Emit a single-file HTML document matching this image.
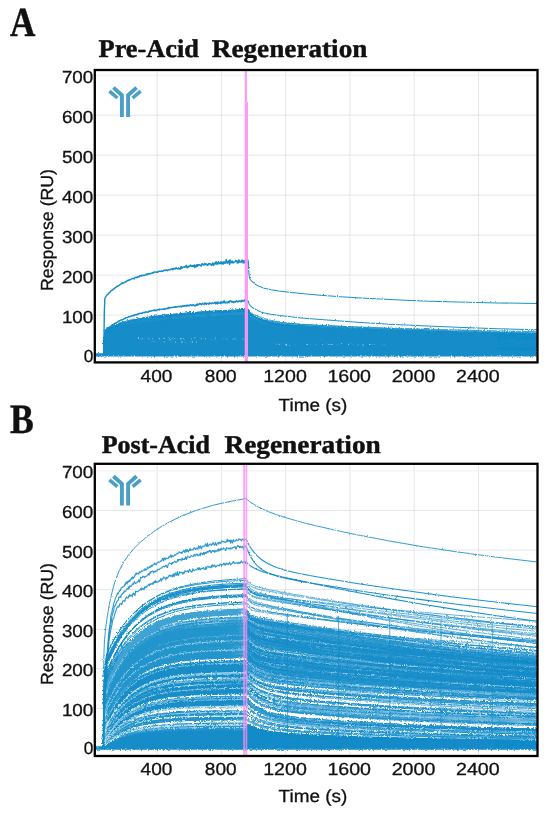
<!DOCTYPE html>
<html><head><meta charset="utf-8"><title>SPR</title>
<style>html,body{margin:0;padding:0;background:#fff;}svg{display:block;}text{font-family:"Liberation Sans",sans-serif;fill:#111;stroke:#111;stroke-width:.3px;text-rendering:geometricPrecision;opacity:.999;}.ser{font-family:"Liberation Serif",serif;font-weight:bold;fill:#111;stroke:#111;stroke-width:.45px;}</style></head><body>
<svg width="550" height="816" viewBox="0 0 550 816">
<defs><filter id="nz" x="0" y="0" width="100%" height="100%" filterUnits="userSpaceOnUse" primitiveUnits="userSpaceOnUse"><feTurbulence type="fractalNoise" baseFrequency="0.7 0.7" numOctaves="1" seed="3" result="t"/><feDisplacementMap in="SourceGraphic" in2="t" scale="4" xChannelSelector="R" yChannelSelector="G"/></filter><filter id="nz2" x="0" y="0" width="100%" height="100%" filterUnits="userSpaceOnUse" primitiveUnits="userSpaceOnUse"><feTurbulence type="fractalNoise" baseFrequency="0.8 0.8" numOctaves="1" seed="11" result="t"/><feDisplacementMap in="SourceGraphic" in2="t" scale="3.2" xChannelSelector="R" yChannelSelector="G"/></filter><filter id="nzl" x="0" y="0" width="100%" height="100%" filterUnits="userSpaceOnUse" primitiveUnits="userSpaceOnUse"><feTurbulence type="fractalNoise" baseFrequency="0.8 0.8" numOctaves="1" seed="21" result="t"/><feDisplacementMap in="SourceGraphic" in2="t" scale="3" xChannelSelector="R" yChannelSelector="G"/></filter><filter id="nzs" x="0" y="0" width="100%" height="100%" filterUnits="userSpaceOnUse" primitiveUnits="userSpaceOnUse"><feTurbulence type="fractalNoise" baseFrequency="0.85 0.85" numOctaves="1" seed="8" result="t"/><feDisplacementMap in="SourceGraphic" in2="t" scale="2.5" xChannelSelector="R" yChannelSelector="G"/></filter><clipPath id="cA"><rect x="95" y="70" width="442.5" height="292.4"/></clipPath><clipPath id="cB"><rect x="95" y="463.8" width="442.5" height="292.2"/></clipPath></defs>
<rect width="550" height="816" fill="#fff"/>
<path d="M157.2 70V362.4M221.4 70V362.4M285.7 70V362.4M349.9 70V362.4M414.2 70V362.4M478.5 70V362.4M94.8 355.2H537.5M94.8 315.2H537.5M94.8 275.2H537.5M94.8 235.2H537.5M94.8 195.2H537.5M94.8 155.2H537.5M94.8 115.2H537.5" stroke="#e6e6e6" stroke-width="1" fill="none"/>
<path d="M94.8 75.2H537.5" stroke="#f1f1f1" stroke-width="1" fill="none"/>
<g clip-path="url(#cA)"><g filter="url(#nz)"><path d="M95 354.9H537" stroke="#138cc8" stroke-width="3.2" fill="none"/><path d="M103.9 355.2l.1 0 .2-13.1 .3-4.9 .6-3 .8-.7 1-.5 1.3-.8 1.6-.8 1.9-.9 2.2-.9 2.9-1.1 3.2-1.1 4.1-1.2 4.8-1.1 5.6-1.2 6.4-1.1 8.1-1.1 9.6-1.2 11.3-1.1 12.8-1.1 14.5-1 16-1 16.1-.7 19.1-.8 .3 1.3 .7 .9 .9 .8 1.3 .8 2 1.1 2.5 1.3 3.6 1.5 4.8 1.6 6.4 1.5 8 1.4 9.7 1.1 12.8 1 16.1 .9 19.3 .8 24.1 1 28.9 1 32.1 1 35.4 .9 40.1 .9 39.9 .8V355.2z" fill="#138cc8" stroke="none"/><path d="M103.9 355.2l.1 0 .2-14.6 .3-5.5 .6-3.3 .8-.7 1-.6 1.3-.7 1.6-.9 1.9-1 2.2-1 2.9-1.2 3.2-1.2 4.1-1.3 4.8-1.3 5.6-1.3 6.4-1.2 8.1-1.4 9.6-1.3 11.3-1.2 12.8-1.3 14.5-1.1 16-1.1 16.1-.9 19.1-.9 .3 1.2 .7 1 .9 1.1 1.3 1.2 2 1.5 2.5 1.8 3.6 1.9 4.8 1.9 6.4 1.8 8 1.4 9.7 1.2 12.8 1 16.1 1.1 19.3 1 24.1 1.2 28.9 1.2 32.1 1.1 35.4 1.1 40.1 1.1 39.9 .8M103.9 355.2l.1 0 .2-12.4 .3-4.7 .6-2.8 .8-.7 1-.5 1.3-.7 1.6-.9 1.9-.9 2.2-1 2.9-1.1 3.2-1.1 4.1-1.3 4.8-1.2 5.6-1.2 6.4-1.2 8.1-1.3 9.6-1.2 11.3-1.2 12.8-1.2 14.5-1.1 16-1 16.1-.8 19.1-.8 .3 .8 .7 .7 .9 .7 1.3 .8 2 1.1 2.5 1.3 3.6 1.6 4.8 1.6 6.4 1.6 8 1.5 9.7 1.1 12.8 1.1 16.1 1 19.3 1 24.1 1 28.9 1 32.1 1 35.4 1 40.1 .9 39.9 .7M103.9 355.2l.1 0 .2-12.8 .3-4.9 .6-3 .8-.8 1-.6 1.3-.9 1.6-.9 1.9-1.1 2.2-1.1 2.9-1.3 3.2-1.2 4.1-1.4 4.8-1.4 5.6-1.3 6.4-1.3 8.1-1.3 9.6-1.3 11.3-1.3 12.8-1.2 14.5-1.1 16-1 16.1-.9 19.1-.7 .3 1.3 .7 1 .9 .6 1.3 .6 2 .9 2.5 1.1 3.6 1.3 4.8 1.4 6.4 1.5 8 1.4 9.7 1.3 12.8 1.1 16.1 1.1 19.3 1 24.1 1 28.9 1 32.1 1 35.4 1 40.1 1 39.9 .8M103.9 355.2l.1 0 .2-14.9 .3-5.5 .6-3.4 .8-.7 1-.5 1.3-.7 1.6-.9 1.9-.9 2.2-1 2.9-1.1 3.2-1.1 4.1-1.2 4.8-1.3 5.6-1.2 6.4-1.2 8.1-1.2 9.6-1.3 11.3-1.2 12.8-1.2 14.5-1 16-1.1 16.1-.8 19.1-.8 .3 1.3 .7 1 .9 .7 1.3 .9 2 1.2 2.5 1.5 3.6 1.6 4.8 1.7 6.4 1.7 8 1.6 9.7 1.2 12.8 1.2 16.1 1 19.3 1 24.1 1.1 28.9 1.1 32.1 1.1 35.4 1 40.1 1 39.9 .8M103.9 355.2l.1 0 .2-14 .3-5.3 .6-3.2 .8-.7 1-.6 1.3-.8 1.6-.8 1.9-1 2.2-1.1 2.9-1.2 3.2-1.1 4.1-1.3 4.8-1.3 5.6-1.3 6.4-1.2 8.1-1.3 9.6-1.3 11.3-1.2 12.8-1.2 14.5-1.1 16-1 16.1-.9 19.1-.8 .3 1.1 .7 1 .9 .7 1.3 .9 2 1.2 2.5 1.4 3.6 1.6 4.8 1.7 6.4 1.8 8 1.5 9.7 1.3 12.8 1.1 16.1 .9 19.3 .9 24.1 .9 28.9 .9 32.1 .9 35.4 .9 40.1 .8 39.9 .8M103.9 355.2l.1 0 .2-14.1 .3-5.2 .6-3.3 .8-.7 1-.6 1.3-.8 1.6-1 1.9-1 2.2-1.1 2.9-1.3 3.2-1.2 4.1-1.3 4.8-1.4 5.6-1.4 6.4-1.3 8.1-1.3 9.6-1.4 11.3-1.3 12.8-1.3 14.5-1.2 16-1.2 16.1-1 19.1-.9 .3 1.2 .7 1 .9 1 1.3 1.2 2 1.5 2.5 1.6 3.6 1.8 4.8 1.7 6.4 1.5 8 1.3 9.7 .9 12.8 .9 16.1 .8 19.3 1 24.1 1 28.9 1.1 32.1 1.1 35.4 1.1 40.1 1 39.9 .9M103.9 355.2l.1 0 .2-15 .3-5.6 .6-3.4 .8-.7 1-.6 1.3-.7 1.6-.9 1.9-.9 2.2-1 2.9-1.2 3.2-1.1 4.1-1.3 4.8-1.3 5.6-1.2 6.4-1.2 8.1-1.3 9.6-1.3 11.3-1.2 12.8-1.2 14.5-1.1 16-1 16.1-.9 19.1-.8 .3 1.5 .7 1.1 .9 .8 1.3 .9 2 1.3 2.5 1.3 3.6 1.5 4.8 1.5 6.4 1.4 8 1.1 9.7 .8 12.8 .9 16.1 .8 19.3 .8 24.1 1 28.9 1 32.1 1 35.4 .9 40.1 .9 39.9 .8M103.9 355.2l.1 0 .2-15.9 .3-6 .6-3.6 .8-.7 1-.6 1.3-.8 1.6-.8 1.9-1 2.2-1 2.9-1.1 3.2-1.1 4.1-1.2 4.8-1.2 5.6-1.1 6.4-1.2 8.1-1.1 9.6-1.2 11.3-1.1 12.8-1.1 14.5-1.1 16-.9 16.1-.8 19.1-.7 .3 1.6 .7 1.3 .9 .8 1.3 .9 2 1.2 2.5 1.4 3.6 1.7 4.8 1.7 6.4 1.8 8 1.5 9.7 1.2 12.8 1.1 16.1 1 19.3 1 24.1 1.1 28.9 1.1 32.1 1 35.4 1.1 40.1 1 39.9 .8M103.9 355.2l.1 0 .2-13.5 .3-5 .6-3 .8-.7 1-.4 1.3-.6 1.6-.8 1.9-.7 2.2-.8 2.9-1 3.2-.9 4.1-.9 4.8-1 5.6-1 6.4-.9 8.1-1 9.6-.9 11.3-1 12.8-.9 14.5-.9 16-.9 16.1-.7 19.1-.7 .3 1.2 .7 .9 .9 .5 1.3 .6 2 .8 2.5 .9 3.6 1.2 4.8 1.3 6.4 1.3 8 1.3 9.7 1.1 12.8 1.1 16.1 1 19.3 .9 24.1 .9 28.9 1 32.1 .9 35.4 .9 40.1 .8 39.9 .7M103.9 355.2l.1 0 .2-13.6 .3-5.1 .6-3.1 .8-.6 1-.6 1.3-.7 1.6-.8 1.9-.9 2.2-.9 2.9-1.1 3.2-1.1 4.1-1.2 4.8-1.2 5.6-1.2 6.4-1.2 8.1-1.2 9.6-1.2 11.3-1.2 12.8-1.1 14.5-1 16-1 16.1-.7 19.1-.8 .3 .9 .7 .8 .9 .7 1.3 .8 2 1 2.5 1.3 3.6 1.5 4.8 1.6 6.4 1.6 8 1.4 9.7 1.1 12.8 1.1 16.1 .9 19.3 .8 24.1 .9 28.9 .9 32.1 .9 35.4 .9 40.1 .8 39.9 .8M103.9 355.2l.1 0 .2-13.1 .3-5 .6-3 .8-.8 1-.6 1.3-.8 1.6-.9 1.9-1 2.2-1 2.9-1.2 3.2-1.1 4.1-1.2 4.8-1.2 5.6-1.2 6.4-1.2 8.1-1.1 9.6-1.2 11.3-1.2 12.8-1.2 14.5-1.1 16-1 16.1-.9 19.1-.9 .3 1.2 .7 1.1 .9 1 1.3 1.1 2 1.5 2.5 1.5 3.6 1.6 4.8 1.6 6.4 1.3 8 1 9.7 .7 12.8 .8 16.1 .7 19.3 .8 24.1 .8 28.9 1 32.1 .9 35.4 .9 40.1 .8 39.9 .8M103.9 355.2l.1 0 .2-12.8 .3-4.8 .6-2.9 .8-.7 1-.6 1.3-.6 1.6-.8 1.9-.9 2.2-.9 2.9-1 3.2-1 4.1-1.1 4.8-1 5.6-1 6.4-1 8.1-1 9.6-1.1 11.3-1 12.8-1 14.5-.9 16-.9 16.1-.8 19.1-.7 .3 .8 .7 .8 .9 .6 1.3 .8 2 1 2.5 1.1 3.6 1.3 4.8 1.3 6.4 1.3 8 1.1 9.7 .8 12.8 .8 16.1 .8 19.3 .7 24.1 .8 28.9 .9 32.1 .9 35.4 .9 40.1 .8 39.9 .7M103.9 355.2l.1 0 .2-11.7 .3-4.5 .6-2.7 .8-.6 1-.6 1.3-.7 1.6-.9 1.9-.9 2.2-.9 2.9-1.1 3.2-1.1 4.1-1.1 4.8-1.2 5.6-1.1 6.4-1.1 8.1-1.1 9.6-1.2 11.3-1.1 12.8-1 14.5-1 16-1 16.1-.7 19.1-.7 .3 1.6 .7 1.3 .9 .9 1.3 1 2 1.3 2.5 1.4 3.6 1.5 4.8 1.5 6.4 1.3 8 1 9.7 .8 12.8 .7 16.1 .7 19.3 .7 24.1 .9 28.9 .9 32.1 .8 35.4 .9 40.1 .8 39.9 .7M103.9 355.2l.1 0 .2-13.8 .3-5.3 .6-3.2 .8-.7 1-.7 1.3-.8 1.6-1 1.9-1.1 2.2-1.1 2.9-1.2 3.2-1.3 4.1-1.3 4.8-1.3 5.6-1.3 6.4-1.2 8.1-1.3 9.6-1.3 11.3-1.3 12.8-1.2 14.5-1.2 16-1.1 16.1-1 19.1-.9 .3 1.8 .7 1.3 .9 .9 1.3 .9 2 1.2 2.5 1.4 3.6 1.6 4.8 1.7 6.4 1.6 8 1.4 9.7 1.1 12.8 1.1 16.1 1 19.3 .9 24.1 1.1 28.9 1.1 32.1 1.1 35.4 1.1 40.1 1 39.9 .9M103.9 355.2l.1 0 .2-13.3 .3-5 .6-3.2 .8-.8 1-.7 1.3-1 1.6-1 1.9-1.2 2.2-1.2 2.9-1.5 3.2-1.3 4.1-1.5 4.8-1.4 5.6-1.5 6.4-1.3 8.1-1.5 9.6-1.4 11.3-1.4 12.8-1.4 14.5-1.2 16-1.2 16.1-.9 19.1-1 .3 1 .7 .9 .9 .7 1.3 .8 2 1.2 2.5 1.3 3.6 1.7 4.8 1.7 6.4 1.8 8 1.6 9.7 1.4 12.8 1.2 16.1 1 19.3 .9 24.1 1 28.9 1 32.1 .9 35.4 .9 40.1 1 39.9 .7M103.9 355.2l.1 0 .2-14.1 .3-5.3 .6-3.2 .8-.8 1-.6 1.3-.9 1.6-.9 1.9-1.1 2.2-1 2.9-1.3 3.2-1.1 4.1-1.3 4.8-1.3 5.6-1.2 6.4-1.2 8.1-1.2 9.6-1.3 11.3-1.2 12.8-1.2 14.5-1.2 16-1.1 16.1-.9 19.1-.9 .3 1.5 .7 1.2 .9 .9 1.3 1 2 1.4 2.5 1.5 3.6 1.6 4.8 1.5 6.4 1.4 8 1.1 9.7 .9 12.8 .8 16.1 .8 19.3 .9 24.1 .9 28.9 1.1 32.1 1 35.4 1 40.1 1 39.9 .9M103.9 355.2l.1 0 .2-13.1 .3-5 .6-3 .8-.7 1-.5 1.3-.8 1.6-.8 1.9-.9 2.2-1 2.9-1.1 3.2-1 4.1-1.1 4.8-1.2 5.6-1.1 6.4-1.1 8.1-1.1 9.6-1.1 11.3-1.1 12.8-1.1 14.5-1.1 16-1 16.1-.8 19.1-.8 .3 1.3 .7 1.1 .9 .9 1.3 .9 2 1.3 2.5 1.4 3.6 1.7 4.8 1.8 6.4 1.8 8 1.5 9.7 1.2 12.8 1.1 16.1 1.1 19.3 1 24.1 1.1 28.9 1.1 32.1 1.1 35.4 1.1 40.1 .9 39.9 .9M103.9 355.2l.1 0 .2-14.8 .3-5.6 .6-3.3 .8-.7 1-.5 1.3-.7 1.6-.8 1.9-.9 2.2-1 2.9-1.1 3.2-1.1 4.1-1.2 4.8-1.2 5.6-1.2 6.4-1.1 8.1-1.2 9.6-1.2 11.3-1.2 12.8-1.1 14.5-1.1 16-1 16.1-.8 19.1-.8 .3 1.6 .7 1.1 .9 .7 1.3 .7 2 1 2.5 1.2 3.6 1.5 4.8 1.6 6.4 1.7 8 1.6 9.7 1.3 12.8 1.4 16.1 1.1 19.3 1.1 24.1 1.1 28.9 1.2 32.1 1.1 35.4 1.1 40.1 1.1 39.9 .9M103.9 355.2l.1 0 .2-12.2 .3-4.6 .6-2.9 .8-.7 1-.7 1.3-.7 1.6-1 1.9-1 2.2-1 2.9-1.2 3.2-1.2 4.1-1.2 4.8-1.3 5.6-1.2 6.4-1.2 8.1-1.2 9.6-1.2 11.3-1.2 12.8-1.1 14.5-1.1 16-1 16.1-.7 19.1-.8 .3 1 .7 .7 .9 .6 1.3 .6 2 .9 2.5 1.1 3.6 1.3 4.8 1.4 6.4 1.4 8 1.4 9.7 1.2 12.8 1.2 16.1 1.1 19.3 1 24.1 1.1 28.9 1.1 32.1 1.1 35.4 1.1 40.1 .9 39.9 .9M103.9 355.2l.1 0 .2-14.9 .3-5.6 .6-3.4 .8-.7 1-.5 1.3-.7 1.6-.9 1.9-.9 2.2-1 2.9-1.1 3.2-1.1 4.1-1.2 4.8-1.3 5.6-1.2 6.4-1.2 8.1-1.3 9.6-1.2 11.3-1.2 12.8-1.1 14.5-1 16-1 16.1-.7 19.1-.7 .3 1.2 .7 1 .9 .7 1.3 .8 2 1.1 2.5 1.3 3.6 1.5 4.8 1.7 6.4 1.8 8 1.6 9.7 1.3 12.8 1.3 16.1 1.2 19.3 1.1 24.1 1.1 28.9 1.2 32.1 1.1 35.4 1.1 40.1 1.1 39.9 .9M103.9 355.2l.1 0 .2-13.1 .3-4.9 .6-3 .8-.7 1-.6 1.3-.7 1.6-.9 1.9-.9 2.2-1 2.9-1.1 3.2-1 4.1-1.1 4.8-1.2 5.6-1 6.4-1.1 8.1-1.1 9.6-1.1 11.3-1.1 12.8-1 14.5-1.1 16-.9 16.1-.8 19.1-.8 .3 1.2 .7 .9 .9 .6 1.3 .6 2 .9 2.5 1.1 3.6 1.3 4.8 1.3 6.4 1.5 8 1.3 9.7 1.1 12.8 1.1 16.1 1 19.3 .9 24.1 1 28.9 1 32.1 .9 35.4 .9 40.1 .9 39.9 .6M103.9 355.2l.1 0 .2-15 .3-5.6 .6-3.5 .8-.7 1-.6 1.3-.8 1.6-.9 1.9-.9 2.2-1.1 2.9-1.1 3.2-1.2 4.1-1.2 4.8-1.2 5.6-1.2 6.4-1.2 8.1-1.2 9.6-1.2 11.3-1.1 12.8-1.1 14.5-1.1 16-.9 16.1-.7 19.1-.8 .3 1.9 .7 1.3 .9 .7 1.3 .8 2 1 2.5 1.2 3.6 1.5 4.8 1.6 6.4 1.7 8 1.6 9.7 1.3 12.8 1.3 16.1 1.1 19.3 1.1 24.1 1.1 28.9 1.1 32.1 1.1 35.4 1.1 40.1 1 39.9 .9M103.9 355.2l.1 0 .2-14.3 .3-5.3 .6-3.3 .8-.8 1-.6 1.3-.9 1.6-1 1.9-1 2.2-1.2 2.9-1.3 3.2-1.2 4.1-1.4 4.8-1.3 5.6-1.4 6.4-1.3 8.1-1.4 9.6-1.3 11.3-1.4 12.8-1.2 14.5-1.3 16-1.1 16.1-1 19.1-.9 .3 1.8 .7 1.3 .9 .9 1.3 1.1 2 1.4 2.5 1.6 3.6 1.8 4.8 2 6.4 1.9 8 1.7 9.7 1.3 12.8 1.2 16.1 1.1 19.3 1 24.1 1.1 28.9 1.2 32.1 1.1 35.4 1.1 40.1 1 39.9 .9M103.9 355.2l.1 0 .2-14.6 .3-5.4 .6-3.4 .8-.8 1-.6 1.3-.9 1.6-.9 1.9-1.1 2.2-1.1 2.9-1.2 3.2-1.3 4.1-1.3 4.8-1.3 5.6-1.3 6.4-1.3 8.1-1.3 9.6-1.3 11.3-1.3 12.8-1.3 14.5-1.2 16-1.1 16.1-.9 19.1-1 .3 .9 .7 .8 .9 .9 1.3 .9 2 1.3 2.5 1.4 3.6 1.7 4.8 1.7 6.4 1.6 8 1.4 9.7 1.2 12.8 1.1 16.1 1 19.3 1.1 24.1 1.1 28.9 1.3 32.1 1.1 35.4 1.1 40.1 1.1 39.9 .8M103.9 355.2l.1 0 .2-15.2 .3-5.7 .6-3.4 .8-.7 1-.6 1.3-.7 1.6-.8 1.9-1 2.2-1 2.9-1.1 3.2-1.2 4.1-1.2 4.8-1.3 5.6-1.3 6.4-1.2 8.1-1.3 9.6-1.3 11.3-1.3 12.8-1.1 14.5-1.1 16-1 16.1-.8 19.1-.8 .3 1.6 .7 1.2 .9 1 1.3 1.2 2 1.5 2.5 1.7 3.6 2 4.8 1.9 6.4 1.8 8 1.5 9.7 1.2 12.8 1.1 16.1 1 19.3 1 24.1 1.1 28.9 1.1 32.1 1.2 35.4 1.1 40.1 1 39.9 .9M103.9 355.2l.1 0 .2-16.1 .3-6 .6-3.5 .8-.7 1-.5 1.3-.7 1.6-.8 1.9-.8 2.2-.9 2.9-1.1 3.2-1.1 4.1-1.1 4.8-1.2 5.6-1.2 6.4-1.2 8.1-1.2 9.6-1.2 11.3-1.1 12.8-1.2 14.5-1 16-1 16.1-.9 19.1-.8 .3 1.6 .7 1.3 .9 .9 1.3 1 2 1.4 2.5 1.5 3.6 1.7 4.8 1.8 6.4 1.6 8 1.4 9.7 1.1 12.8 1 16.1 1.1 19.3 1.1 24.1 1.2 28.9 1.3 32.1 1.2 35.4 1.1 40.1 1.1 39.9 .9M103.9 355.2l.1 0 .2-14.3 .3-5.4 .6-3.3 .8-.7 1-.7 1.3-.8 1.6-.9 1.9-1 2.2-1.1 2.9-1.2 3.2-1.2 4.1-1.2 4.8-1.3 5.6-1.2 6.4-1.2 8.1-1.2 9.6-1.2 11.3-1.2 12.8-1.1 14.5-1.1 16-.9 16.1-.8 19.1-.7 .3 1.4 .7 1.3 .9 1 1.3 1.2 2 1.5 2.5 1.6 3.6 1.8 4.8 1.7 6.4 1.5 8 1.1 9.7 .8 12.8 .8 16.1 .8 19.3 .8 24.1 .9 28.9 1 32.1 .9 35.4 .9 40.1 .9 39.9 .8M103.9 355.2l.1 0 .2-13.3 .3-5 .6-3.1 .8-.7 1-.6 1.3-.8 1.6-.9 1.9-1 2.2-1.1 2.9-1.2 3.2-1.2 4.1-1.3 4.8-1.3 5.6-1.3 6.4-1.2 8.1-1.3 9.6-1.2 11.3-1.3 12.8-1.1 14.5-1.1 16-.9 16.1-.8 19.1-.7 .3 1.7 .7 1.4 .9 .9 1.3 1.1 2 1.4 2.5 1.5 3.6 1.7 4.8 1.6 6.4 1.6 8 1.2 9.7 1 12.8 .9 16.1 .9 19.3 1 24.1 1 28.9 1.1 32.1 1.1 35.4 1 40.1 .9 39.9 .8M103.9 355.2l.1 0 .2-14 .3-5.3 .6-3.3 .8-.8 1-.7 1.3-.8 1.6-1 1.9-1.1 2.2-1.1 2.9-1.3 3.2-1.3 4.1-1.3 4.8-1.3 5.6-1.3 6.4-1.3 8.1-1.3 9.6-1.3 11.3-1.3 12.8-1.3 14.5-1.2 16-1.2 16.1-.9 19.1-1 .3 1.2 .7 1.1 .9 1.1 1.3 1.2 2 1.6 2.5 1.7 3.6 1.9 4.8 1.8 6.4 1.5 8 1.3 9.7 .9 12.8 .9 16.1 .9 19.3 .9 24.1 1 28.9 1.1 32.1 1.1 35.4 1 40.1 1 39.9 .8M103.9 355.2l.1 0 .2-13.4 .3-5 .6-3 .8-.7 1-.5 1.3-.7 1.6-.7 1.9-.8 2.2-.9 2.9-1 3.2-.9 4.1-1 4.8-1 5.6-1 6.4-1 8.1-1 9.6-1 11.3-.9 12.8-1 14.5-.9 16-.9 16.1-.7 19.1-.7 .3 1.3 .7 1 .9 .7 1.3 .9 2 1.1 2.5 1.4 3.6 1.4 4.8 1.6 6.4 1.5 8 1.2 9.7 1 12.8 .9 16.1 .9 19.3 .8 24.1 .9 28.9 .9 32.1 .9 35.4 .9 40.1 .8 39.9 .7M103.9 355.2l.1 0 .2-13 .3-4.9 .6-2.9 .8-.7 1-.5 1.3-.7 1.6-.9 1.9-.9 2.2-1 2.9-1.1 3.2-1.1 4.1-1.3 4.8-1.3 5.6-1.2 6.4-1.2 8.1-1.3 9.6-1.3 11.3-1.2 12.8-1.1 14.5-1 16-.9 16.1-.8 19.1-.7 .3 1.4 .7 1.2 .9 1 1.3 1.1 2 1.4 2.5 1.5 3.6 1.6 4.8 1.6 6.4 1.3 8 1 9.7 .8 12.8 .6 16.1 .7 19.3 .7 24.1 .8 28.9 .8 32.1 .9 35.4 .8 40.1 .8 39.9 .7M103.9 355.2l.1 0 .2-13.9 .3-5.2 .6-3.2 .8-.7 1-.6 1.3-.7 1.6-.8 1.9-.9 2.2-1 2.9-1.2 3.2-1.1 4.1-1.2 4.8-1.3 5.6-1.2 6.4-1.2 8.1-1.3 9.6-1.2 11.3-1.3 12.8-1.1 14.5-1.1 16-1 16.1-.8 19.1-.8 .3 .9 .7 .9 .9 .7 1.3 .8 2 1.2 2.5 1.4 3.6 1.6 4.8 1.9 6.4 1.9 8 1.8 9.7 1.6 12.8 1.4 16.1 1.4 19.3 1.2 24.1 1.2 28.9 1.2 32.1 1.2 35.4 1.1 40.1 1.1 39.9 .8M103.9 355.2l.1 0 .2-13.7 .3-5.1 .6-3.1 .8-.7 1-.5 1.3-.7 1.6-.8 1.9-1 2.2-.9 2.9-1.1 3.2-1.1 4.1-1.2 4.8-1.2 5.6-1.2 6.4-1.2 8.1-1.2 9.6-1.2 11.3-1.1 12.8-1.2 14.5-1 16-1 16.1-.8 19.1-.8 .3 1.3 .7 1.1 .9 1 1.3 1 2 1.3 2.5 1.5 3.6 1.5 4.8 1.6 6.4 1.4 8 1.2 9.7 .9 12.8 .9 16.1 .8 19.3 1 24.1 1 28.9 1 32.1 1.1 35.4 .9 40.1 1 39.9 .7M103.9 355.2l.1 0 .2-15.5 .3-5.8 .6-3.5 .8-.7 1-.6 1.3-.8 1.6-.9 1.9-.9 2.2-1 2.9-1.1 3.2-1.1 4.1-1.1 4.8-1.2 5.6-1.1 6.4-1 8.1-1.1 9.6-1.1 11.3-1.1 12.8-1.1 14.5-1 16-1 16.1-.8 19.1-.8 .3 1.4 .7 1.1 .9 .7 1.3 .9 2 1.1 2.5 1.4 3.6 1.5 4.8 1.7 6.4 1.6 8 1.4 9.7 1.2 12.8 1.1 16.1 1 19.3 1 24.1 1.1 28.9 1.2 32.1 1.1 35.4 1.1 40.1 1 39.9 .8M103.9 355.2l.1 0 .2-12.8 .3-4.8 .6-2.9 .8-.6 1-.6 1.3-.6 1.6-.8 1.9-.9 2.2-.9 2.9-1 3.2-1.1 4.1-1.1 4.8-1.1 5.6-1.2 6.4-1.1 8.1-1.1 9.6-1.1 11.3-1.2 12.8-1 14.5-1.1 16-.9 16.1-.9 19.1-.8 .3 1.7 .7 1.1 .9 .7 1.3 .8 2 1.1 2.5 1.2 3.6 1.4 4.8 1.5 6.4 1.4 8 1.2 9.7 1 12.8 1 16.1 1 19.3 .9 24.1 1 28.9 1.1 32.1 1 35.4 .9 40.1 1 39.9 .7M103.9 355.2l.1 0 .2-13.6 .3-5.2 .6-3 .8-.6 1-.5 1.3-.7 1.6-.7 1.9-.8 2.2-.8 2.9-.9 3.2-.9 4.1-1 4.8-1 5.6-.9 6.4-1 8.1-.9 9.6-1 11.3-.9 12.8-1 14.5-.8 16-.9 16.1-.7 19.1-.7 .3 .9 .7 .8 .9 .7 1.3 .8 2 1.1 2.5 1.3 3.6 1.5 4.8 1.7 6.4 1.7 8 1.5 9.7 1.3 12.8 1.2 16.1 1 19.3 1.1 24.1 1 28.9 1.1 32.1 1 35.4 1 40.1 1 39.9 .7M103.9 355.2l.1 0 .2-3.8 .3-1.4 .6-.9 .8-.2 1-.2 1.3-.2 1.6-.3 1.9-.3 2.2-.2 2.9-.4 3.2-.3 4.1-.3 4.8-.4 5.6-.3 6.4-.3 8.1-.3 9.6-.4 11.3-.3 12.8-.3 14.5-.3 16-.3 16.1-.2 19.1-.2 .3 .3 .7 .2 .9 .3 1.3 .2 2 .4 2.5 .4 3.6 .4 4.8 .5 6.4 .4 8 .3 9.7 .2 12.8 .2 16.1 .3 19.3 .2 24.1 .2 28.9 .3 32.1 .3 35.4 .3 40.1 .2 39.9 .2M103.9 355.2l.1 0 .2-11.5 .3-4.4 .6-2.7 .8-.6 1-.6 1.3-.7 1.6-.8 1.9-.9 2.2-.9 2.9-1.1 3.2-1 4.1-1 4.8-1.1 5.6-1 6.4-1 8.1-1.1 9.6-1 11.3-1 12.8-1.1 14.5-.9 16-1 16.1-.7 19.1-.8 .3 .8 .7 .8 .9 .8 1.3 .9 2 1.2 2.5 1.3 3.6 1.4 4.8 1.3 6.4 1.2 8 .9 9.7 .7 12.8 .7 16.1 .7 19.3 .7 24.1 .9 28.9 .9 32.1 .9 35.4 .9 40.1 .9 39.9 .7M103.9 355.2l.1 0 .2-3.7 .3-1.3 .6-.9 .8-.2 1-.2 1.3-.2 1.6-.3 1.9-.3 2.2-.3 2.9-.3 3.2-.4 4.1-.3 4.8-.4 5.6-.3 6.4-.4 8.1-.3 9.6-.4 11.3-.3 12.8-.4 14.5-.3 16-.3 16.1-.2 19.1-.3 .3 .5 .7 .3 .9 .3 1.3 .4 2 .4 2.5 .5 3.6 .5 4.8 .5 6.4 .5 8 .3 9.7 .3 12.8 .3 16.1 .2 19.3 .3 24.1 .3 28.9 .4 32.1 .3 35.4 .3 40.1 .3 39.9 .3M103.9 355.2l.1 0 .2-4.6 .3-1.7 .6-1.1 .8-.2 1-.2 1.3-.3 1.6-.3 1.9-.4 2.2-.3 2.9-.5 3.2-.4 4.1-.4 4.8-.4 5.6-.5 6.4-.4 8.1-.4 9.6-.4 11.3-.5 12.8-.4 14.5-.4 16-.4 16.1-.3 19.1-.3 .3 .6 .7 .5 .9 .4 1.3 .4 2 .6 2.5 .5 3.6 .7 4.8 .6 6.4 .5 8 .4 9.7 .2 12.8 .3 16.1 .2 19.3 .3 24.1 .3 28.9 .3 32.1 .3 35.4 .3 40.1 .3 39.9 .3M103.9 355.2l.1 0 .2-5.9 .3-2.3 .6-1.4 .8-.3 1-.3 1.3-.4 1.6-.5 1.9-.5 2.2-.5 2.9-.5 3.2-.5 4.1-.6 4.8-.6 5.6-.5 6.4-.5 8.1-.6 9.6-.6 11.3-.5 12.8-.5 14.5-.5 16-.5 16.1-.4 19.1-.4 .3 .5 .7 .4 .9 .3 1.3 .3 2 .5 2.5 .6 3.6 .6 4.8 .7 6.4 .7 8 .6 9.7 .4 12.8 .5 16.1 .4 19.3 .3 24.1 .4 28.9 .4 32.1 .5 35.4 .4 40.1 .3 39.9 .4M103.9 355.2l.1 0 .2-9 .3-3.4 .6-2 .8-.5 1-.3 1.3-.5 1.6-.6 1.9-.5 2.2-.7 2.9-.7 3.2-.6 4.1-.7 4.8-.7 5.6-.7 6.4-.7 8.1-.7 9.6-.7 11.3-.7 12.8-.7 14.5-.6 16-.7 16.1-.5 19.1-.5 .3 .9 .7 .8 .9 .5 1.3 .6 2 .8 2.5 .9 3.6 1 4.8 1 6.4 .9 8 .7 9.7 .6 12.8 .6 16.1 .5 19.3 .5 24.1 .6 28.9 .6 32.1 .7 35.4 .5 40.1 .6 39.9 .5M103.9 355.2l.1 0 .2-10.5 .3-3.9 .6-2.3 .8-.6 1-.4 1.3-.6 1.6-.6 1.9-.7 2.2-.7 2.9-.8 3.2-.9 4.1-.8 4.8-.9 5.6-.8 6.4-.9 8.1-.8 9.6-.9 11.3-.8 12.8-.8 14.5-.8 16-.7 16.1-.7 19.1-.6 .3 1 .7 .7 .9 .6 1.3 .7 2 .9 2.5 1.1 3.6 1.2 4.8 1.3 6.4 1.2 8 1 9.7 .8 12.8 .7 16.1 .7 19.3 .6 24.1 .6 28.9 .7 32.1 .7 35.4 .7 40.1 .6 39.9 .6M103.9 355.2l.1 0 .2-3.2 .3-1.2 .6-.8 .8-.2 1-.1 1.3-.2 1.6-.2 1.9-.3 2.2-.2 2.9-.3 3.2-.3 4.1-.3 4.8-.3 5.6-.3 6.4-.3 8.1-.3 9.6-.3 11.3-.3 12.8-.3 14.5-.3 16-.2 16.1-.2 19.1-.3 .3 .3 .7 .2 .9 .2 1.3 .2 2 .2 2.5 .3 3.6 .4 4.8 .4 6.4 .4 8 .4 9.7 .4 12.8 .3 16.1 .2 19.3 .3 24.1 .2 28.9 .3 32.1 .2 35.4 .2 40.1 .2 39.9 .2M103.9 355.2l.1 0 .2-12.5 .3-4.7 .6-2.8 .8-.6 1-.4 1.3-.6 1.6-.6 1.9-.8 2.2-.7 2.9-.9 3.2-.9 4.1-1 4.8-1 5.6-1 6.4-1 8.1-1 9.6-.9 11.3-1 12.8-.9 14.5-.8 16-.7 16.1-.6 19.1-.5 .3 1.4 .7 .9 .9 .6 1.3 .5 2 .8 2.5 .9 3.6 1.1 4.8 1.2 6.4 1.2 8 1.2 9.7 .9 12.8 .9 16.1 .8 19.3 .7 24.1 .8 28.9 .8 32.1 .7 35.4 .7 40.1 .7 39.9 .6M103.9 355.2l.1 0 .2-9.9 .3-3.8 .6-2.2 .8-.5 1-.4 1.3-.6 1.6-.6 1.9-.7 2.2-.7 2.9-.8 3.2-.8 4.1-.9 4.8-.9 5.6-.9 6.4-.9 8.1-.9 9.6-.9 11.3-.9 12.8-.8 14.5-.8 16-.8 16.1-.6 19.1-.6 .3 .9 .7 .6 .9 .5 1.3 .5 2 .8 2.5 .8 3.6 1.1 4.8 1.1 6.4 1.2 8 1 9.7 .9 12.8 .8 16.1 .8 19.3 .7 24.1 .7 28.9 .8 32.1 .7 35.4 .7 40.1 .6 39.9 .5M103.9 355.2l.1 0 .2-5.4 .3-2 .6-1.3 .8-.3 1-.3 1.3-.4 1.6-.4 1.9-.4 2.2-.5 2.9-.5 3.2-.5 4.1-.5 4.8-.5 5.6-.5 6.4-.5 8.1-.5 9.6-.5 11.3-.5 12.8-.5 14.5-.5 16-.4 16.1-.4 19.1-.3 .3 .3 .7 .3 .9 .3 1.3 .3 2 .5 2.5 .6 3.6 .6 4.8 .7 6.4 .7 8 .7 9.7 .5 12.8 .5 16.1 .5 19.3 .4 24.1 .5 28.9 .4 32.1 .5 35.4 .4 40.1 .4 39.9 .3M103.9 355.2l.1 0 .2-4.7 .3-1.7 .6-1.1 .8-.2 1-.2 1.3-.2 1.6-.3 1.9-.3 2.2-.3 2.9-.3 3.2-.4 4.1-.4 4.8-.3 5.6-.4 6.4-.4 8.1-.4 9.6-.3 11.3-.4 12.8-.3 14.5-.4 16-.2 16.1-.3 19.1-.2 .3 .3 .7 .3 .9 .3 1.3 .4 2 .4 2.5 .5 3.6 .5 4.8 .5 6.4 .5 8 .3 9.7 .3 12.8 .3 16.1 .3 19.3 .3 24.1 .3 28.9 .3 32.1 .4 35.4 .3 40.1 .3 39.9 .3M103.9 355.2l.1 0 .2-8.1 .3-3.1 .6-1.9 .8-.4 1-.4 1.3-.4 1.6-.6 1.9-.6 2.2-.6 2.9-.7 3.2-.7 4.1-.8 4.8-.7 5.6-.8 6.4-.7 8.1-.8 9.6-.8 11.3-.7 12.8-.7 14.5-.7 16-.6 16.1-.6 19.1-.5 .3 1.2 .7 .8 .9 .6 1.3 .6 2 .9 2.5 .9 3.6 1.1 4.8 1.1 6.4 1 8 .9 9.7 .6 12.8 .7 16.1 .6 19.3 .6 24.1 .7 28.9 .7 32.1 .7 35.4 .7 40.1 .6 39.9 .5M103.9 355.2l.1 0 .2-8.1 .3-3 .6-1.9 .8-.4 1-.4 1.3-.5 1.6-.6 1.9-.6 2.2-.7 2.9-.7 3.2-.7 4.1-.8 4.8-.8 5.6-.7 6.4-.8 8.1-.7 9.6-.8 11.3-.7 12.8-.7 14.5-.7 16-.6 16.1-.5 19.1-.4 .3 1 .7 .8 .9 .6 1.3 .7 2 .8 2.5 1 3.6 1.1 4.8 1.1 6.4 1 8 .8 9.7 .7 12.8 .6 16.1 .6 19.3 .6 24.1 .7 28.9 .7 32.1 .7 35.4 .6 40.1 .6 39.9 .5M103.9 355.2l.1 0 .2-5.2 .3-2 .6-1.2 .8-.3 1-.2 1.3-.3 1.6-.3 1.9-.3 2.2-.4 2.9-.4 3.2-.4 4.1-.5 4.8-.5 5.6-.4 6.4-.5 8.1-.4 9.6-.5 11.3-.4 12.8-.4 14.5-.4 16-.4 16.1-.3 19.1-.3 .3 .4 .7 .4 .9 .4 1.3 .5 2 .5 2.5 .7 3.6 .7 4.8 .6 6.4 .6 8 .5 9.7 .3 12.8 .3 16.1 .3 19.3 .3 24.1 .4 28.9 .4 32.1 .3 35.4 .4 40.1 .3 39.9 .3M103.9 355.2l.1 0 .2-4.2 .3-1.6 .6-1 .8-.2 1-.2 1.3-.2 1.6-.2 1.9-.3 2.2-.3 2.9-.4 3.2-.3 4.1-.4 4.8-.4 5.6-.4 6.4-.4 8.1-.3 9.6-.4 11.3-.4 12.8-.4 14.5-.3 16-.3 16.1-.2 19.1-.3 .3 .5 .7 .4 .9 .3 1.3 .3 2 .5 2.5 .5 3.6 .5 4.8 .6 6.4 .5 8 .4 9.7 .3 12.8 .2 16.1 .3 19.3 .2 24.1 .3 28.9 .3 32.1 .3 35.4 .3 40.1 .3 39.9 .2" stroke="#138cc8" stroke-width=".8" stroke-opacity=".8" fill="none"/></g><path d="M103.8 355.0l.5-41.9 .5-13.8 .5-2 .5-.5 .4-.8 .5-.7 .5-.4 .5-.6 .5-.3 .4-1.1 .5 .1 .5-.7 .5 0 .5-1 .5-.6 .4-.2 .5-.2 .5-.2 .5-.8 .5-.4 .4 .1 .5-.7 .5-.4 .5-.1 .5-.6 .5-.2 .4-.7 .5 .3 .5-.7 .5-.2 .5 .2 .4-.6 .5-.3 .5-.7 .5 0 .5-.3 .5-.3 .4-.9 .5 .4 .5-.8 .5 .3 .5 .1 .4-.4 .5-.1 .5-.5 .5 .1 .5-.4 .5-1 .4 .3 .5-.2 .5-.5 .5 .5 .5-.8 .4 .1 .5-.2 .5-.2 .5-.3 .5-.5 .5-.2 .4 0 .5-.1 .5 .3 .5 .3 .5-1.3 .5-.4 .4 .1 .5 .3 .5-.2 .5-.7 .5 .6 .4-.6 .5-.2 .5 .3 .5-1.2 .5 .2 .5-.3 .4 .6 .5-.2 .5-.7 .5 .2 .5-.4 .4 .5 .5-.2 .5 .2 .5-.5 .5-.4 .5-.3 .4 .5 .5-.7 .5-.3 .5 .8 .5-.7 .4-.5 .5 .1 .5 .4 .5-.6 .5 .1 .5 0 .4-.4 .5 .1 .5-.6 .5 .5 .5 0 .4-1.2 .5 .3 .5 0 .5-.2 .5-.1 .5 .4 .4-.2 .5 .1 .5-.6 .5 .4 .5-.7 .4-.1 .5 .2 .5 0 .5-.1 .5 .2 .5-.7 .4 .5 .5-.1 .5-.1 .5-.5 .5-.5 .4 .3 .5 .2 .5 0 .5-.8 .5 .6 .5-.3 .4 .6 .5-.7 .5 0 .5-.3 .5 .1 .5-.3 .4 .3 .5-.7 .5 .1 .5-.2 .5-.5 .4 1.2 .5-.3 .5-1 .5 0 .5 .3 .5 .4 .4-.8 .5-.7 .5 .8 .5 .2 .5 .1 .4 .3 .5-1.1 .5 .6 .5 .5 .5-.7 .5 .8 .4-2.4 .5-.1 .5 1.6 .5-.4 .5-.8 .4 0 .5 .1 .5 .2 .5-.9 .5 .1 .5 .4 .4-1.6 .5 2 .5 .4 .5-1.4 .5 1 .4-1 .5 .3 .5-.8 .5 .4 .5-1.2 .5 .8 .4 .4 .5 0 .5-.5 .5 .7 .5-1 .4 1.1 .5-1.5 .5 2.6 .5-1.9 .5-.3 .5 1.4 .4-2 .5 1.5 .5-1.6 .5 .8 .5-.9 .5 .4 .4-.2 .5 .5 .5-.2 .5 1.2 .5-1.3 .4-1.5 .5 1.1 .5-.1 .5 .6 .5-.4 .5-1.4 .4 1.5 .5-1 .5 .5 .5-.3 .5 1.3 .4-.5 .5 .6 .5-1.8 .5-.2 .5 .7 .5-.3 .4-.2 .5 .6 .5 1.4 .5-1.3 .5 .5 .4-1.9 .5 1.7 .5 .8 .5-1.9 .5 0 .5 .5 .4-2.1 .5 1.6 .5-1.7 .5 2.8 .5-1.5 .4-.5 .5-.8 .5 2.1 .5-.6 .5-.7 .5 1.1 .4-2 .5 1.4 .5 .8 .5-1.7 .5 1.6 .4 .3 .5-2.3 .5 .1 .5 1.5 .5-.2 .5-1.4 .4-2.3 .5 1.8 .5 2.1 .5-1.6 .5-.3 .4 1.2 .5-2.2 .5 3.9 .5-4.4 .5 2.6 .5 .3 .4-.4 .5-1.6 .5 .6 .5 1.5 .5-1 .5 .5 .4-.3 .5-.2 .5-.8 .5-.9 .5 1 .4-.6 .5 2.3 .5-.7 .5 .4 .5-2.7 .5 .3 .4 1.8 .5-.7 .5 .2 .5 .6 .5-1.9 .4-.3 .5 .6 .5 2.6 .5-2.4 .5-.3 .5 2.2 .4-.7 .5-.1 .5-.7 .5-.4 .5 1.6 .4-.9 .5-2.1" stroke="#138cc8" stroke-width="1.4" stroke-opacity="1" fill="none" stroke-linejoin="round"/><path d="M248.4 260.8l.3 10.6 .7 6.1 .9 2 1.3 1.5 2 1.9 2.5 1.9 3.6 1.8 4.8 1.7 6.4 1.5 8 1.3 9.7 1.2 12.8 1.3 16.1 1.5 19.3 1.5 24.1 1.5 28.9 1.5 32.1 1.3 35.4 1.1 40.1 .9 39.9 .6" stroke="#138cc8" stroke-width="1.05" stroke-opacity=".95" fill="none" filter="url(#nzs)"/><path d="M103.8 355.5l.5-17.2 .5-6 .5-.9 .5-.6 .4-.5 .5-.6 .5-.7 .5 0 .5-.6 .4-.8 .5 .4 .5-.9 .5-.3 .5-.3 .5-.7 .4-.6 .5 .2 .5-.4 .5-.5 .5 .1 .4-.5 .5-.4 .5-.3 .5-.1 .5-.7 .5 .2 .4-.4 .5-.2 .5-.6 .5-.3 .5-.1 .4-.5 .5 .1 .5-.3 .5-.3 .5-.2 .5-.2 .4 0 .5 .1 .5-.6 .5-.3 .5-.2 .4 0 .5-.2 .5-.9 .5 0 .5 0 .5-.1 .4 0 .5-.3 .5-.5 .5-.1 .5 .1 .4-.2 .5-.1 .5-.1 .5-.6 .5-.1 .5 0 .4 0 .5-.6 .5 .2 .5 .4 .5-1 .5 .1 .4 .1 .5-.7 .5 .8 .5-.4 .5-.6 .4 .3 .5-.7 .5-.1 .5 .2 .5-.3 .5-.1 .4-.2 .5 .2 .5-.2 .5 .2 .5-.6 .4-.2 .5 0 .5-.2 .5 .5 .5-.6 .5-.4 .4 0 .5 .3 .5 .1 .5 .1 .5-.8 .4 .3 .5-.8 .5 .5 .5-.3 .5 0 .5-.1 .4-.4 .5 .2 .5-.4 .5-.1 .5 .2 .4-.1 .5-.7 .5 .7 .5-.3 .5 .6 .5-.4 .4-.4 .5-.4 .5 .1 .5 .2 .5-.1 .4-.8 .5 .8 .5-.4 .5 0 .5 0 .5-.1 .4 0 .5 0 .5-.1 .5-.3 .5-.4 .4 .8 .5-.1 .5-.4 .5-.3 .5 .2 .5-.2 .4-.2 .5 .4 .5-1.4 .5 .7 .5 .2 .5-.5 .4-.3 .5 .3 .5-.1 .5-.1 .5 0 .4-.2 .5-.2 .5 .3 .5-.2 .5 0 .5-.6 .4 .6 .5-.2 .5 .2 .5-.4 .5-.2 .4-.1 .5 .1 .5-.3 .5 .5 .5-.3 .5-.1 .4-.1 .5 .6 .5-.6 .5-.5 .5-.2 .4 .8 .5-.1 .5 .1 .5-.6 .5 .1 .5-.5 .4-.1 .5 1 .5-1.1 .5 .5 .5-.4 .4 .4 .5 .1 .5 0 .5-1.2 .5 .1 .5 0 .4 .9 .5 .1 .5-.3 .5-.9 .5 .7 .4-.2 .5 .8 .5-.5 .5 .5 .5-.7 .5-.6 .4 .9 .5-1.5 .5 1.1 .5-.3 .5-.1 .5-1.1 .4 .6 .5-.3 .5-.2 .5 1 .5-.4 .4-.4 .5-.5 .5 .7 .5-.1 .5 .5 .5-.6 .4-1.1 .5 1.2 .5-.4 .5 .8 .5-1 .4 .3 .5-.1 .5-.1 .5 .9 .5-1.2 .5-.4 .4 .8 .5-.1 .5 .3 .5-.6 .5 0 .4-.3 .5 .7 .5-.2 .5-.2 .5-.7 .5-.1 .4 1.6 .5-1.2 .5-.5 .5 1.5 .5 0 .4-1.8 .5 .7 .5 .6 .5-.3 .5-.1 .5 .7 .4-1.8 .5 1.2 .5-.6 .5 .6 .5-.8 .4-.9 .5 1.5 .5-1.8 .5 1.8 .5-.3 .5 .5 .4-.8 .5 .1 .5 .6 .5 .1 .5-1.3 .4 .2 .5 1 .5-1.8 .5 .4 .5-.4 .5-.1 .4 1.1 .5-.6 .5 .6 .5-.5 .5 1.1 .5-1.2 .4 .5 .5 .4 .5-.5 .5-.5 .5-.6 .4 0 .5 1.2 .5-.3 .5 .2 .5-.8 .5-.2 .4 .2 .5 .6 .5-.5 .5 .8 .5-1.7 .4 0 .5 1 .5 0 .5 .1 .5-1.2 .5 1 .4-1.7 .5 2.2 .5-.6 .5-.7 .5 1.1 .4-.4 .5-.6" stroke="#138cc8" stroke-width="1.4" stroke-opacity="1" fill="none" stroke-linejoin="round"/><path d="M248.4 300.8l.3 2.1 .7 1.6 .9 1.1 1.3 1.2 2 1.5 2.5 1.5 3.6 1.6 4.8 1.5 6.4 1.4 8 1.2 9.7 1.1 12.8 1.3 16.1 1.4 19.3 1.5 24.1 1.7 28.9 1.7 32.1 1.6 35.4 1.5 40.1 1.4 39.9 1" stroke="#138cc8" stroke-width="1.05" stroke-opacity=".95" fill="none" filter="url(#nzs)"/><path d="M138 338.8H246M150 342.0H200M275 344.4H390" stroke="#cfe8f6" stroke-width="1" stroke-opacity=".8" stroke-dasharray="1.2 3.1 0.8 5.3 1.5 2.2 0.7 6.1" fill="none" filter="url(#nz)"/></g>
<path d="M245.8 71V361.5" stroke="#ff94f7" stroke-width="2.1" fill="none"/><path d="M247.3 102V361.5" stroke="#ff94f7" stroke-width="1.3" fill="none"/>
<rect x="94.8" y="70" width="442.7" height="292.4" fill="none" stroke="#000" stroke-width="2.3"/>
<text x="83.7" y="361.5" font-size="17.5" textLength="9.6" lengthAdjust="spacingAndGlyphs">0</text>
<text x="61.9" y="322.6" font-size="17.5" textLength="31.4" lengthAdjust="spacingAndGlyphs">100</text>
<text x="61.9" y="282.6" font-size="17.5" textLength="31.4" lengthAdjust="spacingAndGlyphs">200</text>
<text x="61.9" y="242.6" font-size="17.5" textLength="31.4" lengthAdjust="spacingAndGlyphs">300</text>
<text x="61.9" y="202.6" font-size="17.5" textLength="31.4" lengthAdjust="spacingAndGlyphs">400</text>
<text x="61.9" y="162.6" font-size="17.5" textLength="31.4" lengthAdjust="spacingAndGlyphs">500</text>
<text x="61.9" y="122.6" font-size="17.5" textLength="31.4" lengthAdjust="spacingAndGlyphs">600</text>
<text x="61.9" y="82.6" font-size="17.5" textLength="31.4" lengthAdjust="spacingAndGlyphs">700</text>
<text x="140.6" y="381.9" font-size="17.5" textLength="31.8" lengthAdjust="spacingAndGlyphs">400</text>
<text x="204.8" y="381.9" font-size="17.5" textLength="31.8" lengthAdjust="spacingAndGlyphs">800</text>
<text x="263.2" y="381.9" font-size="17.5" textLength="43.6" lengthAdjust="spacingAndGlyphs">1200</text>
<text x="327.4" y="381.9" font-size="17.5" textLength="43.6" lengthAdjust="spacingAndGlyphs">1600</text>
<text x="391.7" y="381.9" font-size="17.5" textLength="43.6" lengthAdjust="spacingAndGlyphs">2000</text>
<text x="456.0" y="381.9" font-size="17.5" textLength="43.6" lengthAdjust="spacingAndGlyphs">2400</text>
<text x="278.6" y="411.4" font-size="17.5" textLength="68.6" lengthAdjust="spacingAndGlyphs">Time (s)</text>
<text transform="translate(52.7 291.0) rotate(-90)" font-size="17.5" textLength="122" lengthAdjust="spacingAndGlyphs">Response (RU)</text>
<text class="ser" x="98.6" y="57.3" font-size="25.5" textLength="100.2" lengthAdjust="spacingAndGlyphs">Pre-Acid</text>
<text class="ser" x="211.8" y="57.3" font-size="25.5" textLength="155.6" lengthAdjust="spacingAndGlyphs">Regeneration</text>
<text class="ser" x="10" y="35.6" font-size="41.5" textLength="25.4" lengthAdjust="spacingAndGlyphs">A</text>
<g stroke="#4a9fc6" stroke-width="3.9" fill="none" stroke-linejoin="miter"><path d="M113.4 87.6L121.9 95.2V117"/><path d="M136.6 87.6L128.1 95.2V117"/><path d="M109.4 91.2L117.4 98" stroke-width="3.6"/><path d="M140.6 91.2L132.6 98" stroke-width="3.6"/></g>
<path d="M157.2 463.8V756.0M221.4 463.8V756.0M285.7 463.8V756.0M349.9 463.8V756.0M414.2 463.8V756.0M478.5 463.8V756.0M94.8 748.0H537.5M94.8 708.4H537.5M94.8 668.8H537.5M94.8 629.3H537.5M94.8 589.7H537.5M94.8 550.1H537.5M94.8 510.5H537.5" stroke="#e6e6e6" stroke-width="1" fill="none"/>
<path d="M94.8 470.9H537.5" stroke="#f1f1f1" stroke-width="1" fill="none"/>
<g clip-path="url(#cB)"><g filter="url(#nz)"><path d="M95 748.0H537" stroke="#138cc8" stroke-width="3.4" fill="none"/><path d="M103.3 748.0l0 0 .3-.4 .2-.3 .7-.7 .8-.6 .9-.7 1.3-.8 1.6-1 2-1 2.2-1.2 2.9-1.3 3.2-1.3 4-1.3 4.8-1.4 5.7-1.2 6.4-1.2 8-1 9.7-.8 11.2-.6 12.9-.5 14.4-.2 16.1-.2 16-.1 17.4 0V748.0z" fill="#138cc8" stroke="none"/><path d="M246.0 722.7l.3 .2 .7 .3 .9 .6 1.3 .6 1.9 .9 2.6 1.1 3.5 1.2 4.9 1.4 6.4 1.4 8 1.2 9.7 1.1 12.8 .9 16.1 .9 19.3 .8 24.1 .9 28.9 .8 32.1 .9 35.3 .7 40.2 .7 42.3 .6V748.0H246.0z" fill="#138cc8" stroke="none"/><path d="M103.3 748.0l.3-.4 .2-.4 .7-.7 .8-.8 .9-.7 1.3-.9 1.6-1.1 2-1.2 2.2-1.2 2.9-1.5 3.2-1.4 4-1.5 4.8-1.5 5.7-1.4 6.4-1.2 8-1.2 9.7-.9 11.2-.7 12.9-.5 14.4-.3 16.1-.2 16 0 17.4-.1 0 4 -17.4 0 -16 .1 -16.1 .1 -14.4 .2 -12.9 .4 -11.2 .6 -9.7 .7 -8 .9 -6.4 1 -5.7 1.1 -4.8 1.3 -4 1.2 -3.2 1.1 -2.9 1.2 -2.2 1 -2 .9 -1.6 .9 -1.3 .7 -.9 .6 -.8 .6 -.7 .6 -.2 .3 -.3 .3z" fill="#138cc8" fill-opacity="0.62" stroke="none"/><path d="M103.3 748.0l.3-.6 .2-.5 .7-1 .8-.9 .9-1 1.3-1.1 1.6-1.4 2-1.5 2.2-1.6 2.9-1.8 3.2-1.9 4-1.9 4.8-1.9 5.7-1.8 6.4-1.6 8-1.5 9.7-1.2 11.2-.9 12.9-.6 14.4-.4 16.1-.3 16-.1 17.4 0 0 4.1 -17.4 .1 -16 .1 -16.1 .2 -14.4 .3 -12.9 .5 -11.2 .8 -9.7 1 -8 1.2 -6.4 1.3 -5.7 1.6 -4.8 1.6 -4 1.6 -3.2 1.5 -2.9 1.6 -2.2 1.3 -2 1.3 -1.6 1.1 -1.3 1 -.9 .8 -.8 .8 -.7 .8 -.2 .4 -.3 .5z" fill="#138cc8" fill-opacity="0.62" stroke="none"/><path d="M103.3 748.0l.3-.8 .2-.6 .7-1.3 .8-1.1 .9-1.2 1.3-1.4 1.6-1.6 2-1.8 2.2-1.9 2.9-2.2 3.2-2.2 4-2.4 4.8-2.3 5.7-2.2 6.4-1.9 8-1.8 9.7-1.5 11.2-1.1 12.9-.8 14.4-.5 16.1-.2 16-.2 17.4-.1 0 3.6 -17.4 .1 -16 .1 -16.1 .2 -14.4 .5 -12.9 .6 -11.2 1 -9.7 1.3 -8 1.6 -6.4 1.7 -5.7 2 -4.8 2 -4 2.1 -3.2 2 -2.9 1.9 -2.2 1.8 -2 1.6 -1.6 1.4 -1.3 1.3 -.9 1 -.8 1 -.7 1.1 -.2 .5 -.3 .7z" fill="#138cc8" fill-opacity="0.62" stroke="none"/><path d="M103.3 748.0l.3-1 .2-.8 .7-1.6 .8-1.4 .9-1.4 1.3-1.7 1.6-1.9 2-2.2 2.2-2.3 2.9-2.7 3.2-2.6 4-2.8 4.8-2.8 5.7-2.7 6.4-2.3 8-2.2 9.7-1.8 11.2-1.4 12.9-.9 14.4-.7 16.1-.3 16-.2 17.4-.1 0 4.8 -17.4 0 -16 .2 -16.1 .3 -14.4 .5 -12.9 .8 -11.2 1.2 -9.7 1.6 -8 1.9 -6.4 2.1 -5.7 2.3 -4.8 2.5 -4 2.5 -3.2 2.3 -2.9 2.3 -2.2 2.1 -2 1.9 -1.6 1.7 -1.3 1.5 -.9 1.2 -.8 1.2 -.7 1.4 -.2 .7 -.3 .8z" fill="#138cc8" fill-opacity="0.62" stroke="none"/><path d="M103.3 748.0l.3-2.1 .2-1.6 .7-2.9 .8-2.2 .9-1.9 1.3-2.1 1.6-2.5 2-2.7 2.2-3 2.9-3.4 3.2-3.3 4-3.6 4.8-3.7 5.7-3.4 6.4-3.1 8-2.9 9.7-2.4 11.2-1.9 12.9-1.3 14.4-.9 16.1-.5 16-.3 17.4-.1 0 10.4 -17.4 .2 -16 .2 -16.1 .4 -14.4 .6 -12.9 1.1 -11.2 1.5 -9.7 2 -8 2.3 -6.4 2.6 -5.7 2.9 -4.8 3 -4 3.1 -3.2 2.8 -2.9 2.9 -2.2 2.5 -2 2.3 -1.6 2.1 -1.3 1.8 -.9 1.5 -.8 1.6 -.7 1.8 -.2 1 -.3 1.2z" fill="#138cc8" fill-opacity="0.95" stroke="none"/><path d="M103.3 748.0l.3-3.4 .2-2.6 .7-4.3 .8-2.9 .9-2.4 1.3-2.5 1.6-2.8 2-3.1 2.2-3.3 2.9-3.9 3.2-3.8 4-4.2 4.8-4.2 5.7-4 6.4-3.6 8-3.4 9.7-3 11.2-2.2 12.9-1.6 14.4-1.1 16.1-.7 16-.3 17.4-.2 0 10.1 -17.4 .1 -16 .3 -16.1 .5 -14.4 .9 -12.9 1.4 -11.2 1.9 -9.7 2.5 -8 3 -6.4 3.2 -5.7 3.5 -4.8 3.7 -4 3.7 -3.2 3.4 -2.9 3.5 -2.2 3 -2 2.8 -1.6 2.5 -1.3 2.2 -.9 2 -.8 2.2 -.7 3.1 -.2 1.7 -.3 2.3z" fill="#138cc8" fill-opacity="0.95" stroke="none"/><path d="M103.3 748.0l.3-4.1 .2-3.1 .7-5.1 .8-3.4 .9-2.5 1.3-2.6 1.6-3 2-3.2 2.2-3.5 2.9-4.1 3.2-4.1 4-4.4 4.8-4.4 5.7-4.2 6.4-3.9 8-3.6 9.7-3.2 11.2-2.4 12.9-1.8 14.4-1.1 16.1-.8 16-.3 17.4-.3 0 4.4 -17.4 .2 -16 .4 -16.1 .6 -14.4 1.1 -12.9 1.7 -11.2 2.3 -9.7 2.9 -8 3.5 -6.4 3.7 -5.7 4 -4.8 4.3 -4 4.2 -3.2 3.9 -2.9 3.9 -2.2 3.4 -2 3.1 -1.6 2.9 -1.3 2.5 -.9 2.4 -.8 3 -.7 4.5 -.2 2.7 -.3 3.5z" fill="#138cc8" fill-opacity="0.95" stroke="none"/><path d="M103.3 748.0l.3-6.9 .2-5 .7-8.3 .8-5 .9-3.3 1.3-3 1.6-3.3 2-3.7 2.2-3.9 2.9-4.6 3.2-4.6 4-4.9 4.8-5.1 5.7-4.9 6.4-4.5 8-4.3 9.7-3.8 11.2-2.9 12.9-2.2 14.4-1.5 16.1-.9 16-.6 17.4-.3 0 16.5 -17.4 .2 -16 .4 -16.1 .7 -14.4 1.2 -12.9 1.9 -11.2 2.5 -9.7 3.1 -8 3.8 -6.4 3.9 -5.7 4.3 -4.8 4.5 -4 4.5 -3.2 4.1 -2.9 4.2 -2.2 3.5 -2 3.3 -1.6 3 -1.3 2.7 -.9 2.6 -.8 3.6 -.7 5.4 -.2 3.2 -.3 4.4z" fill="#138cc8" fill-opacity="0.95" stroke="none"/><path d="M103.3 748.0l.3-13.3 .2-9.9 .7-15.8 .8-9 .9-5.1 1.3-3.9 1.6-3.9 2-4.1 2.2-4.5 2.9-5.3 3.2-5.2 4-5.9 4.8-6.1 5.7-5.9 6.4-5.5 8-5.4 9.7-4.8 11.2-4 12.9-3 14.4-2.1 16.1-1.4 16-.9 17.4-.5 0 35.7 -17.4 .3 -16 .5 -16.1 1 -14.4 1.5 -12.9 2.2 -11.2 3.1 -9.7 3.8 -8 4.4 -6.4 4.5 -5.7 5 -4.8 5.1 -4 5.1 -3.2 4.6 -2.9 4.6 -2.2 4 -2 3.7 -1.6 3.3 -1.3 3.1 -.9 3.4 -.8 5.3 -.7 8.7 -.2 5.3 -.3 7.3z" fill="#138cc8" fill-opacity="0.6" stroke="none"/><path d="M103.3 748.0l.3-14.2 .2-10.6 .7-17 .8-9.6 .9-5.4 1.3-4 1.6-3.9 2-4.2 2.2-4.5 2.9-5.4 3.2-5.3 4-6 4.8-6.1 5.7-6 6.4-5.6 8-5.6 9.7-4.9 11.2-4.1 12.9-3.1 14.4-2.2 16.1-1.5 16-.9 17.4-.5 0 3.5 -17.4 .6 -16 .8 -16.1 1.4 -14.4 2.2 -12.9 3 -11.2 4 -9.7 4.9 -8 5.4 -6.4 5.6 -5.7 5.9 -4.8 6.1 -4 5.9 -3.2 5.3 -2.9 5.3 -2.2 4.5 -2 4.2 -1.6 3.8 -1.3 4 -.9 5.1 -.8 9.2 -.7 16.2 -.2 10.1 -.3 13.6z" fill="#138cc8" fill-opacity="0.6" stroke="none"/><path d="M246.0 609.5l.3 .5 .7 1 .9 1.3 1.3 1.3 1.9 1.5 2.6 1.4 3.5 1.2 4.9 1.1 6.4 1.2 8 1.3 9.7 1.5 12.8 2 16.1 2.4 19.3 2.8 24.1 3.4 28.9 3.8 32.1 3.9 35.3 4.1 40.2 4.2 42.3 4.1 0 40.6 -42.3-1.9 -40.2-2.1 -35.3-2.1 -32.1-2.1 -28.9-2.2 -24.1-2 -19.3-1.7 -16.1-1.5 -12.8-1.4 -9.7-1.3 -8-1.6 -6.4-1.8 -4.9-2.1 -3.5-2.1 -2.6-2.1 -1.9-1.9 -1.3-1.5 -.9-1.2 -.7-.9 -.3-.5z" fill="#138cc8" fill-opacity=".35" stroke="none"/><path d="M103.3 748.0l0 0 .3-.2 .2-.2 .7-.5 .8-.5 .9-.6 1.3-.6 1.6-.8 2-.8 2.2-1 2.9-1 3.2-1 4-1.1 4.8-1.1 5.7-1 6.4-.9 8-.8 9.7-.7 11.2-.5 12.9-.3 14.4-.2 16.1-.2 16 0 17.4-.1M103.3 748.0l0 0 .3-.4 .2-.3 .7-.8 .8-.7 .9-.7 1.3-.9 1.6-1 2-1.2 2.2-1.2 2.9-1.4 3.2-1.4 4-1.5 4.8-1.5 5.7-1.4 6.4-1.2 8-1.2 9.7-.9 11.2-.8 12.9-.5 14.4-.3 16.1-.2 16-.1 17.4-.1M103.3 748.0l0 0 .3-.3 .2-.2 .7-.5 .8-.6 .9-.6 1.3-.8 1.6-.9 2-1.1 2.2-1.1 2.9-1.3 3.2-1.2 4-1.4 4.8-1.3 5.7-1.2 6.4-1.2 8-1 9.7-.8 11.2-.7 12.9-.4 14.4-.3 16.1-.1 16-.1 17.4-.1M103.3 748.0l0 0 .3-.2 .2-.1 .7-.2 .8-.2 .9-.3 1.3-.2 1.6-.4 2-.3 2.2-.4 2.9-.4 3.2-.4 4-.5 4.8-.4 5.7-.4 6.4-.4 8-.3 9.7-.3 11.2-.1 12.9-.2 14.4 0 16.1-.1 16 0 17.4 0M103.3 748.0l0 0 .3-.1 .2-.1 .7-.2 .8-.3 .9-.3 1.3-.3 1.6-.5 2-.4 2.2-.5 2.9-.6 3.2-.5 4-.6 4.8-.6 5.7-.5 6.4-.5 8-.4 9.7-.4 11.2-.2 12.9-.2 14.4-.1 16.1 0 16-.1 17.4 0M103.3 748.0l0 0 .3-.5 .2-.3 .7-.8 .8-.7 .9-.7 1.3-.9 1.6-1 2-1.2 2.2-1.2 2.9-1.4 3.2-1.4 4-1.5 4.8-1.4 5.7-1.4 6.4-1.1 8-1.1 9.7-.9 11.2-.7 12.9-.4 14.4-.3 16.1-.1 16-.1 17.4-.1M103.3 748.0l0 0 .3 0 .2-.1 .7 0 .8-.1 .9 0 1.3-.1 1.6 0 2-.1 2.2-.1 2.9-.1 3.2-.1 4-.1 4.8-.1 5.7-.1 6.4 0 8-.1 9.7-.1 11.2 0 12.9-.1 14.4 0 16.1 0 16 0 17.4 0M103.3 748.0l0 0 .3-.3 .2-.2 .7-.6 .8-.7 .9-.7 1.3-.8 1.6-1.1 2-1.1 2.2-1.2 2.9-1.4 3.2-1.3 4-1.4 4.8-1.4 5.7-1.3 6.4-1.2 8-1 9.7-.8 11.2-.7 12.9-.4 14.4-.2 16.1-.2 16-.1 17.4 0M103.3 748.0l0 0 .3-.3 .2-.3 .7-.6 .8-.7 .9-.7 1.3-.8 1.6-1 2-1 2.2-1.2 2.9-1.3 3.2-1.3 4-1.3 4.8-1.4 5.7-1.3 6.4-1.1 8-1 9.7-.8 11.2-.6 12.9-.4 14.4-.2 16.1-.2 16-.1 17.4 0M103.3 748.0l0 0 .3-.2 .2-.2 .7-.4 .8-.4 .9-.4 1.3-.5 1.6-.6 2-.7 2.2-.7 2.9-.8 3.2-.8 4-.8 4.8-.8 5.7-.8 6.4-.7 8-.6 9.7-.5 11.2-.4 12.9-.2 14.4-.2 16.1-.1 16 0 17.4 0M103.3 748.0l0 0 .3-.2 .2-.1 .7-.2 .8-.3 .9-.2 1.3-.4 1.6-.4 2-.4 2.2-.5 2.9-.5 3.2-.6 4-.5 4.8-.6 5.7-.6 6.4-.4 8-.5 9.7-.3 11.2-.3 12.9-.2 14.4-.1 16.1-.1 16 0 17.4 0M103.3 748.0l0 0 .3-.2 .2-.1 .7-.2 .8-.3 .9-.3 1.3-.3 1.6-.4 2-.4 2.2-.4 2.9-.5 3.2-.5 4-.6 4.8-.5 5.7-.5 6.4-.4 8-.4 9.7-.3 11.2-.3 12.9-.1 14.4-.1 16.1-.1 16 0 17.4 0M103.3 748.0l0 0 .3-.2 .2-.2 .7-.2 .8-.3 .9-.2 1.3-.3 1.6-.4 2-.4 2.2-.4 2.9-.4 3.2-.5 4-.5 4.8-.5 5.7-.4 6.4-.4 8-.3 9.7-.3 11.2-.2 12.9-.2 14.4-.1 16.1 0 16 0 17.4 0M103.3 748.0l0 0 .3-.1 .2-.2 .7-.3 .8-.3 .9-.4 1.3-.5 1.6-.6 2-.6 2.2-.7 2.9-.8 3.2-.7 4-.8 4.8-.9 5.7-.7 6.4-.7 8-.6 9.7-.5 11.2-.4 12.9-.2 14.4-.2 16.1-.1 16 0 17.4 0M103.3 748.0l0 0 .3-.2 .2-.2 .7-.4 .8-.4 .9-.4 1.3-.5 1.6-.7 2-.7 2.2-.7 2.9-.9 3.2-.8 4-.9 4.8-.9 5.7-.8 6.4-.8 8-.6 9.7-.6 11.2-.4 12.9-.3 14.4-.2 16.1-.1 16 0 17.4-.1M103.3 748.0l0 0 .3-.2 .2-.1 .7-.4 .8-.5 .9-.4 1.3-.7 1.6-.7 2-.8 2.2-.8 2.9-1 3.2-.9 4-1 4.8-1 5.7-.9 6.4-.8 8-.7 9.7-.6 11.2-.4 12.9-.3 14.4-.2 16.1-.1 16-.1 17.4 0M103.3 748.0l0 0 .3-.4 .2-.3 .7-.8 .8-.8 .9-.8 1.3-1.1 1.6-1.1 2-1.4 2.2-1.4 2.9-1.6 3.2-1.6 4-1.6 4.8-1.7 5.7-1.5 6.4-1.4 8-1.2 9.7-1.1 11.2-.7 12.9-.5 14.4-.4 16.1-.1 16-.1 17.4-.1M103.3 748.0l0 0 .3-.3 .2-.2 .7-.6 .8-.6 .9-.7 1.3-.8 1.6-1 2-1 2.2-1.2 2.9-1.3 3.2-1.3 4-1.3 4.8-1.4 5.7-1.3 6.4-1.1 8-1 9.7-.8 11.2-.7 12.9-.4 14.4-.2 16.1-.2 16-.1 17.4 0M103.3 748.0l0 0 .3-.3 .2-.3 .7-.6 .8-.5 .9-.5 1.3-.6 1.6-.8 2-.8 2.2-.9 2.9-1 3.2-1 4-1.1 4.8-1 5.7-1 6.4-.9 8-.8 9.7-.7 11.2-.4 12.9-.4 14.4-.2 16.1-.1 16-.1 17.4 0M103.3 748.0l0 0 .3-.4 .2-.4 .7-.8 .8-.8 .9-.8 1.3-1 1.6-1.2 2-1.3 2.2-1.4 2.9-1.5 3.2-1.6 4-1.6 4.8-1.7 5.7-1.5 6.4-1.3 8-1.3 9.7-1 11.2-.8 12.9-.5 14.4-.3 16.1-.2 16-.1 17.4 0M103.3 748.0l0 0 .3-.1 .2-.2 .7-.2 .8-.2 .9-.2 1.3-.2 1.6-.3 2-.4 2.2-.3 2.9-.5 3.2-.4 4-.4 4.8-.4 5.7-.4 6.4-.4 8-.3 9.7-.2 11.2-.2 12.9-.2 14.4 0 16.1-.1 16 0 17.4 0M103.3 748.0l0 0 .3-.1 .2 0 .7-.2 .8-.1 .9-.2 1.3-.2 1.6-.3 2-.2 2.2-.3 2.9-.4 3.2-.3 4-.4 4.8-.3 5.7-.3 6.4-.3 8-.3 9.7-.2 11.2-.1 12.9-.2 14.4 0 16.1-.1 16 0 17.4 0M103.3 748.0l0 0 .3-.2 .2-.2 .7-.4 .8-.5 .9-.5 1.3-.7 1.6-.8 2-.9 2.2-.9 2.9-1 3.2-1.1 4-1 4.8-1.1 5.7-1 6.4-.9 8-.8 9.7-.6 11.2-.5 12.9-.3 14.4-.2 16.1-.1 16-.1 17.4 0M103.3 748.0l0 0 .3 0 .2-.1 .7 0 .8-.1 .9-.1 1.3-.1 1.6-.1 2-.1 2.2-.2 2.9-.1 3.2-.2 4-.1 4.8-.2 5.7-.2 6.4-.1 8-.1 9.7-.1 11.2-.1 12.9 0 14.4-.1 16.1 0 16 0 17.4 0M103.3 748.0l0 0 .3 0 .2-.1 .7 0 .8-.1 .9-.1 1.3-.1 1.6-.1 2-.1 2.2-.1 2.9-.2 3.2-.1 4-.1 4.8-.2 5.7-.1 6.4-.2 8-.1 9.7-.1 11.2 0 12.9-.1 14.4 0 16.1 0 16 0 17.4 0M103.3 748.0l0 0 .3-.2 .2-.1 .7-.4 .8-.4 .9-.5 1.3-.5 1.6-.7 2-.7 2.2-.8 2.9-.9 3.2-.8 4-1 4.8-.9 5.7-.8 6.4-.8 8-.7 9.7-.5 11.2-.4 12.9-.3 14.4-.2 16.1-.1 16-.1 17.4 0M103.3 748.0l0 0 .3-.1 .2-.2 .7-.3 .8-.3 .9-.4 1.3-.6 1.6-.6 2-.6 2.2-.8 2.9-.8 3.2-.8 4-.8 4.8-.9 5.7-.8 6.4-.7 8-.6 9.7-.5 11.2-.4 12.9-.3 14.4-.1 16.1-.1 16-.1 17.4 0M103.3 748.0l0 0 .3-.4 .2-.2 .7-.6 .8-.6 .9-.5 1.3-.6 1.6-.8 2-.8 2.2-.9 2.9-1 3.2-1 4-1.1 4.8-1.1 5.7-1 6.4-.8 8-.8 9.7-.7 11.2-.5 12.9-.3 14.4-.2 16.1-.1 16-.1 17.4 0M103.3 748.0l0 0 .3-.2 .2-.2 .7-.4 .8-.4 .9-.4 1.3-.6 1.6-.6 2-.8 2.2-.8 2.9-.8 3.2-.9 4-.9 4.8-1 5.7-.8 6.4-.7 8-.7 9.7-.6 11.2-.4 12.9-.2 14.4-.2 16.1-.1 16 0 17.4-.1M103.3 748.0l0 0 .3-.2 .2-.1 .7-.4 .8-.3 .9-.5 1.3-.5 1.6-.7 2-.7 2.2-.7 2.9-.9 3.2-.8 4-.9 4.8-.9 5.7-.8 6.4-.8 8-.6 9.7-.6 11.2-.4 12.9-.3 14.4-.1 16.1-.1 16-.1 17.4 0M103.3 748.0l0 0 .3-.1 .2-.1 .7-.2 .8-.3 .9-.2 1.3-.3 1.6-.4 2-.3 2.2-.4 2.9-.5 3.2-.5 4-.5 4.8-.4 5.7-.5 6.4-.4 8-.3 9.7-.3 11.2-.3 12.9-.1 14.4-.1 16.1 0 16-.1 17.4 0M103.3 748.0l0 0 .3 0 .2 0 .7-.1 .8 0 .9-.1 1.3 0 1.6-.1 2-.1 2.2-.1 2.9-.1 3.2-.1 4-.1 4.8-.1 5.7-.2 6.4 0 8-.1 9.7-.1 11.2-.1 12.9 0 14.4 0 16.1 0 16 0 17.4 0M103.3 748.0l0 0 .3-.1 .2-.1 .7-.2 .8-.2 .9-.2 1.3-.3 1.6-.2 2-.4 2.2-.3 2.9-.4 3.2-.3 4-.4 4.8-.4 5.7-.4 6.4-.3 8-.3 9.7-.2 11.2-.2 12.9-.1 14.4-.1 16.1 0 16 0 17.4 0M103.3 748.0l0 0 .3-.3 .2-.3 .7-.5 .8-.6 .9-.5 1.3-.7 1.6-.8 2-1 2.2-1 2.9-1.1 3.2-1.1 4-1.2 4.8-1.2 5.7-1.1 6.4-.9 8-.9 9.7-.8 11.2-.6 12.9-.3 14.4-.3 16.1-.1 16-.1 17.4 0M103.3 748.0l0 0 .3-.1 .2 0 .7-.2 .8-.2 .9-.2 1.3-.2 1.6-.3 2-.4 2.2-.3 2.9-.4 3.2-.4 4-.4 4.8-.4 5.7-.4 6.4-.4 8-.3 9.7-.2 11.2-.2 12.9-.2 14.4 0 16.1-.1 16 0 17.4 0M103.3 748.0l0 0 .3-.1 .2-.1 .7-.3 .8-.3 .9-.3 1.3-.4 1.6-.5 2-.6 2.2-.6 2.9-.6 3.2-.7 4-.7 4.8-.7 5.7-.6 6.4-.6 8-.5 9.7-.4 11.2-.3 12.9-.2 14.4-.2 16.1 0 16-.1 17.4 0M103.3 748.0l0 0 .3 0 .2 0 .7-.1 .8 0 .9-.1 1.3 0 1.6-.1 2-.1 2.2-.1 2.9-.1 3.2-.1 4-.1 4.8-.1 5.7-.1 6.4 0 8-.1 9.7-.1 11.2 0 12.9 0 14.4 0 16.1-.1 16 0 17.4 0M103.3 748.0l0 0 .3-.5 .2-.4 .7-.7 .8-.7 .9-.6 1.3-.9 1.6-1 2-1.1 2.2-1.1 2.9-1.4 3.2-1.3 4-1.4 4.8-1.3 5.7-1.3 6.4-1.1 8-1.1 9.7-.8 11.2-.6 12.9-.4 14.4-.3 16.1-.2 16 0 17.4-.1M103.3 748.0l0 0 .3-.1 .2 0 .7-.2 .8-.1 .9-.2 1.3-.2 1.6-.2 2-.3 2.2-.3 2.9-.3 3.2-.3 4-.4 4.8-.3 5.7-.3 6.4-.3 8-.3 9.7-.2 11.2-.1 12.9-.1 14.4-.1 16.1 0 16-.1 17.4 0M103.3 748.0l0 0 .3-.6 .2-.5 .7-1 .8-1.1 .9-1.1 1.3-1.4 1.6-1.6 2-1.8 2.2-1.9 2.9-2.2 3.2-2.2 4-2.3 4.8-2.3 5.7-2.1 6.4-1.9 8-1.7 9.7-1.4 11.2-1 12.9-.7 14.4-.5 16.1-.2 16-.1 17.4-.1M103.3 748.0l0 0 .3-1.9 .2-1.4 .7-2.4 .8-1.9 .9-1.7 1.3-2 1.6-2.4 2-2.6 2.2-2.8 2.9-3.3 3.2-3.2 4-3.4 4.8-3.4 5.7-3.3 6.4-2.8 8-2.7 9.7-2.3 11.2-1.7 12.9-1.1 14.4-.8 16.1-.4 16-.3 17.4-.1M103.3 748.0l0 0 .3-1 .2-.8 .7-1.6 .8-1.4 .9-1.4 1.3-1.7 1.6-2 2-2.2 2.2-2.3 2.9-2.6 3.2-2.6 4-2.8 4.8-2.8 5.7-2.5 6.4-2.3 8-2 9.7-1.7 11.2-1.3 12.9-.8 14.4-.6 16.1-.3 16-.1 17.4-.1M103.3 748.0l0 0 .3-1.7 .2-1.3 .7-2.2 .8-1.8 .9-1.6 1.3-2 1.6-2.3 2-2.5 2.2-2.8 2.9-3.2 3.2-3.1 4-3.4 4.8-3.4 5.7-3.2 6.4-2.8 8-2.7 9.7-2.3 11.2-1.7 12.9-1.3 14.4-.7 16.1-.5 16-.3 17.4-.1M103.3 748.0l0 0 .3-1.3 .2-1.1 .7-2.1 .8-1.8 .9-1.6 1.3-1.9 1.6-2.1 2-2.4 2.2-2.5 2.9-3 3.2-2.9 4-3.1 4.8-3.2 5.7-3 6.4-2.7 8-2.5 9.7-2.1 11.2-1.7 12.9-1.2 14.4-.7 16.1-.5 16-.3 17.4-.1M103.3 748.0l0 0 .3-.4 .2-.4 .7-.8 .8-.8 .9-1 1.3-1.1 1.6-1.4 2-1.5 2.2-1.6 2.9-1.8 3.2-1.8 4-1.9 4.8-1.9 5.7-1.8 6.4-1.5 8-1.5 9.7-1.1 11.2-.9 12.9-.6 14.4-.3 16.1-.2 16-.1 17.4-.1M103.3 748.0l0 0 .3-1.3 .2-.9 .7-1.7 .8-1.3 .9-1.2 1.3-1.6 1.6-1.8 2-2.1 2.2-2.2 2.9-2.5 3.2-2.5 4-2.7 4.8-2.7 5.7-2.5 6.4-2.3 8-2.1 9.7-1.8 11.2-1.4 12.9-.9 14.4-.7 16.1-.3 16-.2 17.4-.1M103.3 748.0l0 0 .3-1.5 .2-1.2 .7-2.3 .8-2 .9-1.7 1.3-2.1 1.6-2.3 2-2.6 2.2-2.8 2.9-3.2 3.2-3.2 4-3.4 4.8-3.5 5.7-3.2 6.4-2.9 8-2.8 9.7-2.3 11.2-1.7 12.9-1.3 14.4-.8 16.1-.4 16-.3 17.4-.1M103.3 748.0l0 0 .3-.6 .2-.5 .7-.8 .8-.8 .9-.9 1.3-1 1.6-1.3 2-1.3 2.2-1.5 2.9-1.7 3.2-1.7 4-1.7 4.8-1.8 5.7-1.7 6.4-1.5 8-1.4 9.7-1.1 11.2-.9 12.9-.6 14.4-.3 16.1-.3 16-.1 17.4 0M103.3 748.0l0 0 .3-.9 .2-.7 .7-1.4 .8-1.3 .9-1.2 1.3-1.6 1.6-1.7 2-2 2.2-2.1 2.9-2.4 3.2-2.4 4-2.5 4.8-2.5 5.7-2.3 6.4-2 8-1.9 9.7-1.5 11.2-1.1 12.9-.8 14.4-.5 16.1-.3 16-.1 17.4-.1M103.3 748.0l0 0 .3-1.6 .2-1.3 .7-2.5 .8-2 .9-1.9 1.3-2 1.6-2.2 2-2.6 2.2-2.6 2.9-3.1 3.2-3.1 4-3.2 4.8-3.3 5.7-3.1 6.4-2.7 8-2.5 9.7-2.1 11.2-1.6 12.9-1.1 14.4-.7 16.1-.5 16-.2 17.4-.1M103.3 748.0l0 0 .3-2.5 .2-1.8 .7-2.8 .8-1.9 .9-1.7 1.3-2 1.6-2.3 2-2.7 2.2-2.8 2.9-3.3 3.2-3.2 4-3.5 4.8-3.6 5.7-3.3 6.4-3.1 8-2.8 9.7-2.4 11.2-1.9 12.9-1.4 14.4-.8 16.1-.6 16-.3 17.4-.1M103.3 748.0l0 0 .3-1.2 .2-.9 .7-1.7 .8-1.5 .9-1.6 1.3-1.8 1.6-2.2 2-2.4 2.2-2.6 2.9-3 3.2-2.9 4-3.1 4.8-3.1 5.7-3 6.4-2.6 8-2.4 9.7-2 11.2-1.5 12.9-1 14.4-.7 16.1-.3 16-.2 17.4-.1M103.3 748.0l0 0 .3-.9 .2-.7 .7-1.4 .8-1.4 .9-1.3 1.3-1.7 1.6-1.8 2-2.1 2.2-2.1 2.9-2.6 3.2-2.4 4-2.6 4.8-2.6 5.7-2.5 6.4-2.1 8-2 9.7-1.6 11.2-1.2 12.9-.8 14.4-.5 16.1-.3 16-.2 17.4 0M103.3 748.0l0 0 .3-1.1 .2-.7 .7-1.4 .8-1 .9-1.1 1.3-1.3 1.6-1.5 2-1.6 2.2-1.8 2.9-2 3.2-2 4-2.2 4.8-2.1 5.7-1.9 6.4-1.8 8-1.6 9.7-1.3 11.2-1 12.9-.6 14.4-.5 16.1-.2 16-.1 17.4-.1M103.3 748.0l0 0 .3-.9 .2-.7 .7-1.3 .8-1.2 .9-1.2 1.3-1.5 1.6-1.7 2-1.9 2.2-2.1 2.9-2.4 3.2-2.3 4-2.5 4.8-2.5 5.7-2.4 6.4-2.1 8-2 9.7-1.7 11.2-1.2 12.9-.9 14.4-.6 16.1-.3 16-.2 17.4-.1M103.3 748.0l0 0 .3-.7 .2-.6 .7-1.1 .8-.9 .9-.9 1.3-1.1 1.6-1.3 2-1.4 2.2-1.5 2.9-1.7 3.2-1.7 4-1.8 4.8-1.8 5.7-1.8 6.4-1.5 8-1.4 9.7-1.1 11.2-.9 12.9-.6 14.4-.4 16.1-.3 16-.1 17.4 0M103.3 748.0l0 0 .3-2 .2-1.6 .7-3 .8-2.2 .9-2 1.3-2.1 1.6-2.5 2-2.7 2.2-2.9 2.9-3.3 3.2-3.3 4-3.5 4.8-3.5 5.7-3.3 6.4-3 8-2.7 9.7-2.3 11.2-1.8 12.9-1.2 14.4-.8 16.1-.4 16-.3 17.4-.1M103.3 748.0l0 0 .3-.5 .2-.4 .7-1 .8-1 .9-1 1.3-1.3 1.6-1.6 2-1.7 2.2-1.8 2.9-2.1 3.2-2 4-2.2 4.8-2.2 5.7-2 6.4-1.8 8-1.6 9.7-1.4 11.2-1 12.9-.7 14.4-.4 16.1-.3 16-.1 17.4-.1M103.3 748.0l0 0 .3-1.3 .2-1 .7-1.9 .8-1.5 .9-1.5 1.3-1.9 1.6-2.2 2-2.4 2.2-2.6 2.9-2.9 3.2-2.9 4-3.1 4.8-3.1 5.7-2.9 6.4-2.5 8-2.4 9.7-1.9 11.2-1.5 12.9-.9 14.4-.7 16.1-.3 16-.2 17.4-.1M103.3 748.0l0 0 .3-.9 .2-.7 .7-1.3 .8-1.1 .9-1.2 1.3-1.3 1.6-1.6 2-1.8 2.2-1.8 2.9-2.2 3.2-2.1 4-2.3 4.8-2.3 5.7-2.1 6.4-1.9 8-1.8 9.7-1.4 11.2-1.1 12.9-.8 14.4-.5 16.1-.3 16-.1 17.4-.1M103.3 748.0l0 0 .3-1.8 .2-1.4 .7-2.2 .8-1.8 .9-1.6 1.3-2 1.6-2.3 2-2.6 2.2-2.8 2.9-3.2 3.2-3.2 4-3.4 4.8-3.5 5.7-3.2 6.4-3 8-2.7 9.7-2.3 11.2-1.8 12.9-1.2 14.4-.8 16.1-.5 16-.3 17.4-.1M103.3 748.0l0 0 .3-1.3 .2-1 .7-1.8 .8-1.6 .9-1.5 1.3-1.7 1.6-2.1 2-2.3 2.2-2.4 2.9-2.9 3.2-2.8 4-3 4.8-3 5.7-2.9 6.4-2.6 8-2.4 9.7-2 11.2-1.6 12.9-1 14.4-.8 16.1-.4 16-.2 17.4-.1M103.3 748.0l0 0 .3-1.5 .2-1.2 .7-2.1 .8-1.8 .9-1.6 1.3-2 1.6-2.2 2-2.6 2.2-2.7 2.9-3.1 3.2-3.1 4-3.4 4.8-3.4 5.7-3.2 6.4-2.9 8-2.8 9.7-2.3 11.2-1.8 12.9-1.3 14.4-.9 16.1-.5 16-.3 17.4-.2M103.3 748.0l0 0 .3-2.3 .2-1.6 .7-2.6 .8-1.9 .9-1.7 1.3-2 1.6-2.4 2-2.6 2.2-2.9 2.9-3.3 3.2-3.2 4-3.5 4.8-3.5 5.7-3.3 6.4-3 8-2.8 9.7-2.4 11.2-1.8 12.9-1.3 14.4-.8 16.1-.5 16-.3 17.4-.1M103.3 748.0l0 0 .3-1.6 .2-1.2 .7-2.3 .8-1.9 .9-1.7 1.3-2.1 1.6-2.4 2-2.6 2.2-2.8 2.9-3.3 3.2-3.2 4-3.5 4.8-3.5 5.7-3.3 6.4-3 8-2.9 9.7-2.3 11.2-1.9 12.9-1.3 14.4-.9 16.1-.5 16-.2 17.4-.2M103.3 748.0l0 0 .3-2 .2-1.5 .7-2.8 .8-2.1 .9-1.8 1.3-2.1 1.6-2.3 2-2.6 2.2-2.8 2.9-3.3 3.2-3.2 4-3.4 4.8-3.5 5.7-3.3 6.4-2.9 8-2.7 9.7-2.3 11.2-1.8 12.9-1.2 14.4-.8 16.1-.5 16-.3 17.4-.1M103.3 748.0l0 0 .3-5.7 .2-4.3 .7-7 .8-4.4 .9-3.1 1.3-2.9 1.6-3.1 2-3.5 2.2-3.8 2.9-4.4 3.2-4.4 4-4.8 4.8-4.9 5.7-4.7 6.4-4.3 8-4.1 9.7-3.6 11.2-2.9 12.9-2.1 14.4-1.5 16.1-.9 16-.5 17.4-.3M103.3 748.0l0 0 .3-4.5 .2-3.5 .7-5.8 .8-4 .9-2.8 1.3-2.8 1.6-3 2-3.3 2.2-3.6 2.9-4.1 3.2-4.1 4-4.5 4.8-4.6 5.7-4.4 6.4-3.9 8-3.8 9.7-3.2 11.2-2.6 12.9-1.9 14.4-1.2 16.1-.8 16-.4 17.4-.2M103.3 748.0l0 0 .3-4.2 .2-3 .7-4.7 .8-3 .9-2.3 1.3-2.5 1.6-2.8 2-3.2 2.2-3.4 2.9-4 3.2-3.9 4-4.2 4.8-4.3 5.7-4 6.4-3.6 8-3.4 9.7-2.9 11.2-2.2 12.9-1.5 14.4-1.1 16.1-.6 16-.3 17.4-.2M103.3 748.0l0 0 .3-3.5 .2-2.4 .7-3.9 .8-2.6 .9-2 1.3-2.3 1.6-2.7 2-2.9 2.2-3.2 2.9-3.7 3.2-3.6 4-4 4.8-3.9 5.7-3.8 6.4-3.4 8-3.2 9.7-2.7 11.2-2.1 12.9-1.5 14.4-1 16.1-.6 16-.3 17.4-.2M103.3 748.0l0 0 .3-5.6 .2-4.1 .7-6.8 .8-4.3 .9-3 1.3-2.9 1.6-3.2 2-3.5 2.2-3.8 2.9-4.4 3.2-4.4 4-4.9 4.8-4.9 5.7-4.7 6.4-4.4 8-4.2 9.7-3.6 11.2-2.9 12.9-2.1 14.4-1.5 16.1-.9 16-.5 17.4-.3M103.3 748.0l0 0 .3-4.1 .2-3.1 .7-5.5 .8-3.7 .9-2.7 1.3-2.7 1.6-2.8 2-3.2 2.2-3.4 2.9-4 3.2-3.8 4-4.2 4.8-4.3 5.7-4 6.4-3.6 8-3.3 9.7-2.9 11.2-2.2 12.9-1.5 14.4-1.1 16.1-.6 16-.3 17.4-.2M103.3 748.0l0 0 .3-2.9 .2-2.4 .7-4.2 .8-3.1 .9-2.5 1.3-2.6 1.6-2.8 2-3.2 2.2-3.3 2.9-3.9 3.2-3.8 4-4.2 4.8-4.1 5.7-4 6.4-3.5 8-3.3 9.7-2.8 11.2-2.1 12.9-1.5 14.4-1 16.1-.6 16-.3 17.4-.2M103.3 748.0l0 0 .3-5.8 .2-4 .7-6.2 .8-3.6 .9-2.5 1.3-2.8 1.6-3.1 2-3.5 2.2-3.8 2.9-4.4 3.2-4.3 4-4.7 4.8-4.8 5.7-4.6 6.4-4.1 8-3.9 9.7-3.4 11.2-2.6 12.9-1.9 14.4-1.3 16.1-.8 16-.4 17.4-.2M103.3 748.0l0 0 .3-3.1 .2-2.2 .7-3.7 .8-2.5 .9-2 1.3-2.2 1.6-2.5 2-2.7 2.2-3 2.9-3.4 3.2-3.4 4-3.7 4.8-3.7 5.7-3.5 6.4-3.2 8-3 9.7-2.5 11.2-2 12.9-1.4 14.4-.9 16.1-.5 16-.3 17.4-.2M103.3 748.0l0 0 .3-6.8 .2-4.9 .7-7.5 .8-4.4 .9-2.9 1.3-2.9 1.6-3.2 2-3.6 2.2-3.9 2.9-4.5 3.2-4.5 4-4.9 4.8-5 5.7-4.8 6.4-4.4 8-4.2 9.7-3.6 11.2-2.8 12.9-2.1 14.4-1.4 16.1-.9 16-.5 17.4-.3M103.3 748.0l0 0 .3-4.7 .2-3.4 .7-5.4 .8-3.4 .9-2.5 1.3-2.7 1.6-3 2-3.4 2.2-3.7 2.9-4.3 3.2-4.2 4-4.6 4.8-4.7 5.7-4.6 6.4-4.1 8-3.9 9.7-3.4 11.2-2.7 12.9-2 14.4-1.3 16.1-.9 16-.4 17.4-.3M103.3 748.0l0 0 .3-3.4 .2-2.7 .7-4.9 .8-3.5 .9-2.7 1.3-2.8 1.6-2.9 2-3.2 2.2-3.4 2.9-4 3.2-3.9 4-4.3 4.8-4.2 5.7-4.1 6.4-3.6 8-3.4 9.7-2.9 11.2-2.2 12.9-1.6 14.4-1 16.1-.7 16-.3 17.4-.2M103.3 748.0l0 0 .3-5.9 .2-4.5 .7-7.6 .8-4.9 .9-3.3 1.3-3 1.6-3.2 2-3.5 2.2-3.8 2.9-4.3 3.2-4.4 4-4.6 4.8-4.8 5.7-4.5 6.4-4.2 8-3.8 9.7-3.4 11.2-2.6 12.9-1.8 14.4-1.3 16.1-.8 16-.4 17.4-.2M103.3 748.0l0 0 .3-2.8 .2-2.2 .7-4.1 .8-3.2 .9-2.5 1.3-2.7 1.6-3 2-3.2 2.2-3.4 2.9-4 3.2-3.9 4-4.3 4.8-4.2 5.7-4 6.4-3.6 8-3.4 9.7-2.8 11.2-2.2 12.9-1.5 14.4-1 16.1-.6 16-.3 17.4-.1M103.3 748.0l0 0 .3-4.7 .2-3.5 .7-5.6 .8-3.6 .9-2.6 1.3-2.7 1.6-2.9 2-3.3 2.2-3.5 2.9-4.1 3.2-4 4-4.4 4.8-4.5 5.7-4.3 6.4-3.8 8-3.7 9.7-3.2 11.2-2.5 12.9-1.8 14.4-1.2 16.1-.8 16-.4 17.4-.2M103.3 748.0l0 0 .3-4.3 .2-3.3 .7-5.9 .8-4 .9-3 1.3-2.9 1.6-3.1 2-3.5 2.2-3.7 2.9-4.3 3.2-4.2 4-4.6 4.8-4.7 5.7-4.5 6.4-4.1 8-3.9 9.7-3.3 11.2-2.6 12.9-1.9 14.4-1.2 16.1-.8 16-.4 17.4-.3M103.3 748.0l0 0 .3-3.4 .2-2.5 .7-4.2 .8-2.8 .9-2.3 1.3-2.4 1.6-2.7 2-3.1 2.2-3.2 2.9-3.9 3.2-3.8 4-4.1 4.8-4.2 5.7-4 6.4-3.7 8-3.5 9.7-3 11.2-2.4 12.9-1.7 14.4-1.2 16.1-.7 16-.4 17.4-.2M103.3 748.0l0 0 .3-4.1 .2-2.9 .7-4.9 .8-3.2 .9-2.4 1.3-2.6 1.6-2.9 2-3.2 2.2-3.5 2.9-4.1 3.2-4 4-4.4 4.8-4.5 5.7-4.3 6.4-3.9 8-3.8 9.7-3.2 11.2-2.5 12.9-1.8 14.4-1.3 16.1-.8 16-.4 17.4-.2M103.3 748.0l0 0 .3-6.1 .2-4.3 .7-6.4 .8-3.8 .9-2.6 1.3-2.8 1.6-3.1 2-3.5 2.2-3.8 2.9-4.4 3.2-4.3 4-4.7 4.8-4.8 5.7-4.5 6.4-4.1 8-3.8 9.7-3.3 11.2-2.5 12.9-1.8 14.4-1.2 16.1-.8 16-.4 17.4-.2M103.3 748.0l0 0 .3-6.7 .2-4.8 .7-7.4 .8-4.2 .9-2.8 1.3-2.9 1.6-3.2 2-3.5 2.2-3.9 2.9-4.5 3.2-4.4 4-4.8 4.8-4.9 5.7-4.7 6.4-4.3 8-4 9.7-3.5 11.2-2.7 12.9-2 14.4-1.3 16.1-.8 16-.5 17.4-.2M103.3 748.0l0 0 .3-2.4 .2-1.8 .7-3.1 .8-2.2 .9-2 1.3-2.3 1.6-2.6 2-3 2.2-3.1 2.9-3.7 3.2-3.6 4-3.9 4.8-4 5.7-3.8 6.4-3.4 8-3.2 9.7-2.7 11.2-2.1 12.9-1.5 14.4-1 16.1-.6 16-.4 17.4-.1M103.3 748.0l0 0 .3-6.5 .2-4.7 .7-7.3 .8-4.3 .9-2.8 1.3-2.9 1.6-3.2 2-3.5 2.2-3.8 2.9-4.5 3.2-4.4 4-4.9 4.8-4.9 5.7-4.8 6.4-4.4 8-4.1 9.7-3.7 11.2-2.9 12.9-2.1 14.4-1.4 16.1-1 16-.5 17.4-.3M103.3 748.0l0 0 .3-2.2 .2-1.6 .7-2.8 .8-2.1 .9-1.9 1.3-2.1 1.6-2.4 2-2.7 2.2-2.9 2.9-3.4 3.2-3.3 4-3.6 4.8-3.7 5.7-3.4 6.4-3.1 8-2.9 9.7-2.5 11.2-1.8 12.9-1.4 14.4-.9 16.1-.5 16-.3 17.4-.1M103.3 748.0l0 0 .3-4.7 .2-3.7 .7-6.6 .8-4.6 .9-3.2 1.3-3.1 1.6-3.2 2-3.5 2.2-3.7 2.9-4.3 3.2-4.3 4-4.6 4.8-4.7 5.7-4.4 6.4-4.1 8-3.8 9.7-3.3 11.2-2.5 12.9-1.9 14.4-1.2 16.1-.8 16-.4 17.4-.2M103.3 748.0l0 0 .3-5.1 .2-3.9 .7-6.4 .8-4.2 .9-2.9 1.3-2.9 1.6-3.1 2-3.4 2.2-3.7 2.9-4.3 3.2-4.3 4-4.7 4.8-4.9 5.7-4.6 6.4-4.3 8-4.1 9.7-3.6 11.2-2.9 12.9-2.2 14.4-1.4 16.1-1 16-.5 17.4-.3M103.3 748.0l0 0 .3-2 .2-1.6 .7-3 .8-2.4 .9-2.1 1.3-2.3 1.6-2.7 2-3 2.2-3.2 2.9-3.8 3.2-3.6 4-4 4.8-4 5.7-3.7 6.4-3.4 8-3.2 9.7-2.6 11.2-2.1 12.9-1.4 14.4-.9 16.1-.6 16-.3 17.4-.2M103.3 748.0l0 0 .3-4.5 .2-3.1 .7-4.6 .8-2.9 .9-2.2 1.3-2.5 1.6-2.8 2-3.2 2.2-3.4 2.9-4 3.2-3.9 4-4.2 4.8-4.3 5.7-4 6.4-3.7 8-3.4 9.7-2.9 11.2-2.2 12.9-1.6 14.4-1 16.1-.6 16-.4 17.4-.1M103.3 748.0l0 0 .3-6 .2-4.4 .7-7.1 .8-4.3 .9-3 1.3-2.8 1.6-3.2 2-3.4 2.2-3.8 2.9-4.3 3.2-4.3 4-4.6 4.8-4.8 5.7-4.5 6.4-4.1 8-3.8 9.7-3.4 11.2-2.5 12.9-1.9 14.4-1.3 16.1-.7 16-.4 17.4-.3M103.3 748.0l0 0 .3-4.2 .2-3.4 .7-5.8 .8-4.1 .9-2.9 1.3-2.9 1.6-3 2-3.3 2.2-3.5 2.9-4.1 3.2-4.1 4-4.4 4.8-4.5 5.7-4.4 6.4-3.9 8-3.8 9.7-3.2 11.2-2.5 12.9-1.9 14.4-1.2 16.1-.8 16-.5 17.4-.2M103.3 748.0l0 0 .3-5.8 .2-3.9 .7-5.8 .8-3.5 .9-2.5 1.3-2.9 1.6-3.2 2-3.7 2.2-3.9 2.9-4.6 3.2-4.6 4-4.9 4.8-4.9 5.7-4.8 6.4-4.3 8-4 9.7-3.5 11.2-2.7 12.9-1.9 14.4-1.3 16.1-.8 16-.4 17.4-.2M103.3 748.0l0 0 .3-4.5 .2-3.4 .7-5.2 .8-3.3 .9-2.5 1.3-2.6 1.6-2.9 2-3.2 2.2-3.5 2.9-4 3.2-4 4-4.3 4.8-4.4 5.7-4.2 6.4-3.7 8-3.6 9.7-3 11.2-2.4 12.9-1.6 14.4-1.2 16.1-.6 16-.4 17.4-.2M103.3 748.0l0 0 .3-4.9 .2-3.7 .7-6.3 .8-4.1 .9-3 1.3-2.9 1.6-3.2 2-3.5 2.2-3.7 2.9-4.4 3.2-4.3 4-4.7 4.8-4.7 5.7-4.5 6.4-4 8-3.8 9.7-3.3 11.2-2.5 12.9-1.8 14.4-1.2 16.1-.8 16-.4 17.4-.2M103.3 748.0l0 0 .3-2.7 .2-2 .7-3.6 .8-2.7 .9-2.2 1.3-2.4 1.6-2.7 2-3 2.2-3.2 2.9-3.8 3.2-3.7 4-4 4.8-4 5.7-3.8 6.4-3.5 8-3.2 9.7-2.8 11.2-2.1 12.9-1.5 14.4-1.1 16.1-.6 16-.3 17.4-.2M103.3 748.0l0 0 .3-2.6 .2-2 .7-3.6 .8-2.7 .9-2.1 1.3-2.3 1.6-2.7 2-2.9 2.2-3.1 2.9-3.6 3.2-3.6 4-3.9 4.8-3.9 5.7-3.8 6.4-3.4 8-3.2 9.7-2.8 11.2-2.2 12.9-1.5 14.4-1.1 16.1-.6 16-.3 17.4-.2M103.3 748.0l0 0 .3-2.5 .2-1.9 .7-3.5 .8-2.7 .9-2.2 1.3-2.3 1.6-2.6 2-2.8 2.2-3.1 2.9-3.5 3.2-3.6 4-3.8 4.8-3.9 5.7-3.7 6.4-3.4 8-3.2 9.7-2.8 11.2-2.2 12.9-1.5 14.4-1.1 16.1-.6 16-.4 17.4-.2M103.3 748.0l0 0 .3-3.6 .2-2.6 .7-4.5 .8-3.1 .9-2.4 1.3-2.5 1.6-2.9 2-3.1 2.2-3.4 2.9-3.9 3.2-3.8 4-4.2 4.8-4.1 5.7-3.9 6.4-3.5 8-3.3 9.7-2.7 11.2-2.1 12.9-1.5 14.4-1 16.1-.5 16-.3 17.4-.2M103.3 748.0l0 0 .3-5.5 .2-4.2 .7-7.4 .8-5 .9-3.4 1.3-3.1 1.6-3.2 2-3.5 2.2-3.8 2.9-4.4 3.2-4.4 4-4.8 4.8-5 5.7-4.8 6.4-4.4 8-4.2 9.7-3.7 11.2-3 12.9-2.2 14.4-1.5 16.1-1 16-.5 17.4-.4M103.3 748.0l0 0 .3-3.9 .2-2.7 .7-4.2 .8-2.6 .9-2.2 1.3-2.5 1.6-2.8 2-3.2 2.2-3.4 2.9-3.9 3.2-3.9 4-4.2 4.8-4.2 5.7-3.9 6.4-3.6 8-3.3 9.7-2.7 11.2-2.2 12.9-1.5 14.4-.9 16.1-.6 16-.3 17.4-.2M103.3 748.0l0 0 .3-3.1 .2-2.3 .7-4 .8-2.8 .9-2.2 1.3-2.4 1.6-2.7 2-3.1 2.2-3.2 2.9-3.8 3.2-3.7 4-4 4.8-4.1 5.7-3.9 6.4-3.4 8-3.3 9.7-2.8 11.2-2.1 12.9-1.6 14.4-1 16.1-.6 16-.3 17.4-.2M103.3 748.0l0 0 .3-6.3 .2-4.8 .7-7.9 .8-4.9 .9-3.3 1.3-2.9 1.6-3.2 2-3.4 2.2-3.7 2.9-4.4 3.2-4.3 4-4.7 4.8-4.9 5.7-4.7 6.4-4.2 8-4.2 9.7-3.5 11.2-2.9 12.9-2.1 14.4-1.4 16.1-1 16-.5 17.4-.3M103.3 748.0l0 0 .3-3.5 .2-2.7 .7-4.8 .8-3.3 .9-2.6 1.3-2.7 1.6-2.9 2-3.3 2.2-3.5 2.9-4 3.2-4 4-4.3 4.8-4.4 5.7-4.1 6.4-3.7 8-3.5 9.7-3 11.2-2.2 12.9-1.7 14.4-1 16.1-.7 16-.3 17.4-.2M103.3 748.0l0 0 .3-6.7 .2-4.8 .7-7.8 .8-4.7 .9-3.1 1.3-2.9 1.6-3.2 2-3.5 2.2-3.8 2.9-4.4 3.2-4.5 4-4.8 4.8-5 5.7-4.7 6.4-4.4 8-4.2 9.7-3.7 11.2-2.9 12.9-2.1 14.4-1.5 16.1-.9 16-.5 17.4-.3M103.3 748.0l0 0 .3-4.1 .2-3 .7-4.9 .8-3.2 .9-2.5 1.3-2.6 1.6-2.9 2-3.3 2.2-3.5 2.9-4.1 3.2-4.1 4-4.4 4.8-4.5 5.7-4.3 6.4-3.8 8-3.7 9.7-3.2 11.2-2.4 12.9-1.8 14.4-1.2 16.1-.7 16-.4 17.4-.2M103.3 748.0l0 0 .3-3.6 .2-2.9 .7-5.1 .8-3.7 .9-2.8 1.3-2.8 1.6-3 2-3.3 2.2-3.5 2.9-4 3.2-4 4-4.4 4.8-4.4 5.7-4.3 6.4-3.8 8-3.6 9.7-3.1 11.2-2.4 12.9-1.8 14.4-1.2 16.1-.7 16-.4 17.4-.2M103.3 748.0l0 0 .3-6.7 .2-4.7 .7-7.4 .8-4.2 .9-2.9 1.3-2.7 1.6-3.1 2-3.5 2.2-3.7 2.9-4.3 3.2-4.3 4-4.7 4.8-4.9 5.7-4.6 6.4-4.3 8-4 9.7-3.6 11.2-2.8 12.9-2.1 14.4-1.4 16.1-.9 16-.5 17.4-.3M103.3 748.0l0 0 .3-11 .2-8.5 .7-14.3 .8-8.9 .9-5.3 1.3-4.1 1.6-3.8 2-4 2.2-4.3 2.9-5.1 3.2-5 4-5.6 4.8-5.8 5.7-5.7 6.4-5.2 8-5.1 9.7-4.6 11.2-3.7 12.9-2.8 14.4-2 16.1-1.3 16-.7 17.4-.5M103.3 748.0l0 0 .3-10 .2-7.5 .7-12.4 .8-7.5 .9-4.5 1.3-3.8 1.6-3.7 2-4.1 2.2-4.3 2.9-5.1 3.2-5.1 4-5.6 4.8-5.7 5.7-5.5 6.4-5.1 8-4.8 9.7-4.3 11.2-3.4 12.9-2.5 14.4-1.7 16.1-1.2 16-.6 17.4-.3M103.3 748.0l0 0 .3-13.3 .2-10.3 .7-17.5 .8-10.8 .9-6.3 1.3-4.6 1.6-4.2 2-4.3 2.2-4.7 2.9-5.5 3.2-5.5 4-6.1 4.8-6.2 5.7-6.2 6.4-5.7 8-5.5 9.7-5 11.2-4 12.9-3.1 14.4-2.2 16.1-1.4 16-.9 17.4-.5M103.3 748.0l0 0 .3-9.9 .2-7.4 .7-12.2 .8-7.4 .9-4.4 1.3-3.6 1.6-3.6 2-4 2.2-4.2 2.9-5 3.2-5 4-5.5 4.8-5.6 5.7-5.5 6.4-5.1 8-4.9 9.7-4.3 11.2-3.5 12.9-2.7 14.4-1.8 16.1-1.2 16-.7 17.4-.4M103.3 748.0l0 0 .3-17.5 .2-12.3 .7-18.1 .8-9 .9-4.6 1.3-3.6 1.6-3.7 2-4.2 2.2-4.4 2.9-5.4 3.2-5.3 4-6 4.8-6.2 5.7-6.1 6.4-5.7 8-5.7 9.7-5.2 11.2-4.3 12.9-3.3 14.4-2.4 16.1-1.6 16-1 17.4-.6M103.3 748.0l0 0 .3-11.9 .2-8.3 .7-12.2 .8-6.3 .9-3.7 1.3-3.3 1.6-3.6 2-4.1 2.2-4.3 2.9-5.1 3.2-5.1 4-5.6 4.8-5.7 5.7-5.5 6.4-5.1 8-4.9 9.7-4.3 11.2-3.5 12.9-2.5 14.4-1.8 16.1-1.1 16-.6 17.4-.4M103.3 748.0l0 0 .3-10.3 .2-7.9 .7-13 .8-7.9 .9-4.8 1.3-3.9 1.6-3.8 2-4.2 2.2-4.5 2.9-5.2 3.2-5.3 4-5.7 4.8-6 5.7-5.7 6.4-5.3 8-5.2 9.7-4.5 11.2-3.7 12.9-2.7 14.4-1.9 16.1-1.3 16-.7 17.4-.4M103.3 748.0l0 0 .3-15.4 .2-11.8 .7-19.5 .8-11.7 .9-6.5 1.3-4.6 1.6-3.9 2-4.1 2.2-4.5 2.9-5.2 3.2-5.2 4-5.8 4.8-6 5.7-5.9 6.4-5.5 8-5.4 9.7-4.8 11.2-4 12.9-3 14.4-2.2 16.1-1.4 16-.9 17.4-.5M103.3 748.0l0 0 .3-8.4 .2-6.4 .7-10.7 .8-6.6 .9-4.1 1.3-3.5 1.6-3.6 2-3.9 2.2-4.1 2.9-4.9 3.2-4.9 4-5.3 4.8-5.4 5.7-5.2 6.4-4.7 8-4.6 9.7-3.9 11.2-3.1 12.9-2.3 14.4-1.6 16.1-.9 16-.6 17.4-.3M103.3 748.0l0 0 .3-11.9 .2-9.3 .7-16.2 .8-10.5 .9-6.3 1.3-4.8 1.6-4.3 2-4.4 2.2-4.8 2.9-5.5 3.2-5.6 4-6.1 4.8-6.3 5.7-6.1 6.4-5.7 8-5.5 9.7-4.8 11.2-4 12.9-3 14.4-2.1 16.1-1.3 16-.8 17.4-.5M103.3 748.0l0 0 .3-11.9 .2-8.9 .7-14.7 .8-8.7 .9-5.1 1.3-4.1 1.6-3.9 2-4.3 2.2-4.6 2.9-5.4 3.2-5.4 4-6 4.8-6.2 5.7-6 6.4-5.5 8-5.5 9.7-4.8 11.2-3.9 12.9-3 14.4-2.1 16.1-1.3 16-.8 17.4-.5M103.3 748.0l0 0 .3-14.3 .2-10 .7-14.8 .8-7.6 .9-4.2 1.3-3.5 1.6-3.9 2-4.2 2.2-4.6 2.9-5.4 3.2-5.5 4-6 4.8-6.2 5.7-6.1 6.4-5.7 8-5.6 9.7-5 11.2-4.1 12.9-3.1 14.4-2.2 16.1-1.5 16-.8 17.4-.5M103.3 748.0l0 0 .3-12.4 .2-9.2 .7-14.8 .8-8.5 .9-4.9 1.3-3.9 1.6-3.8 2-4.2 2.2-4.5 2.9-5.3 3.2-5.2 4-5.8 4.8-6 5.7-5.7 6.4-5.4 8-5.1 9.7-4.6 11.2-3.7 12.9-2.7 14.4-1.9 16.1-1.3 16-.7 17.4-.4M103.3 748.0l0 0 .3-13.5 .2-10.7 .7-18.5 .8-11.9 .9-7 1.3-5 1.6-4.2 2-4.3 2.2-4.5 2.9-5.4 3.2-5.4 4-6 4.8-6.3 5.7-6.1 6.4-5.8 8-5.8 9.7-5.2 11.2-4.3 12.9-3.3 14.4-2.5 16.1-1.6 16-1 17.4-.6M103.3 748.0l0 0 .3-8.8 .2-6.7 .7-11.1 .8-6.7 .9-4.1 1.3-3.6 1.6-3.5 2-3.9 2.2-4.2 2.9-5 3.2-4.9 4-5.4 4.8-5.6 5.7-5.5 6.4-5 8-4.9 9.7-4.3 11.2-3.5 12.9-2.7 14.4-1.8 16.1-1.2 16-.7 17.4-.4M103.3 748.0l0 0 .3-10.5 .2-7.5 .7-11.5 .8-6.3 .9-3.7 1.3-3.3 1.6-3.5 2-3.9 2.2-4.2 2.9-5 3.2-5.1 4-5.5 4.8-5.7 5.7-5.6 6.4-5.2 8-5.1 9.7-4.5 11.2-3.7 12.9-2.8 14.4-2 16.1-1.3 16-.8 17.4-.5M103.3 748.0l0 0 .3-7.6 .2-6 .7-10.3 .8-6.8 .9-4.4 1.3-3.7 1.6-3.6 2-3.8 2.2-4.1 2.9-4.7 3.2-4.8 4-5.1 4.8-5.3 5.7-5 6.4-4.6 8-4.4 9.7-3.8 11.2-3 12.9-2.1 14.4-1.5 16.1-.9 16-.5 17.4-.3M103.3 748.0l0 0 .3-9 .2-6.2 .7-9 .8-4.8 .9-3.1 1.3-3.1 1.6-3.5 2-3.9 2.2-4.2 2.9-5 3.2-5 4-5.4 4.8-5.6 5.7-5.4 6.4-5 8-4.8 9.7-4.2 11.2-3.3 12.9-2.6 14.4-1.7 16.1-1.1 16-.6 17.4-.4M103.3 748.0l0 0 .3-13.2 .2-10.1 .7-17.4 .8-10.7 .9-6.3 1.3-4.6 1.6-4.1 2-4.2 2.2-4.6 2.9-5.4 3.2-5.5 4-6.1 4.8-6.4 5.7-6.3 6.4-5.9 8-5.9 9.7-5.3 11.2-4.4 12.9-3.5 14.4-2.5 16.1-1.7 16-1.1 17.4-.6M103.3 748.0l0 0 .3-6 .2-4.7 .7-8.4 .8-5.7 .9-4 1.3-3.5 1.6-3.7 2-3.9 2.2-4.2 2.9-4.9 3.2-4.9 4-5.3 4.8-5.4 5.7-5.1 6.4-4.7 8-4.5 9.7-3.9 11.2-3.1 12.9-2.2 14.4-1.5 16.1-.9 16-.5 17.4-.3M103.3 748.0l0 0 .3-13.1 .2-9.4 .7-14.4 .8-7.6 .9-4.2 1.3-3.5 1.6-3.6 2-3.9 2.2-4.3 2.9-5.1 3.2-5.1 4-5.6 4.8-5.9 5.7-5.7 6.4-5.4 8-5.2 9.7-4.7 11.2-3.9 12.9-3 14.4-2.2 16.1-1.4 16-.8 17.4-.6M103.3 748.0l0 0 .3-12.1 .2-8.4 .7-12.5 .8-6.4 .9-3.8 1.3-3.3 1.6-3.6 2-4 2.2-4.4 2.9-5.2 3.2-5.1 4-5.7 4.8-5.8 5.7-5.7 6.4-5.2 8-5.1 9.7-4.6 11.2-3.6 12.9-2.8 14.4-1.9 16.1-1.3 16-.7 17.4-.5M103.3 748.0l0 0 .3-14.3 .2-9.9 .7-14.2 .8-6.9 .9-3.8 1.3-3.3 1.6-3.6 2-3.9 2.2-4.4 2.9-5.1 3.2-5.1 4-5.7 4.8-5.8 5.7-5.7 6.4-5.3 8-5.2 9.7-4.6 11.2-3.8 12.9-2.8 14.4-2.1 16.1-1.3 16-.8 17.4-.4M103.3 748.0l0 0 .3-12.3 .2-9.4 .7-16.2 .8-10 .9-5.8 1.3-4.3 1.6-3.7 2-3.9 2.2-4.2 2.9-4.9 3.2-4.9 4-5.4 4.8-5.6 5.7-5.5 6.4-5.1 8-5 9.7-4.5 11.2-3.6 12.9-2.8 14.4-2 16.1-1.3 16-.8 17.4-.4M103.3 748.0l0 0 .3-8.7 .2-6.6 .7-11 .8-6.9 .9-4.3 1.3-3.7 1.6-3.6 2-4 2.2-4.2 2.9-4.9 3.2-5 4-5.4 4.8-5.5 5.7-5.3 6.4-4.9 8-4.7 9.7-4.1 11.2-3.3 12.9-2.4 14.4-1.6 16.1-1.1 16-.5 17.4-.4M103.3 748.0l0 0 .3-13.7 .2-10.7 .7-18.5 .8-11.8 .9-7 1.3-5 1.6-4.3 2-4.5 2.2-4.7 2.9-5.5 3.2-5.6 4-6.1 4.8-6.3 5.7-6.2 6.4-5.8 8-5.6 9.7-5 11.2-4 12.9-3.1 14.4-2.2 16.1-1.4 16-.9 17.4-.5M103.3 748.0l0 0 .3-10.9 .2-8.1 .7-12.9 .8-7.5 .9-4.4 1.3-3.5 1.6-3.6 2-3.8 2.2-4.2 2.9-5 3.2-4.9 4-5.5 4.8-5.7 5.7-5.5 6.4-5.1 8-5 9.7-4.5 11.2-3.6 12.9-2.8 14.4-1.9 16.1-1.3 16-.8 17.4-.4M103.3 748.0l0 0 .3-11.5 .2-8.8 .7-15.2 .8-9.5 .9-5.7 1.3-4.2 1.6-3.8 2-3.9 2.2-4.3 2.9-5 3.2-5.1 4-5.5 4.8-5.7 5.7-5.7 6.4-5.2 8-5.1 9.7-4.5 11.2-3.8 12.9-2.8 14.4-2 16.1-1.4 16-.7 17.4-.5M103.3 748.0l0 0 .3-11.7 .2-8.7 .7-14.4 .8-8.4 .9-4.9 1.3-3.8 1.6-3.7 2-4.1 2.2-4.4 2.9-5.2 3.2-5.2 4-5.8 4.8-6 5.7-5.8 6.4-5.6 8-5.4 9.7-4.9 11.2-4 12.9-3.1 14.4-2.3 16.1-1.5 16-.8 17.4-.6M103.3 748.0l0 0 .3-7.7 .2-5.8 .7-9.8 .8-6.1 .9-3.9 1.3-3.4 1.6-3.5 2-3.7 2.2-4.1 2.9-4.7 3.2-4.8 4-5.1 4.8-5.3 5.7-5.2 6.4-4.7 8-4.5 9.7-3.9 11.2-3.2 12.9-2.3 14.4-1.6 16.1-1.1 16-.5 17.4-.4M103.3 748.0l0 0 .3-12 .2-8.3 .7-12.2 .8-6.2 .9-3.5 1.3-3.1 1.6-3.4 2-3.9 2.2-4.1 2.9-4.9 3.2-4.9 4-5.4 4.8-5.5 5.7-5.5 6.4-5 8-5 9.7-4.3 11.2-3.6 12.9-2.7 14.4-2 16.1-1.2 16-.8 17.4-.4M103.3 748.0l0 0 .3-16 .2-11.1 .7-16.1 .8-7.9 .9-4.1 1.3-3.5 1.6-3.6 2-4.1 2.2-4.4 2.9-5.2 3.2-5.2 4-5.8 4.8-6.1 5.7-5.9 6.4-5.6 8-5.5 9.7-4.9 11.2-4.1 12.9-3.1 14.4-2.3 16.1-1.5 16-.9 17.4-.5M103.3 748.0l0 0 .3-15.7 .2-11 .7-16.1 .8-8.2 .9-4.3 1.3-3.6 1.6-3.7 2-4.2 2.2-4.5 2.9-5.4 3.2-5.3 4-6 4.8-6.3 5.7-6.1 6.4-5.8 8-5.7 9.7-5.2 11.2-4.3 12.9-3.3 14.4-2.4 16.1-1.6 16-1 17.4-.6M103.3 748.0l0 0 .3-7.4 .2-5.5 .7-8.6 .8-5.1 .9-3.3 1.3-3.1 1.6-3.4 2-3.7 2.2-4.1 2.9-4.7 3.2-4.7 4-5.1 4.8-5.3 5.7-5.1 6.4-4.7 8-4.5 9.7-4 11.2-3.1 12.9-2.4 14.4-1.6 16.1-1 16-.6 17.4-.4M103.3 748.0l0 0 .3-14.8 .2-11 .7-17.6 .8-10 .9-5.5 1.3-4 1.6-3.9 2-4.2 2.2-4.5 2.9-5.4 3.2-5.4 4-6.1 4.8-6.3 5.7-6.2 6.4-5.9 8-5.8 9.7-5.3 11.2-4.4 12.9-3.5 14.4-2.5 16.1-1.7 16-1.1 17.4-.6M103.3 748.0l0 0 .3-15.1 .2-10.8 .7-16.5 .8-8.7 .9-4.6 1.3-3.8 1.6-3.8 2-4.1 2.2-4.6 2.9-5.4 3.2-5.3 4-6 4.8-6.2 5.7-6 6.4-5.7 8-5.6 9.7-4.9 11.2-4.1 12.9-3.2 14.4-2.2 16.1-1.5 16-.9 17.4-.5M103.3 748.0l0 0 .3-16.6 .2-11.5 .7-16.8 .8-8.3 .9-4.4 1.3-3.6 1.6-3.8 2-4.3 2.2-4.6 2.9-5.5 3.2-5.5 4-6.1 4.8-6.3 5.7-6.3 6.4-5.8 8-5.8 9.7-5.2 11.2-4.4 12.9-3.3 14.4-2.4 16.1-1.7 16-.9 17.4-.6M103.3 748.0l0 0 .3-12 .2-8.5 .7-13.1 .8-7 .9-4.1 1.3-3.6 1.6-3.8 2-4.2 2.2-4.6 2.9-5.3 3.2-5.3 4-5.8 4.8-6 5.7-5.7 6.4-5.3 8-5.1 9.7-4.5 11.2-3.5 12.9-2.7 14.4-1.8 16.1-1.2 16-.6 17.4-.4M103.3 748.0l0 0 .3-13.8 .2-10.5 .7-17.6 .8-10.6 .9-6 1.3-4.4 1.6-4 2-4.2 2.2-4.6 2.9-5.4 3.2-5.4 4-6.1 4.8-6.3 5.7-6.2 6.4-5.9 8-5.8 9.7-5.3 11.2-4.4 12.9-3.5 14.4-2.5 16.1-1.7 16-1 17.4-.6M103.3 748.0l0 0 .3-7.5 .2-5.4 .7-8.4 .8-4.9 .9-3.2 1.3-3 1.6-3.3 2-3.6 2.2-4 2.9-4.5 3.2-4.6 4-4.9 4.8-5 5.7-4.8 6.4-4.3 8-4.1 9.7-3.6 11.2-2.8 12.9-2 14.4-1.3 16.1-.9 16-.4 17.4-.3M103.3 748.0l0 0 .3-6.8 .2-5.1 .7-8.3 .8-5.1 .9-3.3 1.3-3 1.6-3.3 2-3.5 2.2-3.9 2.9-4.4 3.2-4.5 4-4.9 4.8-4.9 5.7-4.8 6.4-4.4 8-4.2 9.7-3.6 11.2-2.9 12.9-2.1 14.4-1.5 16.1-.9 16-.5 17.4-.3M103.3 748.0l0 0 .3-9.8 .2-6.9 .7-10 .8-5.2 .9-3.2 1.3-3 1.6-3.4 2-3.8 2.2-4.1 2.9-4.8 3.2-4.8 4-5.2 4.8-5.5 5.7-5.3 6.4-4.9 8-4.8 9.7-4.2 11.2-3.5 12.9-2.6 14.4-1.8 16.1-1.2 16-.7 17.4-.4M103.3 748.0l0 0 .3-8.1 .2-6.1 .7-10.2 .8-6.3 .9-3.9 1.3-3.5 1.6-3.5 2-3.8 2.2-4.1 2.9-4.8 3.2-4.8 4-5.3 4.8-5.5 5.7-5.3 6.4-4.9 8-4.7 9.7-4.2 11.2-3.4 12.9-2.5 14.4-1.8 16.1-1.1 16-.7 17.4-.4M103.3 748.0l0 0 .3-7.6 .2-5.8 .7-9.8 .8-6.2 .9-3.9 1.3-3.4 1.6-3.5 2-3.7 2.2-4 2.9-4.7 3.2-4.7 4-5.2 4.8-5.3 5.7-5.1 6.4-4.7 8-4.6 9.7-4 11.2-3.2 12.9-2.4 14.4-1.7 16.1-1 16-.6 17.4-.4M103.3 748.0l0 0 .3-13.6 .2-9.5 .7-13.8 .8-7 .9-3.9 1.3-3.4 1.6-3.5 2-4.1 2.2-4.3 2.9-5.1 3.2-5.1 4-5.7 4.8-5.8 5.7-5.7 6.4-5.3 8-5.1 9.7-4.6 11.2-3.7 12.9-2.8 14.4-2 16.1-1.3 16-.8 17.4-.4M103.3 748.0l0 0 .3-6.6 .2-4.9 .7-8.1 .8-4.9 .9-3.3 1.3-3.1 1.6-3.3 2-3.6 2.2-3.9 2.9-4.6 3.2-4.5 4-5 4.8-5.1 5.7-4.9 6.4-4.6 8-4.3 9.7-3.8 11.2-3.1 12.9-2.2 14.4-1.6 16.1-1 16-.5 17.4-.4M103.3 748.0l0 0 .3-11.7 .2-9 .7-14.8 .8-8.8 .9-5.1 1.3-3.9 1.6-3.6 2-3.9 2.2-4.1 2.9-4.9 3.2-4.9 4-5.5 4.8-5.6 5.7-5.6 6.4-5.2 8-5.1 9.7-4.6 11.2-3.8 12.9-2.9 14.4-2.1 16.1-1.4 16-.8 17.4-.5M103.3 748.0l0 0 .3-8.3 .2-6.2 .7-9.9 .8-5.9 .9-3.6 1.3-3.2 1.6-3.3 2-3.7 2.2-3.9 2.9-4.6 3.2-4.6 4-5.1 4.8-5.1 5.7-5 6.4-4.6 8-4.4 9.7-3.9 11.2-3.1 12.9-2.3 14.4-1.6 16.1-1.1 16-.6 17.4-.3M103.3 748.0l0 0 .3-13.4 .2-9.9 .7-15.7 .8-8.8 .9-5 1.3-3.8 1.6-3.7 2-4 2.2-4.4 2.9-5.1 3.2-5.2 4-5.7 4.8-5.9 5.7-5.7 6.4-5.3 8-5.2 9.7-4.6 11.2-3.8 12.9-2.9 14.4-2 16.1-1.3 16-.8 17.4-.5M103.3 748.0l0 0 .3-7.2 .2-5 .7-7.5 .8-4.3 .9-2.8 1.3-3 1.6-3.3 2-3.7 2.2-4 2.9-4.6 3.2-4.7 4-5 4.8-5.2 5.7-4.9 6.4-4.6 8-4.3 9.7-3.8 11.2-2.9 12.9-2.2 14.4-1.5 16.1-.9 16-.6 17.4-.3M103.3 748.0l0 0 .3-8.9 .2-6.6 .7-11 .8-6.6 .9-4 1.3-3.5 1.6-3.4 2-3.8 2.2-4.1 2.9-4.9 3.2-4.8 4-5.3 4.8-5.5 5.7-5.4 6.4-5 8-4.8 9.7-4.3 11.2-3.5 12.9-2.7 14.4-1.8 16.1-1.3 16-.7 17.4-.4M103.3 748.0l0 0 .3-13.2 .2-10.3 .7-17.9 .8-11.5 .9-6.9 1.3-5 1.6-4.4 2-4.4 2.2-4.7 2.9-5.6 3.2-5.6 4-6.1 4.8-6.4 5.7-6.2 6.4-5.8 8-5.7 9.7-5 11.2-4.2 12.9-3.1 14.4-2.2 16.1-1.5 16-.9 17.4-.5M103.3 748.0l0 0 .3-10.1 .2-7.9 .7-13.5 .8-8.6 .9-5.2 1.3-4.1 1.6-3.9 2-4.1 2.2-4.4 2.9-5.2 3.2-5.2 4-5.7 4.8-5.8 5.7-5.7 6.4-5.3 8-5.1 9.7-4.5 11.2-3.6 12.9-2.7 14.4-2 16.1-1.2 16-.7 17.4-.4M103.3 748.0l0 0 .3-16.2 .2-11.5 .7-17.1 .8-8.9 .9-4.6 1.3-3.8 1.6-3.8 2-4.2 2.2-4.5 2.9-5.4 3.2-5.3 4-5.9 4.8-6.1 5.7-5.9 6.4-5.5 8-5.3 9.7-4.8 11.2-3.8 12.9-2.9 14.4-2 16.1-1.3 16-.8 17.4-.5M103.3 748.0l0 0 .3-12.2 .2-9.2 .7-15.3 .8-9.1 .9-5.3 1.3-4.1 1.6-3.9 2-4.2 2.2-4.5 2.9-5.3 3.2-5.2 4-5.8 4.8-5.9 5.7-5.8 6.4-5.3 8-5.2 9.7-4.6 11.2-3.6 12.9-2.8 14.4-1.9 16.1-1.2 16-.7 17.4-.5M103.3 748.0l0 0 .3-13.5 .2-9.6 .7-14.4 .8-7.5 .9-4.1 1.3-3.5 1.6-3.6 2-4 2.2-4.3 2.9-5.1 3.2-5.2 4-5.6 4.8-5.9 5.7-5.8 6.4-5.3 8-5.3 9.7-4.7 11.2-3.8 12.9-2.9 14.4-2.1 16.1-1.4 16-.8 17.4-.5M103.3 748.0l0 0 .3-8.6 .2-6.5 .7-10.3 .8-6.2 .9-3.7 1.3-3.2 1.6-3.3 2-3.6 2.2-4 2.9-4.6 3.2-4.5 4-5.1 4.8-5.1 5.7-5 6.4-4.6 8-4.5 9.7-3.9 11.2-3.1 12.9-2.3 14.4-1.6 16.1-1.1 16-.5 17.4-.4M103.3 748.0l0 0 .3-12.9 .2-9.2 .7-14 .8-7.4 .9-4.1 1.3-3.5 1.6-3.6 2-4 2.2-4.3 2.9-5.1 3.2-5.1 4-5.7 4.8-5.8 5.7-5.7 6.4-5.3 8-5.2 9.7-4.7 11.2-3.8 12.9-2.8 14.4-2.1 16.1-1.4 16-.7 17.4-.5M103.3 748.0l0 0 .3-6.5 .2-4.9 .7-8.3 .8-5.3 .9-3.4 1.3-3.2 1.6-3.3 2-3.6 2.2-3.8 2.9-4.6 3.2-4.5 4-4.9 4.8-5.1 5.7-4.9 6.4-4.4 8-4.3 9.7-3.8 11.2-3 12.9-2.2 14.4-1.5 16.1-.9 16-.6 17.4-.3M103.3 748.0l0 0 .3-12.8 .2-9.6 .7-15.8 .8-9.4 .9-5.5 1.3-4.2 1.6-4.1 2-4.3 2.2-4.7 2.9-5.6 3.2-5.5 4-6.2 4.8-6.4 5.7-6.2 6.4-5.8 8-5.7 9.7-5.1 11.2-4.2 12.9-3.2 14.4-2.3 16.1-1.5 16-.9 17.4-.5M103.3 748.0l0 0 .3-15.9 .2-11.7 .7-18.3 .8-10.2 .9-5.4 1.3-4.2 1.6-4.1 2-4.4 2.2-4.8 2.9-5.6 3.2-5.7 4-6.2 4.8-6.4 5.7-6.3 6.4-5.9 8-5.7 9.7-5.1 11.2-4.1 12.9-3.2 14.4-2.2 16.1-1.5 16-.9 17.4-.5M103.3 748.0l0 0 .3-9.9 .2-7.4 .7-12.1 .8-7.2 .9-4.4 1.3-3.5 1.6-3.6 2-3.8 2.2-4.2 2.9-4.8 3.2-4.8 4-5.3 4.8-5.3 5.7-5.2 6.4-4.8 8-4.6 9.7-3.9 11.2-3.2 12.9-2.3 14.4-1.6 16.1-1.1 16-.5 17.4-.4M103.3 748.0l0 0 .3-12.2 .2-8.5 .7-12.2 .8-6.1 .9-3.5 1.3-3 1.6-3.3 2-3.6 2.2-4 2.9-4.6 3.2-4.6 4-5.1 4.8-5.2 5.7-5 6.4-4.6 8-4.4 9.7-3.9 11.2-3.1 12.9-2.3 14.4-1.6 16.1-1 16-.6 17.4-.3M103.3 748.0l0 0 .3-6.4 .2-5 .7-8.6 .8-5.6 .9-3.8 1.3-3.4 1.6-3.6 2-3.9 2.2-4.1 2.9-4.9 3.2-4.8 4-5.3 4.8-5.3 5.7-5.2 6.4-4.6 8-4.5 9.7-3.9 11.2-3 12.9-2.2 14.4-1.5 16.1-.9 16-.5 17.4-.3M103.3 748.0l0 0 .3-11 .2-8.5 .7-14.2 .8-8.8 .9-5.3 1.3-4.2 1.6-4 2-4.2 2.2-4.6 2.9-5.4 3.2-5.4 4-5.9 4.8-6.1 5.7-5.9 6.4-5.4 8-5.3 9.7-4.7 11.2-3.7 12.9-2.8 14.4-2 16.1-1.3 16-.7 17.4-.4M103.3 748.0l0 0 .3-12.2 .2-9.4 .7-16.3 .8-10.1 .9-6 1.3-4.5 1.6-3.9 2-4.2 2.2-4.5 2.9-5.2 3.2-5.3 4-5.9 4.8-6.2 5.7-6 6.4-5.7 8-5.7 9.7-5.1 11.2-4.2 12.9-3.3 14.4-2.4 16.1-1.6 16-1 17.4-.6M103.3 748.0l0 0 .3-9.8 .2-7.4 .7-12.1 .8-7.1 .9-4.1 1.3-3.4 1.6-3.3 2-3.6 2.2-3.9 2.9-4.6 3.2-4.6 4-5 4.8-5.2 5.7-5.1 6.4-4.7 8-4.6 9.7-4.1 11.2-3.3 12.9-2.6 14.4-1.7 16.1-1.2 16-.7 17.4-.4M103.3 748.0l0 0 .3-15.1 .2-11.2 .7-17.6 .8-9.7 .9-5.1 1.3-3.8 1.6-3.7 2-3.9 2.2-4.3 2.9-5 3.2-5 4-5.7 4.8-5.8 5.7-5.7 6.4-5.4 8-5.3 9.7-4.8 11.2-4 12.9-3 14.4-2.3 16.1-1.4 16-.9 17.4-.6M103.3 748.0l0 0 .3-8 .2-5.7 .7-8.5 .8-4.8 .9-3.1 1.3-3.1 1.6-3.4 2-3.9 2.2-4.1 2.9-4.8 3.2-4.8 4-5.3 4.8-5.4 5.7-5.2 6.4-4.7 8-4.6 9.7-3.9 11.2-3.2 12.9-2.3 14.4-1.6 16.1-1 16-.5 17.4-.4M103.3 748.0l0 0 .3-15.4 .2-10.9 .7-16.5 .8-8.6 .9-4.5 1.3-3.5 1.6-3.7 2-4 2.2-4.4 2.9-5.1 3.2-5.2 4-5.8 4.8-5.9 5.7-5.9 6.4-5.5 8-5.5 9.7-4.8 11.2-4.1 12.9-3.1 14.4-2.2 16.1-1.5 16-.9 17.4-.6M103.3 748.0l0 0 .3-16.5 .2-11.7 .7-17.4 .8-8.9 .9-4.7 1.3-3.6 1.6-3.8 2-4.1 2.2-4.5 2.9-5.3 3.2-5.4 4-6 4.8-6.2 5.7-6.1 6.4-5.8 8-5.7 9.7-5.1 11.2-4.3 12.9-3.3 14.4-2.4 16.1-1.6 16-1 17.4-.6M103.3 748.0l0 0 .3-9.4 .2-6.7 .7-10.3 .8-5.6 .9-3.4 1.3-3 1.6-3.3 2-3.6 2.2-4 2.9-4.6 3.2-4.6 4-5.1 4.8-5.2 5.7-5 6.4-4.6 8-4.5 9.7-3.9 11.2-3.2 12.9-2.4 14.4-1.6 16.1-1.1 16-.6 17.4-.3M103.3 748.0l0 0 .3-11.5 .2-8.5 .7-13.7 .8-7.9 .9-4.6 1.3-3.8 1.6-3.8 2-4.1 2.2-4.5 2.9-5.3 3.2-5.3 4-5.8 4.8-5.9 5.7-5.9 6.4-5.4 8-5.2 9.7-4.6 11.2-3.8 12.9-2.8 14.4-2 16.1-1.3 16-.7 17.4-.5M103.3 748.0l0 0 .3-11.3 .2-8.8 .7-15.3 .8-9.9 .9-5.9 1.3-4.5 1.6-3.9 2-4.1 2.2-4.3 2.9-5.1 3.2-5.1 4-5.6 4.8-5.8 5.7-5.6 6.4-5.2 8-5.1 9.7-4.4 11.2-3.6 12.9-2.7 14.4-1.9 16.1-1.3 16-.7 17.4-.4M103.3 748.0l0 0 .3-12.9 .2-9 .7-13.1 .8-6.6 .9-3.8 1.3-3.5 1.6-3.7 2-4.2 2.2-4.6 2.9-5.4 3.2-5.4 4-6 4.8-6.2 5.7-6 6.4-5.7 8-5.5 9.7-5 11.2-4.1 12.9-3.1 14.4-2.2 16.1-1.5 16-.8 17.4-.6M103.3 748.0l0 0 .3-8.5 .2-6.2 .7-9.5 .8-5.3 .9-3.3 1.3-3 1.6-3.1 2-3.6 2.2-3.8 2.9-4.5 3.2-4.4 4-4.9 4.8-4.9 5.7-4.8 6.4-4.4 8-4.2 9.7-3.7 11.2-2.9 12.9-2.2 14.4-1.5 16.1-.9 16-.5 17.4-.3M103.3 748.0l0 0 .3-13.9 .2-10 .7-15.5 .8-8.4 .9-4.6 1.3-3.6 1.6-3.8 2-4 2.2-4.4 2.9-5.2 3.2-5.2 4-5.7 4.8-5.9 5.7-5.7 6.4-5.3 8-5.1 9.7-4.6 11.2-3.7 12.9-2.8 14.4-1.9 16.1-1.3 16-.7 17.4-.4M103.3 748.0l0 0 .3-11.4 .2-8.7 .7-14.3 .8-8.5 .9-5.1 1.3-4 1.6-3.9 2-4.2 2.2-4.5 2.9-5.3 3.2-5.4 4-5.8 4.8-6.1 5.7-5.9 6.4-5.5 8-5.3 9.7-4.8 11.2-3.8 12.9-2.9 14.4-2.1 16.1-1.4 16-.7 17.4-.5M103.3 748.0l0 0 .3-16 .2-11.7 .7-18.2 .8-9.9 .9-5.2 1.3-3.7 1.6-3.6 2-3.8 2.2-4.2 2.9-4.9 3.2-5 4-5.5 4.8-5.8 5.7-5.6 6.4-5.4 8-5.2 9.7-4.8 11.2-4 12.9-3 14.4-2.3 16.1-1.5 16-.9 17.4-.6M103.3 748.0l0 0 .3-13.6 .2-10.3 .7-16.6 .8-9.6 .9-5.5 1.3-4.1 1.6-4 2-4.3 2.2-4.7 2.9-5.4 3.2-5.5 4-6 4.8-6.2 5.7-6.1 6.4-5.6 8-5.5 9.7-4.9 11.2-3.9 12.9-3 14.4-2.2 16.1-1.3 16-.8 17.4-.5M103.3 748.0l0 0 .3-10.9 .2-7.5 .7-11 .8-5.6 .9-3.3 1.3-3.2 1.6-3.4 2-3.9 2.2-4.1 2.9-4.9 3.2-4.9 4-5.4 4.8-5.6 5.7-5.3 6.4-5 8-4.9 9.7-4.2 11.2-3.5 12.9-2.6 14.4-1.8 16.1-1.2 16-.6 17.4-.4M103.3 748.0l0 0 .3-12.1 .2-9.3 .7-15.8 .8-9.6 .9-5.7 1.3-4.3 1.6-3.9 2-4.2 2.2-4.5 2.9-5.2 3.2-5.3 4-5.8 4.8-6.1 5.7-5.9 6.4-5.5 8-5.3 9.7-4.8 11.2-4 12.9-3 14.4-2.1 16.1-1.4 16-.8 17.4-.5M103.3 748.0l0 0 .3-14.4 .2-11.1 .7-18.8 .8-11.4 .9-6.6 1.3-4.6 1.6-4 2-4.2 2.2-4.5 2.9-5.2 3.2-5.3 4-5.8 4.8-6 5.7-5.9 6.4-5.4 8-5.3 9.7-4.7 11.2-3.8 12.9-2.9 14.4-2.1 16.1-1.3 16-.8 17.4-.5M103.3 748.0l0 0 .3-8.5 .2-6 .7-9.2 .8-5 .9-3.2 1.3-3 1.6-3.3 2-3.7 2.2-4 2.9-4.6 3.2-4.7 4-5.2 4.8-5.3 5.7-5.1 6.4-4.8 8-4.6 9.7-4.1 11.2-3.3 12.9-2.5 14.4-1.8 16.1-1.1 16-.7 17.4-.3M103.3 748.0l0 0 .3-6.9 .2-5 .7-8 .8-4.7 .9-3.2 1.3-3 1.6-3.3 2-3.6 2.2-4 2.9-4.6 3.2-4.5 4-5 4.8-5.1 5.7-4.9 6.4-4.5 8-4.3 9.7-3.7 11.2-2.9 12.9-2.2 14.4-1.4 16.1-1 16-.5 17.4-.3M103.3 748.0l0 0 .3-14.2 .2-10.2 .7-15.4 .8-8.2 .9-4.4 1.3-3.5 1.6-3.6 2-4 2.2-4.3 2.9-5.1 3.2-5.1 4-5.6 4.8-5.8 5.7-5.7 6.4-5.2 8-5.2 9.7-4.5 11.2-3.8 12.9-2.8 14.4-2 16.1-1.3 16-.8 17.4-.5M103.3 748.0l0 0 .3-9 .2-6.4 .7-9.6 .8-5.2 .9-3.2 1.3-3.2 1.6-3.5 2-3.9 2.2-4.2 2.9-5 3.2-4.9 4-5.3 4.8-5.5 5.7-5.3 6.4-4.9 8-4.6 9.7-4.1 11.2-3.2 12.9-2.4 14.4-1.6 16.1-1.1 16-.6 17.4-.3M103.3 748.0l0 0 .3-13.7 .2-9.5 .7-13.4 .8-6.7 .9-3.7 1.3-3.3 1.6-3.7 2-4.1 2.2-4.5 2.9-5.2 3.2-5.2 4-5.8 4.8-5.9 5.7-5.8 6.4-5.3 8-5.2 9.7-4.5 11.2-3.7 12.9-2.8 14.4-1.9 16.1-1.3 16-.7 17.4-.4M103.3 748.0l0 0 .3-15.8 .2-11.6 .7-18 .8-9.8 .9-5.2 1.3-4 1.6-3.9 2-4.3 2.2-4.7 2.9-5.5 3.2-5.5 4-6.1 4.8-6.4 5.7-6.3 6.4-5.9 8-5.8 9.7-5.3 11.2-4.3 12.9-3.4 14.4-2.4 16.1-1.7 16-.9 17.4-.7M103.3 748.0l0 0 .3-11.4 .2-8 .7-11.7 .8-6 .9-3.4 1.3-3.2 1.6-3.4 2-3.8 2.2-4.1 2.9-4.9 3.2-4.9 4-5.4 4.8-5.6 5.7-5.4 6.4-5 8-5 9.7-4.3 11.2-3.6 12.9-2.7 14.4-1.9 16.1-1.3 16-.7 17.4-.4M103.3 748.0l0 0 .3-7.7 .2-6 .7-10.1 .8-6.5 .9-4.2 1.3-3.5 1.6-3.6 2-3.8 2.2-4.2 2.9-4.8 3.2-4.9 4-5.3 4.8-5.5 5.7-5.3 6.4-4.9 8-4.8 9.7-4.2 11.2-3.4 12.9-2.5 14.4-1.7 16.1-1.2 16-.6 17.4-.4M103.3 748.0l0 0 .3-10.3 .2-7.7 .7-12.2 .8-7 .9-4.3 1.3-3.6 1.6-3.8 2-4.1 2.2-4.5 2.9-5.3 3.2-5.2 4-5.8 4.8-5.8 5.7-5.7 6.4-5.3 8-5.1 9.7-4.4 11.2-3.6 12.9-2.6 14.4-1.9 16.1-1.1 16-.7 17.4-.4M103.3 748.0l0 0 .3-14.6 .2-10.1 .7-14.6 .8-7.3 .9-4 1.3-3.5 1.6-3.8 2-4.1 2.2-4.6 2.9-5.3 3.2-5.3 4-5.9 4.8-6 5.7-5.9 6.4-5.4 8-5.3 9.7-4.7 11.2-3.8 12.9-2.8 14.4-2 16.1-1.3 16-.8 17.4-.4M103.3 748.0l0 0 .3-8.1 .2-5.8 .7-9 .8-5.1 .9-3.2 1.3-3.1 1.6-3.3 2-3.7 2.2-3.9 2.9-4.7 3.2-4.6 4-5 4.8-5.2 5.7-4.9 6.4-4.6 8-4.3 9.7-3.8 11.2-2.9 12.9-2.2 14.4-1.5 16.1-1 16-.5 17.4-.3M103.3 748.0l0 0 .3-9.6 .2-7.2 .7-11.6 .8-6.9 .9-4.1 1.3-3.6 1.6-3.6 2-4 2.2-4.3 2.9-5 3.2-5.1 4-5.5 4.8-5.7 5.7-5.5 6.4-5.1 8-4.9 9.7-4.3 11.2-3.5 12.9-2.6 14.4-1.9 16.1-1.1 16-.7 17.4-.4M103.3 748.0l0 0 .3-7.6 .2-5.9 .7-10 .8-6.4 .9-4 1.3-3.4 1.6-3.4 2-3.6 2.2-3.8 2.9-4.6 3.2-4.5 4-4.9 4.8-5 5.7-4.8 6.4-4.5 8-4.2 9.7-3.7 11.2-2.9 12.9-2.1 14.4-1.5 16.1-.9 16-.5 17.4-.3M103.3 748.0l0 0 .3-11.4 .2-8.9 .7-15.1 .8-9.4 .9-5.7 1.3-4.2 1.6-3.8 2-4.1 2.2-4.3 2.9-5.1 3.2-5.1 4-5.7 4.8-5.9 5.7-5.8 6.4-5.4 8-5.3 9.7-4.7 11.2-3.9 12.9-3 14.4-2.2 16.1-1.4 16-.9 17.4-.5M103.3 748.0l0 0 .3-11.1 .2-7.8 .7-12 .8-6.4 .9-3.8 1.3-3.2 1.6-3.5 2-3.9 2.2-4.2 2.9-4.9 3.2-4.9 4-5.4 4.8-5.5 5.7-5.4 6.4-5 8-4.8 9.7-4.2 11.2-3.4 12.9-2.6 14.4-1.8 16.1-1.1 16-.7 17.4-.4M103.3 748.0l0 0 .3-11.2 .2-7.8 .7-11.6 .8-6 .9-3.6 1.3-3.3 1.6-3.5 2-3.9 2.2-4.3 2.9-5 3.2-5 4-5.4 4.8-5.6 5.7-5.5 6.4-5 8-4.8 9.7-4.3 11.2-3.4 12.9-2.6 14.4-1.7 16.1-1.2 16-.6 17.4-.4M103.3 748.0l0 0 .3-11 .2-8.4 .7-14 .8-8.5 .9-5 1.3-3.9 1.6-3.7 2-3.9 2.2-4.2 2.9-5 3.2-5 4-5.5 4.8-5.7 5.7-5.5 6.4-5.2 8-5.1 9.7-4.4 11.2-3.7 12.9-2.8 14.4-2 16.1-1.3 16-.7 17.4-.5M103.3 748.0l0 0 .3-8.8 .2-6.3 .7-9.7 .8-5.5 .9-3.4 1.3-3.3 1.6-3.5 2-4 2.2-4.2 2.9-5 3.2-4.9 4-5.4 4.8-5.5 5.7-5.3 6.4-4.8 8-4.6 9.7-4 11.2-3.1 12.9-2.3 14.4-1.6 16.1-1 16-.5 17.4-.3M103.3 748.0l0 0 .3-9.8 .2-7 .7-10.4 .8-5.7 .9-3.3 1.3-3 1.6-3.4 2-3.6 2.2-4 2.9-4.7 3.2-4.7 4-5.2 4.8-5.3 5.7-5.2 6.4-4.8 8-4.7 9.7-4.1 11.2-3.4 12.9-2.5 14.4-1.8 16.1-1.1 16-.7 17.4-.4M103.3 748.0l0 0 .3-8.8 .2-6.9 .7-11.7 .8-7.4 .9-4.6 1.3-3.7 1.6-3.5 2-3.8 2.2-4 2.9-4.7 3.2-4.8 4-5.2 4.8-5.4 5.7-5.2 6.4-4.8 8-4.7 9.7-4.2 11.2-3.4 12.9-2.5 14.4-1.8 16.1-1.2 16-.7 17.4-.4M103.3 748.0l0 0 .3-12.6 .2-8.7 .7-12.5 .8-6.2 .9-3.6 1.3-3.2 1.6-3.6 2-4 2.2-4.3 2.9-5 3.2-5.1 4-5.6 4.8-5.7 5.7-5.5 6.4-5.1 8-5 9.7-4.4 11.2-3.5 12.9-2.7 14.4-1.8 16.1-1.3 16-.6 17.4-.4M103.3 748.0l0 0 .3-12 .2-8.8 .7-13.7 .8-7.6 .9-4.4 1.3-3.6 1.6-3.7 2-4.1 2.2-4.4 2.9-5.2 3.2-5.3 4-5.7 4.8-6 5.7-5.8 6.4-5.4 8-5.3 9.7-4.7 11.2-3.9 12.9-2.9 14.4-2 16.1-1.4 16-.8 17.4-.5M103.3 748.0l0 0 .3-9.6 .2-7.1 .7-11.2 .8-6.4 .9-3.9 1.3-3.3 1.6-3.4 2-3.7 2.2-4.1 2.9-4.8 3.2-4.7 4-5.3 4.8-5.4 5.7-5.2 6.4-4.9 8-4.7 9.7-4.1 11.2-3.4 12.9-2.5 14.4-1.8 16.1-1.2 16-.6 17.4-.4M103.3 748.0l0 0 .3-12.5 .2-9.6 .7-16 .8-9.8 .9-5.7 1.3-4.4 1.6-4 2-4.3 2.2-4.6 2.9-5.5 3.2-5.4 4-6 4.8-6.2 5.7-6 6.4-5.6 8-5.4 9.7-4.8 11.2-3.9 12.9-3 14.4-2.1 16.1-1.3 16-.8 17.4-.5M103.3 748.0l0 0 .3-7.2 .2-5.3 .7-8.4 .8-5.1 .9-3.4 1.3-3.3 1.6-3.6 2-4 2.2-4.3 2.9-5 3.2-4.9 4-5.4 4.8-5.5 5.7-5.2 6.4-4.8 8-4.5 9.7-3.9 11.2-3.1 12.9-2.2 14.4-1.5 16.1-1 16-.5 17.4-.3M103.3 748.0l0 0 .3-7.3 .2-5.6 .7-9.2 .8-5.6 .9-3.7 1.3-3.2 1.6-3.3 2-3.6 2.2-4 2.9-4.6 3.2-4.6 4-5.1 4.8-5.2 5.7-5 6.4-4.7 8-4.5 9.7-4 11.2-3.2 12.9-2.4 14.4-1.6 16.1-1.1 16-.6 17.4-.4M103.3 748.0l0 0 .3-9.3 .2-6.4 .7-9.6 .8-5.1 .9-3.1 1.3-2.9 1.6-3.2 2-3.6 2.2-3.9 2.9-4.5 3.2-4.6 4-4.9 4.8-5.1 5.7-4.9 6.4-4.5 8-4.3 9.7-3.8 11.2-3 12.9-2.3 14.4-1.5 16.1-1 16-.5 17.4-.3M103.3 748.0l0 0 .3-16.7 .2-11.9 .7-18.1 .8-9.4 .9-4.9 1.3-3.8 1.6-3.7 2-4.2 2.2-4.5 2.9-5.3 3.2-5.3 4-5.9 4.8-6.2 5.7-6.1 6.4-5.7 8-5.6 9.7-5.1 11.2-4.2 12.9-3.2 14.4-2.4 16.1-1.6 16-.9 17.4-.6M103.3 748.0l0 0 .3-8.5 .2-6.4 .7-10.4 .8-6.3 .9-4 1.3-3.4 1.6-3.6 2-4 2.2-4.2 2.9-5 3.2-4.9 4-5.4 4.8-5.5 5.7-5.4 6.4-4.9 8-4.7 9.7-4.1 11.2-3.3 12.9-2.4 14.4-1.6 16.1-1.1 16-.6 17.4-.3M103.3 748.0l0 0 .3-9.9 .2-7 .7-10.8 .8-5.9 .9-3.6 1.3-3.3 1.6-3.5 2-3.9 2.2-4.3 2.9-5 3.2-4.9 4-5.5 4.8-5.5 5.7-5.4 6.4-5 8-4.8 9.7-4.1 11.2-3.4 12.9-2.5 14.4-1.7 16.1-1.1 16-.6 17.4-.4M103.3 748.0l0 0 .3-14.1 .2-9.7 .7-13.7 .8-6.7 .9-3.6 1.3-3.3 1.6-3.6 2-4.1 2.2-4.4 2.9-5.1 3.2-5.3 4-5.8 4.8-6 5.7-5.9 6.4-5.5 8-5.4 9.7-4.9 11.2-4.1 12.9-3.1 14.4-2.2 16.1-1.5 16-.9 17.4-.5M103.3 748.0l0 0 .3-7.1 .2-5.5 .7-9.5 .8-6.2 .9-4.1 1.3-3.5 1.6-3.4 2-3.8 2.2-4 2.9-4.7 3.2-4.7 4-5.1 4.8-5.3 5.7-5.2 6.4-4.8 8-4.7 9.7-4.1 11.2-3.3 12.9-2.5 14.4-1.8 16.1-1.1 16-.7 17.4-.4M103.3 748.0l0 0 .3-9.8 .2-7.4 .7-12.2 .8-7.5 .9-4.4 1.3-3.7 1.6-3.6 2-4 2.2-4.2 2.9-5 3.2-5 4-5.5 4.8-5.7 5.7-5.6 6.4-5.2 8-5 9.7-4.5 11.2-3.7 12.9-2.7 14.4-2 16.1-1.3 16-.7 17.4-.5M103.3 748.0l0 0 .3-15.9 .2-11.8 .7-18.9 .8-10.6 .9-5.7 1.3-4 1.6-3.7 2-4 2.2-4.2 2.9-5.1 3.2-5.1 4-5.6 4.8-5.9 5.7-5.7 6.4-5.4 8-5.4 9.7-4.8 11.2-4 12.9-3.1 14.4-2.2 16.1-1.5 16-.9 17.4-.6M103.3 748.0l0 0 .3-10.8 .2-7.7 .7-11.8 .8-6.3 .9-3.8 1.3-3.3 1.6-3.6 2-4 2.2-4.2 2.9-5 3.2-5 4-5.5 4.8-5.6 5.7-5.5 6.4-5 8-4.8 9.7-4.2 11.2-3.4 12.9-2.5 14.4-1.8 16.1-1.1 16-.6 17.4-.4M103.3 748.0l0 0 .3-12.3 .2-9.3 .7-15.4 .8-9.2 .9-5.4 1.3-4.2 1.6-4 2-4.3 2.2-4.6 2.9-5.4 3.2-5.4 4-5.9 4.8-6.2 5.7-5.9 6.4-5.5 8-5.4 9.7-4.8 11.2-3.8 12.9-2.9 14.4-2 16.1-1.4 16-.7 17.4-.5M103.3 748.0l0 0 .3-6.6 .2-5.2 .7-8.9 .8-5.9 .9-3.9 1.3-3.4 1.6-3.5 2-3.7 2.2-4.1 2.9-4.7 3.2-4.6 4-5.1 4.8-5.1 5.7-5 6.4-4.5 8-4.3 9.7-3.7 11.2-3 12.9-2.1 14.4-1.5 16.1-.9 16-.5 17.4-.3M103.3 748.0l0 0 .3-13.5 .2-10.1 .7-16.4 .8-9.5 .9-5.4 1.3-4 1.6-3.7 2-4.1 2.2-4.3 2.9-5.1 3.2-5.2 4-5.7 4.8-5.8 5.7-5.8 6.4-5.4 8-5.2 9.7-4.7 11.2-3.8 12.9-3 14.4-2 16.1-1.4 16-.8 17.4-.5M103.3 748.0l0 0 .3-13.1 .2-9.7 .7-15.7 .8-8.9 .9-5.1 1.3-4.1 1.6-4 2-4.3 2.2-4.7 2.9-5.5 3.2-5.5 4-6.1 4.8-6.3 5.7-6.2 6.4-5.8 8-5.6 9.7-5.1 11.2-4.1 12.9-3.2 14.4-2.2 16.1-1.5 16-.9 17.4-.5M103.3 748.0l0 0 .3-15.7 .2-11.2 .7-17 .8-8.9 .9-4.6 1.3-3.7 1.6-3.7 2-4.1 2.2-4.5 2.9-5.2 3.2-5.3 4-5.9 4.8-6.1 5.7-6 6.4-5.6 8-5.6 9.7-5 11.2-4.2 12.9-3.2 14.4-2.3 16.1-1.6 16-.9 17.4-.6M103.3 748.0l0 0 .3-13.4 .2-9.6 .7-14.5 .8-7.7 .9-4.4 1.3-3.6 1.6-3.8 2-4.3 2.2-4.6 2.9-5.4 3.2-5.4 4-6 4.8-6.2 5.7-6 6.4-5.6 8-5.4 9.7-4.9 11.2-3.9 12.9-3 14.4-2.1 16.1-1.4 16-.8 17.4-.5M103.3 748.0l0 0 .3-9.8 .2-7.1 .7-11.4 .8-6.5 .9-4 1.3-3.4 1.6-3.7 2-4 2.2-4.3 2.9-5 3.2-5.1 4-5.5 4.8-5.7 5.7-5.6 6.4-5.1 8-4.9 9.7-4.4 11.2-3.5 12.9-2.6 14.4-1.8 16.1-1.2 16-.6 17.4-.4M103.3 748.0l0 0 .3-12.3 .2-8.7 .7-13.1 .8-6.8 .9-3.9 1.3-3.4 1.6-3.6 2-4 2.2-4.3 2.9-5.2 3.2-5.1 4-5.6 4.8-5.9 5.7-5.7 6.4-5.3 8-5.2 9.7-4.6 11.2-3.7 12.9-2.9 14.4-2 16.1-1.3 16-.8 17.4-.4M103.3 748.0l0 0 .3-13.2 .2-10 .7-16.3 .8-9.5 .9-5.5 1.3-4.2 1.6-3.9 2-4.3 2.2-4.6 2.9-5.4 3.2-5.3 4-6 4.8-6.1 5.7-5.9 6.4-5.5 8-5.4 9.7-4.7 11.2-3.8 12.9-2.9 14.4-2 16.1-1.4 16-.7 17.4-.5M103.3 748.0l0 0 .3-7.2 .2-5.6 .7-9.8 .8-6.5 .9-4.2 1.3-3.5 1.6-3.4 2-3.7 2.2-3.9 2.9-4.7 3.2-4.6 4-5.2 4.8-5.2 5.7-5.1 6.4-4.8 8-4.6 9.7-4 11.2-3.3 12.9-2.5 14.4-1.7 16.1-1.1 16-.7 17.4-.4M103.3 748.0l0 0 .3-10.8 .2-7.4 .7-10.6 .8-5.3 .9-3.1 1.3-3 1.6-3.3 2-3.6 2.2-4 2.9-4.7 3.2-4.7 4-5.1 4.8-5.4 5.7-5.1 6.4-4.9 8-4.7 9.7-4.1 11.2-3.4 12.9-2.6 14.4-1.8 16.1-1.2 16-.6 17.4-.4M103.3 748.0l0 0 .3-11.5 .2-8.5 .7-13.7 .8-7.9 .9-4.6 1.3-3.8 1.6-3.8 2-4.1 2.2-4.4 2.9-5.2 3.2-5.2 4-5.7 4.8-5.9 5.7-5.6 6.4-5.3 8-5 9.7-4.4 11.2-3.5 12.9-2.7 14.4-1.8 16.1-1.2 16-.6 17.4-.4M103.3 748.0l0 0 .3-14 .2-10.7 .7-18.2 .8-11.2 .9-6.4 1.3-4.6 1.6-4.1 2-4.2 2.2-4.5 2.9-5.4 3.2-5.3 4-5.9 4.8-6.2 5.7-5.9 6.4-5.6 8-5.5 9.7-4.9 11.2-4.1 12.9-3.1 14.4-2.1 16.1-1.5 16-.9 17.4-.5" stroke="#138cc8" stroke-width="1.5" stroke-opacity=".8" fill="none" stroke-linejoin="round"/><path d="M104.5 742.3l.8-2 .9-1.8 1.3-2 1.6-2.4 2-2.6 2.2-2.8 2.9-3.3 3.2-3.2 4-3.4 4.8-3.5 5.7-3.2 6.4-3 8-2.7 9.7-2.3 11.2-1.8 12.9-1.2 14.4-.8 16.1-.5 16-.2 17.4-.2M104.5 746.1l.8-.9 .9-.9 1.3-1.1 1.6-1.2 2-1.4 2.2-1.5 2.9-1.8 3.2-1.6 4-1.9 4.8-1.8 5.7-1.6 6.4-1.5 8-1.4 9.7-1.1 11.2-.9 12.9-.5 14.4-.4 16.1-.2 16-.1 17.4-.1M104.5 743.9l.8-1.6 .9-1.5 1.3-1.8 1.6-2.1 2-2.4 2.2-2.5 2.9-2.9 3.2-2.9 4-3 4.8-3.1 5.7-2.9 6.4-2.6 8-2.4 9.7-2 11.2-1.5 12.9-1 14.4-.7 16.1-.4 16-.2 17.4-.1M104.5 744.8l.8-1.3 .9-1.3 1.3-1.6 1.6-1.9 2-2 2.2-2.2 2.9-2.6 3.2-2.5 4-2.6 4.8-2.7 5.7-2.5 6.4-2.2 8-2.1 9.7-1.7 11.2-1.3 12.9-.9 14.4-.6 16.1-.3 16-.2 17.4-.1M104.5 743.9l.8-1.6 .9-1.6 1.3-1.8 1.6-2.1 2-2.4 2.2-2.5 2.9-2.9 3.2-2.8 4-3.1 4.8-3.1 5.7-2.9 6.4-2.6 8-2.4 9.7-2 11.2-1.5 12.9-1.1 14.4-.7 16.1-.4 16-.2 17.4-.1M104.5 746.2l.8-.9 .9-.8 1.3-1.1 1.6-1.2 2-1.4 2.2-1.4 2.9-1.7 3.2-1.6 4-1.8 4.8-1.7 5.7-1.6 6.4-1.5 8-1.3 9.7-1.1 11.2-.8 12.9-.5 14.4-.4 16.1-.2 16-.1 17.4 0M104.5 746.1l.8-.8 .9-.9 1.3-1.1 1.6-1.2 2-1.4 2.2-1.4 2.9-1.7 3.2-1.7 4-1.8 4.8-1.7 5.7-1.7 6.4-1.4 8-1.4 9.7-1.1 11.2-.8 12.9-.6 14.4-.3 16.1-.2 16-.1 17.4-.1M104.5 745.8l.8-1 .9-1 1.3-1.3 1.6-1.4 2-1.6 2.2-1.7 2.9-1.9 3.2-1.9 4-2.1 4.8-2 5.7-1.9 6.4-1.7 8-1.5 9.7-1.3 11.2-1 12.9-.7 14.4-.4 16.1-.2 16-.1 17.4-.1M104.5 741.7l.8-2.2 .9-1.8 1.3-2.1 1.6-2.5 2-2.7 2.2-2.8 2.9-3.4 3.2-3.3 4-3.6 4.8-3.6 5.7-3.3 6.4-3.1 8-2.8 9.7-2.4 11.2-1.9 12.9-1.3 14.4-.8 16.1-.5 16-.3 17.4-.1M104.5 733.2l.8-3.9 .9-2.8 1.3-2.8 1.6-3 2-3.4 2.2-3.7 2.9-4.3 3.2-4.2 4-4.7 4.8-4.6 5.7-4.5 6.4-4.1 8-3.9 9.7-3.4 11.2-2.6 12.9-1.9 14.4-1.3 16.1-.8 16-.4 17.4-.3M104.5 722.4l.8-6.2 .9-3.7 1.3-3.3 1.6-3.5 2-3.8 2.2-4 2.9-4.8 3.2-4.8 4-5.2 4.8-5.4 5.7-5.2 6.4-4.7 8-4.6 9.7-4.1 11.2-3.2 12.9-2.4 14.4-1.7 16.1-1 16-.6 17.4-.4M104.5 706.9l.8-9.5 .9-5.3 1.3-4 1.6-3.8 2-4.2 2.2-4.5 2.9-5.4 3.2-5.3 4-5.9 4.8-6.1 5.7-6 6.4-5.6 8-5.5 9.7-4.9 11.2-4.1 12.9-3.1 14.4-2.2 16.1-1.4 16-.9 17.4-.5M104.5 718.1l.8-7 .9-4.2 1.3-3.5 1.6-3.6 2-3.9 2.2-4.2 2.9-5 3.2-5 4-5.4 4.8-5.7 5.7-5.4 6.4-5.1 8-4.9 9.7-4.3 11.2-3.5 12.9-2.6 14.4-1.8 16.1-1.2 16-.7 17.4-.4M104.5 736.1l.8-3.3 .9-2.5 1.3-2.6 1.6-2.9 2-3.3 2.2-3.5 2.9-4 3.2-4 4-4.4 4.8-4.4 5.7-4.2 6.4-3.8 8-3.6 9.7-3.1 11.2-2.4 12.9-1.7 14.4-1.2 16.1-.7 16-.4 17.4-.2M104.5 729.0l.8-4.8 .9-3.2 1.3-3 1.6-3.3 2-3.6 2.2-3.8 2.9-4.6 3.2-4.5 4-4.9 4.8-5 5.7-4.8 6.4-4.5 8-4.2 9.7-3.6 11.2-3 12.9-2.1 14.4-1.4 16.1-.9 16-.6 17.4-.2M104.5 739.0l.8-2.7 .9-2.2 1.3-2.3 1.6-2.7 2-3 2.2-3.2 2.9-3.8 3.2-3.7 4-4 4.8-4 5.7-3.8 6.4-3.5 8-3.2 9.7-2.8 11.2-2.1 12.9-1.5 14.4-1 16.1-.7 16-.3 17.4-.2M104.5 733.8l.8-3.8 .9-2.7 1.3-2.8 1.6-3 2-3.4 2.2-3.7 2.9-4.2 3.2-4.2 4-4.6 4.8-4.6 5.7-4.4 6.4-4.1 8-3.8 9.7-3.3 11.2-2.6 12.9-1.9 14.4-1.2 16.1-.8 16-.5 17.4-.2M104.5 733.2l.8-3.9 .9-2.8 1.3-2.8 1.6-3 2-3.4 2.2-3.7 2.9-4.3 3.2-4.2 4-4.7 4.8-4.6 5.7-4.5 6.4-4.1 8-3.9 9.7-3.4 11.2-2.6 12.9-1.9 14.4-1.3 16.1-.8 16-.4 17.4-.3M104.5 741.1l.8-2.3 .9-1.9 1.3-2.2 1.6-2.5 2-2.8 2.2-3 2.9-3.4 3.2-3.4 4-3.7 4.8-3.7 5.7-3.5 6.4-3.1 8-3 9.7-2.5 11.2-1.9 12.9-1.3 14.4-.9 16.1-.5 16-.3 17.4-.2" stroke="#fff" stroke-width=".7" stroke-opacity=".75" fill="none" stroke-linejoin="round"/></g><path d="M246.0 733.9l.3 .1 .7 .2 .9 .3 1.3 .4 1.9 .5 2.6 .6 3.5 .7 4.9 .7 6.4 .8 8 .7 9.7 .6 12.8 .5 16.1 .6 19.3 .5 24.1 .5 28.9 .5 32.1 .5 35.3 .4 40.2 .5 42.3 .3M246.0 728.3l.3 .2 .7 .3 .9 .5 1.3 .5 1.9 .8 2.6 .9 3.5 1 4.9 1 6.4 1.1 8 .8 9.7 .8 12.8 .7 16.1 .6 19.3 .6 24.1 .7 28.9 .7 32.1 .6 35.3 .6 40.2 .6 42.3 .5M246.0 730.8l.3 .2 .7 .2 .9 .3 1.3 .5 1.9 .6 2.6 .7 3.5 .8 4.9 1 6.4 1 8 .9 9.7 .8 12.8 .7 16.1 .7 19.3 .5 24.1 .5 28.9 .6 32.1 .5 35.3 .4 40.2 .4 42.3 .4M246.0 742.2l.3 0 .7 .1 .9 .1 1.3 .2 1.9 .2 2.6 .3 3.5 .3 4.9 .3 6.4 .3 8 .3 9.7 .3 12.8 .2 16.1 .2 19.3 .2 24.1 .2 28.9 .2 32.1 .2 35.3 .1 40.2 .2 42.3 .1M246.0 740.6l.3 .1 .7 .1 .9 .2 1.3 .3 1.9 .3 2.6 .4 3.5 .4 4.9 .4 6.4 .4 8 .4 9.7 .3 12.8 .2 16.1 .2 19.3 .2 24.1 .3 28.9 .2 32.1 .3 35.3 .2 40.2 .2 42.3 .1M246.0 728.8l.3 .2 .7 .3 .9 .4 1.3 .5 1.9 .8 2.6 .8 3.5 1 4.9 1.1 6.4 1.1 8 .9 9.7 .8 12.8 .7 16.1 .6 19.3 .6 24.1 .6 28.9 .5 32.1 .6 35.3 .5 40.2 .5 42.3 .4M246.0 746.7l.3 0 .7 0 .9 .1 1.3 0 1.9 0 2.6 .1 3.5 .1 4.9 0 6.4 .1 8 .1 9.7 0 12.8 .1 16.1 0 19.3 .1 24.1 0 28.9 .1 32.1 0 35.3 0 40.2 .1 42.3 0M246.0 729.9l.3 .1 .7 .2 .9 .4 1.3 .4 1.9 .5 2.6 .7 3.5 .8 4.9 .9 6.4 1 8 .9 9.7 .8 12.8 .8 16.1 .7 19.3 .7 24.1 .7 28.9 .7 32.1 .7 35.3 .6 40.2 .5 42.3 .5M246.0 730.4l.3 .2 .7 .2 .9 .4 1.3 .5 1.9 .7 2.6 .8 3.5 .9 4.9 1 6.4 .9 8 .9 9.7 .7 12.8 .6 16.1 .6 19.3 .5 24.1 .6 28.9 .6 32.1 .6 35.3 .5 40.2 .5 42.3 .5M246.0 737.2l.3 .1 .7 .1 .9 .2 1.3 .3 1.9 .4 2.6 .4 3.5 .6 4.9 .6 6.4 .6 8 .6 9.7 .5 12.8 .4 16.1 .4 19.3 .4 24.1 .3 28.9 .4 32.1 .3 35.3 .3 40.2 .3 42.3 .2M246.0 740.6l.3 0 .7 .2 .9 .2 1.3 .2 1.9 .3 2.6 .4 3.5 .4 4.9 .5 6.4 .4 8 .4 9.7 .2 12.8 .3 16.1 .2 19.3 .2 24.1 .2 28.9 .2 32.1 .2 35.3 .2 40.2 .2 42.3 .2M246.0 741.1l.3 .1 .7 .1 .9 .2 1.3 .2 1.9 .3 2.6 .4 3.5 .4 4.9 .4 6.4 .4 8 .3 9.7 .3 12.8 .2 16.1 .2 19.3 .1 24.1 .2 28.9 .3 32.1 .1 35.3 .2 40.2 .2 42.3 .1M246.0 741.6l.3 0 .7 .1 .9 .1 1.3 .2 1.9 .2 2.6 .2 3.5 .3 4.9 .4 6.4 .3 8 .4 9.7 .3 12.8 .3 16.1 .2 19.3 .2 24.1 .3 28.9 .2 32.1 .2 35.3 .2 40.2 .2 42.3 .2M246.0 737.7l.3 0 .7 .2 .9 .2 1.3 .3 1.9 .4 2.6 .4 3.5 .6 4.9 .6 6.4 .6 8 .5 9.7 .5 12.8 .4 16.1 .3 19.3 .3 24.1 .3 28.9 .4 32.1 .2 35.3 .3 40.2 .3 42.3 .2M246.0 736.4l.3 .1 .7 .1 .9 .2 1.3 .3 1.9 .3 2.6 .5 3.5 .5 4.9 .6 6.4 .6 8 .6 9.7 .5 12.8 .5 16.1 .5 19.3 .5 24.1 .4 28.9 .5 32.1 .4 35.3 .4 40.2 .4 42.3 .3M246.0 735.4l.3 .1 .7 .3 .9 .3 1.3 .3 1.9 .6 2.6 .6 3.5 .6 4.9 .7 6.4 .7 8 .6 9.7 .5 12.8 .4 16.1 .4 19.3 .4 24.1 .5 28.9 .5 32.1 .4 35.3 .4 40.2 .4 42.3 .3M246.0 726.3l.3 .2 .7 .3 .9 .5 1.3 .5 1.9 .8 2.6 1 3.5 1.1 4.9 1.2 6.4 1.2 8 1.2 9.7 .9 12.8 .9 16.1 .7 19.3 .7 24.1 .7 28.9 .7 32.1 .6 35.3 .6 40.2 .5 42.3 .5M246.0 730.5l.3 .1 .7 .3 .9 .3 1.3 .4 1.9 .6 2.6 .8 3.5 .8 4.9 1 6.4 1 8 .9 9.7 .7 12.8 .8 16.1 .6 19.3 .5 24.1 .6 28.9 .5 32.1 .5 35.3 .5 40.2 .4 42.3 .4M246.0 734.0l.3 .1 .7 .3 .9 .4 1.3 .4 1.9 .6 2.6 .7 3.5 .8 4.9 .8 6.4 .7 8 .6 9.7 .5 12.8 .5 16.1 .3 19.3 .4 24.1 .4 28.9 .4 32.1 .3 35.3 .4 40.2 .3 42.3 .3M246.0 726.5l.3 .1 .7 .3 .9 .4 1.3 .5 1.9 .7 2.6 .9 3.5 1 4.9 1.1 6.4 1.2 8 1.1 9.7 1 12.8 .8 16.1 .8 19.3 .8 24.1 .8 28.9 .7 32.1 .8 35.3 .6 40.2 .7 42.3 .5M246.0 742.4l.3 0 .7 .1 .9 .1 1.3 .1 1.9 .2 2.6 .2 3.5 .3 4.9 .3 6.4 .3 8 .3 9.7 .3 12.8 .3 16.1 .2 19.3 .2 24.1 .2 28.9 .2 32.1 .2 35.3 .1 40.2 .2 42.3 .1M246.0 743.5l.3 0 .7 .1 .9 .1 1.3 .1 1.9 .1 2.6 .2 3.5 .2 4.9 .2 6.4 .3 8 .2 9.7 .2 12.8 .2 16.1 .2 19.3 .1 24.1 .2 28.9 .2 32.1 .2 35.3 .1 40.2 .2 42.3 .1M246.0 734.2l.3 .1 .7 .2 .9 .3 1.3 .3 1.9 .5 2.6 .5 3.5 .7 4.9 .7 6.4 .8 8 .7 9.7 .6 12.8 .6 16.1 .5 19.3 .5 24.1 .5 28.9 .5 32.1 .5 35.3 .4 40.2 .4 42.3 .3M246.0 745.9l.3 0 .7 .1 .9 0 1.3 0 1.9 .1 2.6 .1 3.5 .1 4.9 .1 6.4 .1 8 .2 9.7 .1 12.8 0 16.1 .1 19.3 .1 24.1 .1 28.9 0 32.1 .1 35.3 .1 40.2 0 42.3 .1M246.0 746.1l.3 0 .7 0 .9 .1 1.3 0 1.9 .1 2.6 0 3.5 .1 4.9 .1 6.4 .1 8 .1 9.7 .1 12.8 .1 16.1 .1 19.3 .1 24.1 0 28.9 .1 32.1 .1 35.3 0 40.2 .1 42.3 0M246.0 736.2l.3 .1 .7 .1 .9 .3 1.3 .2 1.9 .4 2.6 .5 3.5 .5 4.9 .6 6.4 .7 8 .6 9.7 .5 12.8 .5 16.1 .5 19.3 .4 24.1 .4 28.9 .4 32.1 .4 35.3 .4 40.2 .4 42.3 .3M246.0 737.2l.3 .1 .7 .2 .9 .3 1.3 .4 1.9 .4 2.6 .6 3.5 .6 4.9 .6 6.4 .6 8 .5 9.7 .3 12.8 .4 16.1 .3 19.3 .3 24.1 .4 28.9 .3 32.1 .3 35.3 .3 40.2 .3 42.3 .3M246.0 733.9l.3 .1 .7 .2 .9 .3 1.3 .3 1.9 .5 2.6 .6 3.5 .7 4.9 .8 6.4 .8 8 .8 9.7 .6 12.8 .5 16.1 .5 19.3 .5 24.1 .5 28.9 .4 32.1 .4 35.3 .4 40.2 .4 42.3 .3M246.0 736.2l.3 .1 .7 .2 .9 .2 1.3 .3 1.9 .5 2.6 .4 3.5 .6 4.9 .6 6.4 .7 8 .5 9.7 .5 12.8 .5 16.1 .4 19.3 .4 24.1 .5 28.9 .4 32.1 .4 35.3 .4 40.2 .4 42.3 .3M246.0 736.6l.3 .1 .7 .1 .9 .3 1.3 .3 1.9 .4 2.6 .5 3.5 .6 4.9 .6 6.4 .7 8 .6 9.7 .6 12.8 .5 16.1 .4 19.3 .3 24.1 .4 28.9 .3 32.1 .4 35.3 .3 40.2 .2 42.3 .3M246.0 741.7l.3 .1 .7 .1 .9 .2 1.3 .2 1.9 .2 2.6 .3 3.5 .4 4.9 .4 6.4 .3 8 .3 9.7 .2 12.8 .2 16.1 .2 19.3 .2 24.1 .2 28.9 .3 32.1 .2 35.3 .1 40.2 .2 42.3 .2M246.0 746.6l.3 0 .7 0 .9 0 1.3 .1 1.9 0 2.6 .1 3.5 .1 4.9 .1 6.4 0 8 .1 9.7 .1 12.8 0 16.1 .1 19.3 0 24.1 .1 28.9 0 32.1 .1 35.3 0 40.2 0 42.3 .1M246.0 742.9l.3 0 .7 .1 .9 .1 1.3 .1 1.9 .2 2.6 .2 3.5 .3 4.9 .2 6.4 .3 8 .3 9.7 .2 12.8 .2 16.1 .1 19.3 .2 24.1 .2 28.9 .2 32.1 .2 35.3 .2 40.2 .2 42.3 .1M246.0 732.6l.3 .1 .7 .2 .9 .4 1.3 .4 1.9 .7 2.6 .7 3.5 .8 4.9 .9 6.4 .9 8 .8 9.7 .6 12.8 .6 16.1 .5 19.3 .5 24.1 .5 28.9 .4 32.1 .5 35.3 .4 40.2 .4 42.3 .4M246.0 742.7l.3 0 .7 .1 .9 .1 1.3 .1 1.9 .2 2.6 .2 3.5 .3 4.9 .3 6.4 .3 8 .2 9.7 .3 12.8 .2 16.1 .2 19.3 .2 24.1 .2 28.9 .1 32.1 .2 35.3 .2 40.2 .2 42.3 .1M246.0 739.2l.3 .1 .7 .1 .9 .1 1.3 .2 1.9 .3 2.6 .3 3.5 .4 4.9 .4 6.4 .5 8 .5 9.7 .4 12.8 .3 16.1 .4 19.3 .3 24.1 .4 28.9 .3 32.1 .3 35.3 .3 40.2 .3 42.3 .2M246.0 746.7l.3 0 .7 .1 .9 0 1.3 0 1.9 .1 2.6 0 3.5 .1 4.9 0 6.4 .1 8 .1 9.7 0 12.8 .1 16.1 0 19.3 .1 24.1 0 28.9 .1 32.1 0 35.3 .1 40.2 0 42.3 0M246.0 729.7l.3 .2 .7 .3 .9 .4 1.3 .5 1.9 .7 2.6 .8 3.5 1 4.9 1 6.4 1.1 8 .9 9.7 .8 12.8 .7 16.1 .6 19.3 .6 24.1 .6 28.9 .6 32.1 .6 35.3 .5 40.2 .5 42.3 .4M246.0 743.6l.3 .1 .7 0 .9 .1 1.3 .2 1.9 .2 2.6 .2 3.5 .2 4.9 .2 6.4 .3 8 .2 9.7 .2 12.8 .2 16.1 .1 19.3 .1 24.1 .2 28.9 .1 32.1 .1 35.3 .2 40.2 .1 42.3 .1M246.0 718.3l.3 .2 .7 .4 .9 .6 1.3 .7 1.9 1 2.6 1.2 3.5 1.4 4.9 1.6 6.4 1.6 8 1.4 9.7 1.3 12.8 1.2 16.1 1 19.3 1 24.1 1 28.9 1.1 32.1 .9 35.3 .9 40.2 .8 42.3 .8M246.0 700.1l.3 .5 .7 .9 .9 1.2 1.3 1.6 1.9 2.1 2.6 2.4 3.5 2.7 4.9 2.7 6.4 2.6 8 2 9.7 1.6 12.8 1.4 16.1 1.2 19.3 1.2 24.1 1.2 28.9 1.3 32.1 1.2 35.3 1.1 40.2 1 42.3 .9M246.0 711.1l.3 .3 .7 .6 .9 .8 1.3 1.1 1.9 1.4 2.6 1.6 3.5 1.9 4.9 2 6.4 1.9 8 1.6 9.7 1.4 12.8 1.3 16.1 1.1 19.3 1.2 24.1 1.2 28.9 1.3 32.1 1.2 35.3 1.1 40.2 1 42.3 .9M246.0 701.1l.3 .3 .7 .7 .9 .9 1.3 1.2 1.9 1.6 2.6 1.9 3.5 2.2 4.9 2.4 6.4 2.4 8 2.1 9.7 1.8 12.8 1.6 16.1 1.5 19.3 1.4 24.1 1.4 28.9 1.5 32.1 1.4 35.3 1.3 40.2 1.2 42.3 1M246.0 704.2l.3 .4 .7 .8 .9 1.1 1.3 1.3 1.9 1.8 2.6 2.1 3.5 2.3 4.9 2.4 6.4 2.2 8 1.9 9.7 1.5 12.8 1.3 16.1 1.2 19.3 1.2 24.1 1.3 28.9 1.3 32.1 1.2 35.3 1.2 40.2 1 42.3 .9M246.0 723.5l.3 .2 .7 .3 .9 .5 1.3 .7 1.9 .9 2.6 1 3.5 1.3 4.9 1.4 6.4 1.5 8 1.3 9.7 1.2 12.8 1 16.1 .9 19.3 .9 24.1 .7 28.9 .8 32.1 .8 35.3 .6 40.2 .7 42.3 .5M246.0 711.2l.3 .2 .7 .5 .9 .7 1.3 .9 1.9 1.3 2.6 1.5 3.5 1.9 4.9 2 6.4 2.2 8 2 9.7 1.7 12.8 1.6 16.1 1.4 19.3 1.3 24.1 1.2 28.9 1.1 32.1 1.1 35.3 1.1 40.2 .9 42.3 .8M246.0 700.4l.3 .3 .7 .7 .9 1.1 1.3 1.2 1.9 1.8 2.6 2 3.5 2.4 4.9 2.7 6.4 2.6 8 2.3 9.7 1.9 12.8 1.6 16.1 1.4 19.3 1.1 24.1 1.2 28.9 1.1 32.1 1.1 35.3 .9 40.2 1 42.3 .7M246.0 724.5l.3 .2 .7 .3 .9 .6 1.3 .6 1.9 .9 2.6 1.1 3.5 1.2 4.9 1.3 6.4 1.3 8 1.2 9.7 .9 12.8 .9 16.1 .7 19.3 .7 24.1 .8 28.9 .7 32.1 .7 35.3 .7 40.2 .6 42.3 .5M246.0 714.7l.3 .3 .7 .5 .9 .7 1.3 .8 1.9 1.2 2.6 1.4 3.5 1.5 4.9 1.7 6.4 1.6 8 1.5 9.7 1.2 12.8 1.1 16.1 1.1 19.3 1.1 24.1 1.2 28.9 1.2 32.1 1.2 35.3 1.1 40.2 1 42.3 .8M246.0 702.0l.3 .3 .7 .7 .9 1 1.3 1.2 1.9 1.7 2.6 2 3.5 2.3 4.9 2.6 6.4 2.6 8 2.3 9.7 2 12.8 1.8 16.1 1.5 19.3 1.4 24.1 1.4 28.9 1.4 32.1 1.2 35.3 1.2 40.2 1.1 42.3 1M246.0 697.2l.3 .4 .7 .7 .9 1.1 1.3 1.4 1.9 1.8 2.6 2.1 3.5 2.3 4.9 2.6 6.4 2.4 8 2.1 9.7 1.7 12.8 1.7 16.1 1.5 19.3 1.5 24.1 1.6 28.9 1.6 32.1 1.6 35.3 1.5 40.2 1.3 42.3 1.2M246.0 706.2l.3 .3 .7 .7 .9 1.1 1.3 1.2 1.9 1.8 2.6 2 3.5 2.2 4.9 2.5 6.4 2.3 8 2 9.7 1.6 12.8 1.4 16.1 1.2 19.3 1.2 24.1 1.2 28.9 1.2 32.1 1.1 35.3 1.1 40.2 1 42.3 .9M246.0 713.2l.3 .3 .7 .6 .9 .8 1.3 1.1 1.9 1.4 2.6 1.6 3.5 1.8 4.9 1.9 6.4 1.7 8 1.5 9.7 1.2 12.8 1.1 16.1 1.1 19.3 1 24.1 1.1 28.9 1.1 32.1 1.1 35.3 1 40.2 .9 42.3 .8M246.0 719.1l.3 .2 .7 .5 .9 .6 1.3 .8 1.9 1 2.6 1.3 3.5 1.5 4.9 1.6 6.4 1.6 8 1.5 9.7 1.2 12.8 1.2 16.1 1 19.3 .9 24.1 .9 28.9 .9 32.1 .9 35.3 .8 40.2 .8 42.3 .6M246.0 714.3l.3 .2 .7 .4 .9 .6 1.3 .8 1.9 1.1 2.6 1.2 3.5 1.6 4.9 1.7 6.4 1.7 8 1.7 9.7 1.4 12.8 1.4 16.1 1.3 19.3 1.1 24.1 1.2 28.9 1.2 32.1 1.2 35.3 1 40.2 1 42.3 .8M246.0 723.4l.3 .2 .7 .4 .9 .5 1.3 .7 1.9 1 2.6 1.1 3.5 1.3 4.9 1.3 6.4 1.4 8 1.2 9.7 1 12.8 .9 16.1 .8 19.3 .8 24.1 .8 28.9 .8 32.1 .7 35.3 .7 40.2 .7 42.3 .5M246.0 697.5l.3 .4 .7 .8 .9 1.2 1.3 1.4 1.9 2 2.6 2.2 3.5 2.6 4.9 2.7 6.4 2.7 8 2.3 9.7 1.8 12.8 1.6 16.1 1.5 19.3 1.3 24.1 1.4 28.9 1.4 32.1 1.3 35.3 1.3 40.2 1.1 42.3 1M246.0 719.8l.3 .3 .7 .4 .9 .7 1.3 .8 1.9 1.1 2.6 1.2 3.5 1.4 4.9 1.4 6.4 1.4 8 1.3 9.7 .9 12.8 1 16.1 .8 19.3 .9 24.1 .9 28.9 1 32.1 .9 35.3 .9 40.2 .8 42.3 .7M246.0 706.3l.3 .3 .7 .7 .9 .9 1.3 1.2 1.9 1.5 2.6 1.9 3.5 2.1 4.9 2.2 6.4 2.1 8 1.9 9.7 1.6 12.8 1.4 16.1 1.4 19.3 1.2 24.1 1.4 28.9 1.4 32.1 1.4 35.3 1.2 40.2 1.2 42.3 1M246.0 717.3l.3 .3 .7 .5 .9 .7 1.3 1 1.9 1.2 2.6 1.4 3.5 1.6 4.9 1.6 6.4 1.6 8 1.3 9.7 1.1 12.8 1 16.1 .9 19.3 .9 24.1 1 28.9 1 32.1 .9 35.3 .9 40.2 .8 42.3 .7M246.0 700.3l.3 .3 .7 .7 .9 .9 1.3 1.2 1.9 1.6 2.6 1.9 3.5 2.3 4.9 2.6 6.4 2.7 8 2.4 9.7 2 12.8 1.9 16.1 1.5 19.3 1.4 24.1 1.3 28.9 1.3 32.1 1.2 35.3 1.1 40.2 1.1 42.3 .9M246.0 706.6l.3 .3 .7 .5 .9 .9 1.3 1 1.9 1.4 2.6 1.6 3.5 1.9 4.9 2 6.4 2 8 1.8 9.7 1.5 12.8 1.5 16.1 1.4 19.3 1.3 24.1 1.5 28.9 1.5 32.1 1.4 35.3 1.4 40.2 1.2 42.3 1M246.0 701.1l.3 .4 .7 .8 .9 1.1 1.3 1.3 1.9 1.7 2.6 2.1 3.5 2.2 4.9 2.4 6.4 2.3 8 1.9 9.7 1.6 12.8 1.4 16.1 1.4 19.3 1.4 24.1 1.5 28.9 1.5 32.1 1.4 35.3 1.4 40.2 1.2 42.3 1.1M246.0 698.2l.3 .4 .7 .7 .9 1.1 1.3 1.3 1.9 1.9 2.6 2.2 3.5 2.5 4.9 2.8 6.4 2.8 8 2.4 9.7 2 12.8 1.8 16.1 1.4 19.3 1.3 24.1 1.3 28.9 1.3 32.1 1.2 35.3 1.1 40.2 1.1 42.3 .9M246.0 699.4l.3 .3 .7 .7 .9 .9 1.3 1.1 1.9 1.6 2.6 1.9 3.5 2.2 4.9 2.5 6.4 2.6 8 2.4 9.7 2 12.8 1.9 16.1 1.6 19.3 1.5 24.1 1.4 28.9 1.5 32.1 1.4 35.3 1.2 40.2 1.2 42.3 1M246.0 698.7l.3 .3 .7 .6 .9 .9 1.3 1.1 1.9 1.5 2.6 1.8 3.5 2.1 4.9 2.3 6.4 2.4 8 2.2 9.7 1.9 12.8 1.8 16.1 1.6 19.3 1.5 24.1 1.5 28.9 1.6 32.1 1.5 35.3 1.3 40.2 1.3 42.3 1.1M246.0 666.8l.3 .5 .7 .9 .9 1.3 1.3 1.5 1.9 2 2.6 2.1 3.5 2.2 4.9 2.2 6.4 1.8 8 1.5 9.7 1.2 12.8 1.3 16.1 1.3 19.3 1.5 24.1 1.8 28.9 1.8 32.1 1.9 35.3 1.8 40.2 1.7 42.3 1.6M246.0 675.0l.3 .3 .7 .7 .9 1 1.3 1.3 1.9 1.6 2.6 2 3.5 2.2 4.9 2.3 6.4 2.3 8 2 9.7 1.7 12.8 1.7 16.1 1.6 19.3 1.7 24.1 1.9 28.9 2.1 32.1 1.9 35.3 1.9 40.2 1.9 42.3 1.6M246.0 682.7l.3 .4 .7 .8 .9 1.1 1.3 1.5 1.9 1.9 2.6 2.2 3.5 2.6 4.9 2.8 6.4 2.8 8 2.4 9.7 2 12.8 1.8 16.1 1.5 19.3 1.5 24.1 1.5 28.9 1.5 32.1 1.5 35.3 1.5 40.2 1.3 42.3 1.2M246.0 688.5l.3 .5 .7 1.1 .9 1.4 1.3 1.8 1.9 2.3 2.6 2.7 3.5 2.9 4.9 2.9 6.4 2.6 8 2.1 9.7 1.6 12.8 1.4 16.1 1.3 19.3 1.3 24.1 1.4 28.9 1.5 32.1 1.4 35.3 1.4 40.2 1.2 42.3 1.1M246.0 667.1l.3 .5 .7 1 .9 1.3 1.3 1.6 1.9 2.1 2.6 2.2 3.5 2.2 4.9 2.1 6.4 1.8 8 1.4 9.7 1.2 12.8 1.2 16.1 1.4 19.3 1.5 24.1 1.7 28.9 1.9 32.1 1.9 35.3 1.7 40.2 1.8 42.3 1.6M246.0 680.8l.3 .5 .7 1 .9 1.4 1.3 1.7 1.9 2.2 2.6 2.5 3.5 2.8 4.9 2.8 6.4 2.6 8 2 9.7 1.7 12.8 1.5 16.1 1.4 19.3 1.5 24.1 1.6 28.9 1.7 32.1 1.7 35.3 1.6 40.2 1.5 42.3 1.3M246.0 685.7l.3 .4 .7 .8 .9 1 1.3 1.4 1.9 1.8 2.6 2.2 3.5 2.5 4.9 2.6 6.4 2.6 8 2.4 9.7 1.9 12.8 1.7 16.1 1.7 19.3 1.5 24.1 1.7 28.9 1.8 32.1 1.7 35.3 1.6 40.2 1.5 42.3 1.3M246.0 671.3l.3 .4 .7 .9 .9 1.2 1.3 1.4 1.9 1.9 2.6 2.1 3.5 2.2 4.9 2.2 6.4 1.9 8 1.7 9.7 1.4 12.8 1.5 16.1 1.6 19.3 1.7 24.1 2 28.9 2.2 32.1 2.2 35.3 2 40.2 2 42.3 1.8M246.0 692.4l.3 .5 .7 .8 .9 1.2 1.3 1.5 1.9 1.9 2.6 2.3 3.5 2.4 4.9 2.6 6.4 2.3 8 2 9.7 1.6 12.8 1.4 16.1 1.4 19.3 1.3 24.1 1.5 28.9 1.6 32.1 1.5 35.3 1.4 40.2 1.3 42.3 1.2M246.0 664.0l.3 .5 .7 1 .9 1.3 1.3 1.6 1.9 2.1 2.6 2.2 3.5 2.3 4.9 2.2 6.4 1.9 8 1.6 9.7 1.3 12.8 1.3 16.1 1.4 19.3 1.6 24.1 1.8 28.9 2 32.1 2 35.3 1.9 40.2 1.8 42.3 1.7M246.0 674.4l.3 .5 .7 .9 .9 1.3 1.3 1.6 1.9 2 2.6 2.3 3.5 2.3 4.9 2.3 6.4 2.1 8 1.7 9.7 1.4 12.8 1.4 16.1 1.5 19.3 1.6 24.1 1.8 28.9 1.9 32.1 2 35.3 1.8 40.2 1.8 42.3 1.6M246.0 682.1l.3 .5 .7 .9 .9 1.2 1.3 1.6 1.9 2.1 2.6 2.3 3.5 2.7 4.9 2.8 6.4 2.6 8 2.2 9.7 1.7 12.8 1.6 16.1 1.4 19.3 1.5 24.1 1.6 28.9 1.6 32.1 1.6 35.3 1.6 40.2 1.5 42.3 1.2M246.0 667.2l.3 .6 .7 1.1 .9 1.6 1.3 1.9 1.9 2.3 2.6 2.6 3.5 2.5 4.9 2.4 6.4 2 8 1.6 9.7 1.4 12.8 1.4 16.1 1.6 19.3 1.7 24.1 2 28.9 2.2 32.1 2.1 35.3 2.1 40.2 2 42.3 1.8M246.0 685.0l.3 .4 .7 .9 .9 1.2 1.3 1.6 1.9 2.1 2.6 2.4 3.5 2.8 4.9 2.9 6.4 2.9 8 2.4 9.7 2 12.8 1.8 16.1 1.6 19.3 1.5 24.1 1.6 28.9 1.7 32.1 1.6 35.3 1.6 40.2 1.4 42.3 1.3M246.0 676.7l.3 .4 .7 .9 .9 1.2 1.3 1.6 1.9 2 2.6 2.4 3.5 2.6 4.9 2.8 6.4 2.6 8 2.3 9.7 1.9 12.8 1.7 16.1 1.7 19.3 1.8 24.1 1.9 28.9 2 32.1 2 35.3 1.9 40.2 1.8 42.3 1.7M246.0 673.5l.3 .5 .7 .8 .9 1.1 1.3 1.5 1.9 1.9 2.6 2.2 3.5 2.5 4.9 2.6 6.4 2.5 8 2 9.7 1.7 12.8 1.5 16.1 1.3 19.3 1.4 24.1 1.5 28.9 1.5 32.1 1.6 35.3 1.5 40.2 1.4 42.3 1.3M246.0 684.6l.3 .5 .7 .9 .9 1.4 1.3 1.6 1.9 2.3 2.6 2.5 3.5 2.8 4.9 2.9 6.4 2.7 8 2.2 9.7 1.7 12.8 1.5 16.1 1.3 19.3 1.3 24.1 1.4 28.9 1.5 32.1 1.4 35.3 1.4 40.2 1.2 42.3 1.2M246.0 679.1l.3 .4 .7 .9 .9 1.2 1.3 1.5 1.9 2 2.6 2.3 3.5 2.5 4.9 2.6 6.4 2.5 8 2 9.7 1.7 12.8 1.6 16.1 1.5 19.3 1.6 24.1 1.7 28.9 1.9 32.1 1.8 35.3 1.8 40.2 1.6 42.3 1.5M246.0 670.8l.3 .5 .7 .9 .9 1.3 1.3 1.5 1.9 2.1 2.6 2.3 3.5 2.5 4.9 2.5 6.4 2.3 8 1.9 9.7 1.5 12.8 1.4 16.1 1.4 19.3 1.5 24.1 1.6 28.9 1.8 32.1 1.8 35.3 1.7 40.2 1.7 42.3 1.5M246.0 666.0l.3 .4 .7 .9 .9 1.2 1.3 1.5 1.9 1.9 2.6 2.1 3.5 2.1 4.9 2.1 6.4 1.8 8 1.6 9.7 1.3 12.8 1.4 16.1 1.5 19.3 1.7 24.1 1.9 28.9 2.1 32.1 2.1 35.3 2 40.2 2 42.3 1.7M246.0 691.5l.3 .4 .7 .8 .9 1.2 1.3 1.4 1.9 1.9 2.6 2.2 3.5 2.4 4.9 2.6 6.4 2.4 8 2 9.7 1.7 12.8 1.6 16.1 1.5 19.3 1.6 24.1 1.7 28.9 1.8 32.1 1.7 35.3 1.6 40.2 1.5 42.3 1.3M246.0 665.1l.3 .5 .7 .8 .9 1.1 1.3 1.3 1.9 1.8 2.6 1.9 3.5 2 4.9 2 6.4 1.9 8 1.6 9.7 1.4 12.8 1.5 16.1 1.7 19.3 1.9 24.1 2.2 28.9 2.4 32.1 2.3 35.3 2.3 40.2 2.2 42.3 2M246.0 696.4l.3 .4 .7 .8 .9 1.2 1.3 1.5 1.9 2 2.6 2.3 3.5 2.6 4.9 2.7 6.4 2.6 8 2.2 9.7 1.8 12.8 1.6 16.1 1.5 19.3 1.3 24.1 1.5 28.9 1.5 32.1 1.5 35.3 1.3 40.2 1.2 42.3 1.1M246.0 671.2l.3 .5 .7 .9 .9 1.3 1.3 1.6 1.9 2 2.6 2.2 3.5 2.3 4.9 2.3 6.4 2 8 1.7 9.7 1.5 12.8 1.5 16.1 1.7 19.3 1.8 24.1 2 28.9 2.2 32.1 2.2 35.3 2.1 40.2 2.1 42.3 1.8M246.0 669.3l.3 .6 .7 1.2 .9 1.6 1.3 1.9 1.9 2.4 2.6 2.6 3.5 2.6 4.9 2.4 6.4 2 8 1.6 9.7 1.2 12.8 1.2 16.1 1.4 19.3 1.4 24.1 1.7 28.9 1.8 32.1 1.8 35.3 1.8 40.2 1.7 42.3 1.5M246.0 691.9l.3 .5 .7 .9 .9 1.2 1.3 1.6 1.9 2 2.6 2.3 3.5 2.6 4.9 2.6 6.4 2.4 8 2.1 9.7 1.6 12.8 1.6 16.1 1.5 19.3 1.5 24.1 1.7 28.9 1.7 32.1 1.7 35.3 1.6 40.2 1.4 42.3 1.3M246.0 682.5l.3 .4 .7 1 .9 1.3 1.3 1.6 1.9 2.1 2.6 2.3 3.5 2.6 4.9 2.5 6.4 2.3 8 1.9 9.7 1.5 12.8 1.4 16.1 1.5 19.3 1.5 24.1 1.8 28.9 1.8 32.1 1.8 35.3 1.7 40.2 1.6 42.3 1.4M246.0 669.1l.3 .6 .7 1.1 .9 1.5 1.3 1.8 1.9 2.3 2.6 2.4 3.5 2.4 4.9 2.2 6.4 1.8 8 1.3 9.7 1 12.8 1.1 16.1 1.1 19.3 1.2 24.1 1.4 28.9 1.5 32.1 1.5 35.3 1.5 40.2 1.4 42.3 1.3M246.0 675.4l.3 .4 .7 .9 .9 1.1 1.3 1.5 1.9 1.8 2.6 2.2 3.5 2.3 4.9 2.3 6.4 2.2 8 1.8 9.7 1.6 12.8 1.6 16.1 1.7 19.3 1.7 24.1 2 28.9 2.2 32.1 2.1 35.3 2 40.2 2 42.3 1.8M246.0 669.9l.3 .5 .7 1.1 .9 1.4 1.3 1.8 1.9 2.2 2.6 2.4 3.5 2.5 4.9 2.3 6.4 1.9 8 1.6 9.7 1.2 12.8 1.3 16.1 1.4 19.3 1.5 24.1 1.8 28.9 1.8 32.1 1.9 35.3 1.8 40.2 1.7 42.3 1.6M246.0 679.3l.3 .3 .7 .7 .9 1 1.3 1.3 1.9 1.6 2.6 2 3.5 2.2 4.9 2.4 6.4 2.4 8 2.1 9.7 1.8 12.8 1.8 16.1 1.7 19.3 1.7 24.1 1.9 28.9 2.1 32.1 1.9 35.3 1.9 40.2 1.8 42.3 1.6M246.0 672.1l.3 .4 .7 .8 .9 1.2 1.3 1.3 1.9 1.9 2.6 2 3.5 2.3 4.9 2.3 6.4 2.2 8 1.8 9.7 1.6 12.8 1.5 16.1 1.5 19.3 1.6 24.1 1.8 28.9 2 32.1 1.9 35.3 1.8 40.2 1.8 42.3 1.6M246.0 688.9l.3 .3 .7 .7 .9 .8 1.3 1.2 1.9 1.5 2.6 1.8 3.5 2.2 4.9 2.5 6.4 2.5 8 2.3 9.7 2.1 12.8 2 16.1 2 19.3 1.8 24.1 2 28.9 2 32.1 1.9 35.3 1.8 40.2 1.8 42.3 1.5M246.0 689.9l.3 .4 .7 .9 .9 1.2 1.3 1.5 1.9 2 2.6 2.4 3.5 2.7 4.9 2.9 6.4 2.7 8 2.4 9.7 2 12.8 1.7 16.1 1.5 19.3 1.5 24.1 1.5 28.9 1.6 32.1 1.5 35.3 1.4 40.2 1.4 42.3 1.1M246.0 690.5l.3 .3 .7 .7 .9 .9 1.3 1.2 1.9 1.6 2.6 1.9 3.5 2.3 4.9 2.5 6.4 2.6 8 2.4 9.7 2 12.8 2 16.1 1.8 19.3 1.6 24.1 1.8 28.9 1.8 32.1 1.7 35.3 1.6 40.2 1.5 42.3 1.3M246.0 684.9l.3 .5 .7 .9 .9 1.2 1.3 1.6 1.9 2 2.6 2.4 3.5 2.5 4.9 2.6 6.4 2.5 8 1.9 9.7 1.6 12.8 1.5 16.1 1.4 19.3 1.4 24.1 1.5 28.9 1.7 32.1 1.6 35.3 1.5 40.2 1.4 42.3 1.3M246.0 664.6l.3 .5 .7 .9 .9 1.3 1.3 1.4 1.9 1.9 2.6 2.1 3.5 2.1 4.9 2 6.4 1.7 8 1.5 9.7 1.2 12.8 1.3 16.1 1.5 19.3 1.6 24.1 1.8 28.9 2 32.1 2 35.3 1.9 40.2 1.9 42.3 1.7M246.0 685.1l.3 .5 .7 .9 .9 1.2 1.3 1.6 1.9 2.1 2.6 2.4 3.5 2.8 4.9 2.9 6.4 2.8 8 2.4 9.7 1.8 12.8 1.6 16.1 1.4 19.3 1.2 24.1 1.4 28.9 1.4 32.1 1.4 35.3 1.2 40.2 1.3 42.3 1M246.0 687.4l.3 .4 .7 .8 .9 1.1 1.3 1.4 1.9 1.9 2.6 2.2 3.5 2.6 4.9 2.9 6.4 2.9 8 2.6 9.7 2.1 12.8 1.9 16.1 1.6 19.3 1.5 24.1 1.5 28.9 1.5 32.1 1.4 35.3 1.3 40.2 1.3 42.3 1.1M246.0 664.5l.3 .5 .7 1 .9 1.4 1.3 1.6 1.9 2 2.6 2.2 3.5 2.2 4.9 2 6.4 1.8 8 1.3 9.7 1.2 12.8 1.2 16.1 1.3 19.3 1.4 24.1 1.7 28.9 1.8 32.1 1.8 35.3 1.7 40.2 1.8 42.3 1.5M246.0 681.6l.3 .4 .7 .7 .9 1 1.3 1.3 1.9 1.8 2.6 2 3.5 2.4 4.9 2.7 6.4 2.6 8 2.4 9.7 2 12.8 1.9 16.1 1.7 19.3 1.7 24.1 1.8 28.9 1.8 32.1 1.8 35.3 1.8 40.2 1.6 42.3 1.5M246.0 663.6l.3 .4 .7 .9 .9 1.1 1.3 1.4 1.9 1.8 2.6 1.9 3.5 2 4.9 1.9 6.4 1.7 8 1.5 9.7 1.3 12.8 1.5 16.1 1.6 19.3 1.9 24.1 2.1 28.9 2.4 32.1 2.3 35.3 2.2 40.2 2.3 42.3 2M246.0 679.2l.3 .4 .7 .8 .9 1 1.3 1.4 1.9 1.8 2.6 2.1 3.5 2.3 4.9 2.5 6.4 2.4 8 2.1 9.7 1.7 12.8 1.6 16.1 1.5 19.3 1.6 24.1 1.7 28.9 1.8 32.1 1.7 35.3 1.7 40.2 1.6 42.3 1.5M246.0 679.0l.3 .4 .7 .8 .9 1 1.3 1.4 1.9 1.8 2.6 2.1 3.5 2.5 4.9 2.6 6.4 2.6 8 2.3 9.7 1.9 12.8 1.8 16.1 1.7 19.3 1.8 24.1 1.8 28.9 2 32.1 1.9 35.3 1.8 40.2 1.8 42.3 1.5M246.0 666.4l.3 .4 .7 .8 .9 1.2 1.3 1.4 1.9 1.8 2.6 2 3.5 2.3 4.9 2.2 6.4 2.1 8 1.7 9.7 1.5 12.8 1.6 16.1 1.7 19.3 1.8 24.1 2.1 28.9 2.2 32.1 2.3 35.3 2.1 40.2 2.2 42.3 1.9M246.0 630.7l.3 .6 .7 1.1 .9 1.4 1.3 1.6 1.9 1.9 2.6 1.8 3.5 1.7 4.9 1.5 6.4 1.4 8 1.2 9.7 1.3 12.8 1.6 16.1 2 19.3 2.2 24.1 2.6 28.9 2.8 32.1 3 35.3 2.9 40.2 3 42.3 2.8M246.0 639.3l.3 .4 .7 1 .9 1.2 1.3 1.5 1.9 1.9 2.6 2 3.5 2.1 4.9 2 6.4 1.7 8 1.5 9.7 1.3 12.8 1.5 16.1 1.6 19.3 1.9 24.1 2.3 28.9 2.4 32.1 2.5 35.3 2.5 40.2 2.5 42.3 2.3M246.0 614.2l.3 .8 .7 1.3 .9 1.6 1.3 1.7 1.9 1.9 2.6 1.7 3.5 1.4 4.9 1.3 6.4 1.4 8 1.4 9.7 1.8 12.8 2.2 16.1 2.7 19.3 3.1 24.1 3.7 28.9 4.2 32.1 4.3 35.3 4.5 40.2 4.6 42.3 4.4M246.0 640.1l.3 .5 .7 .9 .9 1.3 1.3 1.4 1.9 1.8 2.6 1.9 3.5 1.8 4.9 1.7 6.4 1.5 8 1.3 9.7 1.3 12.8 1.5 16.1 1.7 19.3 2 24.1 2.3 28.9 2.6 32.1 2.6 35.3 2.6 40.2 2.6 42.3 2.4M246.0 611.8l.3 .7 .7 1.3 .9 1.5 1.3 1.7 1.9 1.7 2.6 1.4 3.5 1.3 4.9 1.1 6.4 1.1 8 1.3 9.7 1.6 12.8 1.9 16.1 2.4 19.3 2.8 24.1 3.3 28.9 3.7 32.1 3.9 35.3 3.9 40.2 4.1 42.3 4M246.0 639.1l.3 .5 .7 1.1 .9 1.5 1.3 1.6 1.9 2.1 2.6 2 3.5 2 4.9 1.8 6.4 1.5 8 1.3 9.7 1.3 12.8 1.5 16.1 1.8 19.3 2.1 24.1 2.3 28.9 2.7 32.1 2.6 35.3 2.7 40.2 2.7 42.3 2.5M246.0 634.1l.3 .6 .7 1 .9 1.4 1.3 1.5 1.9 1.9 2.6 2 3.5 1.8 4.9 1.7 6.4 1.4 8 1.4 9.7 1.3 12.8 1.6 16.1 2 19.3 2.2 24.1 2.6 28.9 2.8 32.1 3 35.3 2.9 40.2 2.9 42.3 2.8M246.0 610.2l.3 .6 .7 1.2 .9 1.4 1.3 1.5 1.9 1.7 2.6 1.4 3.5 1.3 4.9 1.1 6.4 1.1 8 1.3 9.7 1.5 12.8 1.9 16.1 2.4 19.3 2.7 24.1 3.2 28.9 3.7 32.1 3.8 35.3 3.9 40.2 4 42.3 4M246.0 649.0l.3 .4 .7 .7 .9 1.1 1.3 1.3 1.9 1.6 2.6 1.8 3.5 2 4.9 1.9 6.4 1.9 8 1.6 9.7 1.4 12.8 1.6 16.1 1.8 19.3 2 24.1 2.3 28.9 2.5 32.1 2.6 35.3 2.5 40.2 2.5 42.3 2.4M246.0 618.2l.3 .6 .7 1.1 .9 1.4 1.3 1.5 1.9 1.6 2.6 1.6 3.5 1.5 4.9 1.3 6.4 1.4 8 1.6 9.7 1.8 12.8 2.3 16.1 2.8 19.3 3.2 24.1 3.8 28.9 4.3 32.1 4.4 35.3 4.5 40.2 4.7 42.3 4.5M246.0 625.4l.3 .5 .7 .8 .9 1.2 1.3 1.3 1.9 1.6 2.6 1.7 3.5 1.6 4.9 1.5 6.4 1.4 8 1.3 9.7 1.4 12.8 1.7 16.1 2.1 19.3 2.4 24.1 2.7 28.9 3.2 32.1 3.2 35.3 3.2 40.2 3.3 42.3 3.1M246.0 623.2l.3 .6 .7 1.1 .9 1.4 1.3 1.6 1.9 1.8 2.6 1.8 3.5 1.5 4.9 1.3 6.4 1.1 8 1.1 9.7 1.1 12.8 1.4 16.1 1.7 19.3 2 24.1 2.3 28.9 2.6 32.1 2.7 35.3 2.7 40.2 2.8 42.3 2.6M246.0 628.0l.3 .5 .7 1 .9 1.3 1.3 1.5 1.9 1.9 2.6 1.9 3.5 1.8 4.9 1.6 6.4 1.4 8 1.3 9.7 1.3 12.8 1.6 16.1 1.9 19.3 2.2 24.1 2.5 28.9 2.9 32.1 2.9 35.3 2.9 40.2 2.9 42.3 2.8M246.0 609.1l.3 .5 .7 1 .9 1.3 1.3 1.3 1.9 1.5 2.6 1.3 3.5 1.2 4.9 1.1 6.4 1.2 8 1.4 9.7 1.6 12.8 2.1 16.1 2.5 19.3 3 24.1 3.5 28.9 4 32.1 4.1 35.3 4.2 40.2 4.5 42.3 4.3M246.0 644.5l.3 .4 .7 .9 .9 1.2 1.3 1.5 1.9 1.8 2.6 2 3.5 2.1 4.9 1.9 6.4 1.8 8 1.4 9.7 1.3 12.8 1.5 16.1 1.6 19.3 1.8 24.1 2.1 28.9 2.3 32.1 2.3 35.3 2.3 40.2 2.4 42.3 2.1M246.0 640.8l.3 .5 .7 .9 .9 1.3 1.3 1.5 1.9 1.8 2.6 2 3.5 2 4.9 1.9 6.4 1.8 8 1.5 9.7 1.5 12.8 1.8 16.1 2.1 19.3 2.3 24.1 2.7 28.9 3 32.1 3.1 35.3 3 40.2 3.1 42.3 2.8M246.0 651.7l.3 .5 .7 1 .9 1.5 1.3 1.7 1.9 2.2 2.6 2.3 3.5 2.4 4.9 2.2 6.4 2 8 1.6 9.7 1.4 12.8 1.5 16.1 1.7 19.3 1.8 24.1 2.2 28.9 2.4 32.1 2.4 35.3 2.3 40.2 2.4 42.3 2.1M246.0 651.1l.3 .5 .7 .9 .9 1.2 1.3 1.5 1.9 1.8 2.6 1.9 3.5 2 4.9 1.8 6.4 1.5 8 1.3 9.7 1.2 12.8 1.4 16.1 1.6 19.3 1.8 24.1 2.1 28.9 2.2 32.1 2.3 35.3 2.3 40.2 2.2 42.3 2.1M246.0 612.2l.3 .5 .7 .9 .9 1.3 1.3 1.3 1.9 1.5 2.6 1.4 3.5 1.3 4.9 1.2 6.4 1.3 8 1.3 9.7 1.6 12.8 2 16.1 2.4 19.3 2.8 24.1 3.3 28.9 3.8 32.1 4 35.3 4 40.2 4.2 42.3 4M246.0 656.7l.3 .5 .7 .9 .9 1.4 1.3 1.5 1.9 2.1 2.6 2.2 3.5 2.4 4.9 2.2 6.4 2 8 1.6 9.7 1.3 12.8 1.5 16.1 1.5 19.3 1.7 24.1 2 28.9 2.2 32.1 2.1 35.3 2.1 40.2 2.2 42.3 1.9M246.0 629.4l.3 .6 .7 1.1 .9 1.4 1.3 1.5 1.9 1.8 2.6 1.8 3.5 1.5 4.9 1.4 6.4 1.3 8 1.3 9.7 1.4 12.8 1.8 16.1 2.2 19.3 2.5 24.1 2.9 28.9 3.3 32.1 3.3 35.3 3.3 40.2 3.4 42.3 3.1M246.0 636.3l.3 .6 .7 .9 .9 1.3 1.3 1.5 1.9 1.8 2.6 1.9 3.5 1.9 4.9 1.7 6.4 1.4 8 1.3 9.7 1.3 12.8 1.6 16.1 1.8 19.3 2.1 24.1 2.5 28.9 2.7 32.1 2.7 35.3 2.7 40.2 2.8 42.3 2.6M246.0 630.0l.3 .6 .7 1.2 .9 1.6 1.3 1.8 1.9 2.1 2.6 2.2 3.5 1.9 4.9 1.7 6.4 1.4 8 1.3 9.7 1.3 12.8 1.6 16.1 1.9 19.3 2.2 24.1 2.5 28.9 2.9 32.1 2.9 35.3 2.9 40.2 2.9 42.3 2.8M246.0 626.4l.3 .5 .7 1.1 .9 1.5 1.3 1.6 1.9 2 2.6 2 3.5 2 4.9 1.8 6.4 1.6 8 1.4 9.7 1.5 12.8 1.9 16.1 2.2 19.3 2.5 24.1 2.9 28.9 3.3 32.1 3.4 35.3 3.4 40.2 3.5 42.3 3.3M246.0 645.9l.3 .5 .7 1 .9 1.4 1.3 1.6 1.9 1.9 2.6 2 3.5 2.1 4.9 1.9 6.4 1.6 8 1.5 9.7 1.5 12.8 1.7 16.1 2.1 19.3 2.3 24.1 2.7 28.9 3 32.1 3 35.3 3 40.2 3 42.3 2.8M246.0 609.6l.3 .6 .7 .9 .9 1.2 1.3 1.3 1.9 1.3 2.6 1.3 3.5 1 4.9 1.1 6.4 1.1 8 1.2 9.7 1.5 12.8 1.9 16.1 2.3 19.3 2.7 24.1 3.2 28.9 3.6 32.1 3.8 35.3 3.8 40.2 4.1 42.3 3.9M246.0 637.1l.3 .6 .7 1.2 .9 1.5 1.3 1.8 1.9 2.2 2.6 2.1 3.5 2 4.9 1.9 6.4 1.5 8 1.5 9.7 1.4 12.8 1.8 16.1 2.2 19.3 2.4 24.1 2.8 28.9 3.2 32.1 3.2 35.3 3.2 40.2 3.2 42.3 3M246.0 628.1l.3 .5 .7 1 .9 1.2 1.3 1.4 1.9 1.8 2.6 1.6 3.5 1.7 4.9 1.4 6.4 1.4 8 1.3 9.7 1.5 12.8 1.8 16.1 2.1 19.3 2.5 24.1 2.9 28.9 3.2 32.1 3.4 35.3 3.3 40.2 3.4 42.3 3.1M246.0 627.7l.3 .6 .7 1 .9 1.5 1.3 1.6 1.9 1.9 2.6 1.9 3.5 1.8 4.9 1.7 6.4 1.6 8 1.6 9.7 1.7 12.8 2.2 16.1 2.7 19.3 3 24.1 3.5 28.9 4 32.1 4.1 35.3 4 40.2 4.2 42.3 3.9M246.0 652.7l.3 .5 .7 1.1 .9 1.4 1.3 1.6 1.9 2.1 2.6 2.2 3.5 2.2 4.9 2 6.4 1.7 8 1.3 9.7 1.1 12.8 1.2 16.1 1.3 19.3 1.5 24.1 1.7 28.9 1.8 32.1 1.9 35.3 1.8 40.2 1.9 42.3 1.7M246.0 640.1l.3 .4 .7 .9 .9 1.2 1.3 1.4 1.9 1.7 2.6 1.9 3.5 1.9 4.9 1.8 6.4 1.6 8 1.4 9.7 1.3 12.8 1.4 16.1 1.7 19.3 1.9 24.1 2.3 28.9 2.4 32.1 2.5 35.3 2.5 40.2 2.5 42.3 2.3M246.0 620.6l.3 .4 .7 .8 .9 1.1 1.3 1.3 1.9 1.5 2.6 1.6 3.5 1.5 4.9 1.5 6.4 1.4 8 1.4 9.7 1.5 12.8 1.9 16.1 2.3 19.3 2.7 24.1 3.1 28.9 3.5 32.1 3.6 35.3 3.7 40.2 3.8 42.3 3.6M246.0 617.7l.3 .7 .7 1.2 .9 1.5 1.3 1.6 1.9 1.8 2.6 1.7 3.5 1.4 4.9 1.3 6.4 1.3 8 1.5 9.7 1.7 12.8 2.3 16.1 2.6 19.3 3.1 24.1 3.7 28.9 4.1 32.1 4.3 35.3 4.3 40.2 4.5 42.3 4.3M246.0 656.6l.3 .5 .7 .9 .9 1.3 1.3 1.6 1.9 2 2.6 2.2 3.5 2.4 4.9 2.3 6.4 2.1 8 1.7 9.7 1.4 12.8 1.5 16.1 1.6 19.3 1.7 24.1 2 28.9 2.2 32.1 2.2 35.3 2.2 40.2 2.1 42.3 2M246.0 612.3l.3 .5 .7 .9 .9 1.2 1.3 1.3 1.9 1.4 2.6 1.4 3.5 1.3 4.9 1.3 6.4 1.3 8 1.5 9.7 1.8 12.8 2.2 16.1 2.7 19.3 3.1 24.1 3.8 28.9 4.2 32.1 4.4 35.3 4.5 40.2 4.7 42.3 4.5M246.0 618.5l.3 .4 .7 .9 .9 1.3 1.3 1.3 1.9 1.7 2.6 1.7 3.5 1.7 4.9 1.6 6.4 1.6 8 1.7 9.7 1.8 12.8 2.3 16.1 2.8 19.3 3.2 24.1 3.8 28.9 4.2 32.1 4.4 35.3 4.5 40.2 4.7 42.3 4.4M246.0 614.3l.3 .4 .7 .9 .9 1.2 1.3 1.3 1.9 1.5 2.6 1.5 3.5 1.5 4.9 1.3 6.4 1.4 8 1.4 9.7 1.6 12.8 2 16.1 2.5 19.3 2.9 24.1 3.4 28.9 3.8 32.1 4 35.3 4 40.2 4.2 42.3 4.1M246.0 633.9l.3 .5 .7 .9 .9 1.2 1.3 1.4 1.9 1.8 2.6 1.9 3.5 1.9 4.9 1.9 6.4 1.7 8 1.5 9.7 1.5 12.8 1.8 16.1 2.1 19.3 2.3 24.1 2.8 28.9 3 32.1 3.1 35.3 3.1 40.2 3.2 42.3 2.9M246.0 612.2l.3 .6 .7 1 .9 1.4 1.3 1.5 1.9 1.8 2.6 1.6 3.5 1.5 4.9 1.3 6.4 1.3 8 1.4 9.7 1.6 12.8 2 16.1 2.5 19.3 2.8 24.1 3.4 28.9 3.8 32.1 3.9 35.3 4.1 40.2 4.2 42.3 4M246.0 661.2l.3 .6 .7 1.1 .9 1.4 1.3 1.7 1.9 2.2 2.6 2.2 3.5 2.3 4.9 2 6.4 1.7 8 1.4 9.7 1.2 12.8 1.3 16.1 1.4 19.3 1.7 24.1 1.9 28.9 2 32.1 2.1 35.3 2 40.2 2 42.3 1.8M246.0 661.8l.3 .5 .7 1.1 .9 1.5 1.3 1.7 1.9 2.3 2.6 2.3 3.5 2.4 4.9 2.3 6.4 1.9 8 1.6 9.7 1.3 12.8 1.4 16.1 1.6 19.3 1.8 24.1 2.1 28.9 2.2 32.1 2.3 35.3 2.1 40.2 2.2 42.3 1.9M246.0 648.9l.3 .6 .7 1 .9 1.5 1.3 1.6 1.9 2 2.6 2 3.5 1.9 4.9 1.7 6.4 1.4 8 1.3 9.7 1.3 12.8 1.5 16.1 1.9 19.3 2.1 24.1 2.4 28.9 2.6 32.1 2.7 35.3 2.6 40.2 2.7 42.3 2.4M246.0 649.1l.3 .5 .7 1 .9 1.3 1.3 1.5 1.9 1.9 2.6 1.8 3.5 1.8 4.9 1.6 6.4 1.3 8 1.2 9.7 1.1 12.8 1.3 16.1 1.5 19.3 1.8 24.1 2 28.9 2.2 32.1 2.3 35.3 2.2 40.2 2.2 42.3 2.1M246.0 652.5l.3 .6 .7 1.2 .9 1.5 1.3 1.8 1.9 2.1 2.6 2.2 3.5 2.1 4.9 1.8 6.4 1.4 8 1.2 9.7 1 12.8 1.2 16.1 1.5 19.3 1.6 24.1 1.8 28.9 2.1 32.1 2 35.3 2.1 40.2 2 42.3 1.8M246.0 631.5l.3 .4 .7 .8 .9 1.2 1.3 1.3 1.9 1.6 2.6 1.8 3.5 1.8 4.9 1.8 6.4 1.6 8 1.6 9.7 1.6 12.8 2 16.1 2.3 19.3 2.6 24.1 3.1 28.9 3.4 32.1 3.5 35.3 3.5 40.2 3.6 42.3 3.3M246.0 660.7l.3 .5 .7 .9 .9 1.3 1.3 1.5 1.9 2 2.6 2.2 3.5 2.3 4.9 2.2 6.4 2 8 1.6 9.7 1.2 12.8 1.3 16.1 1.3 19.3 1.4 24.1 1.6 28.9 1.7 32.1 1.8 35.3 1.7 40.2 1.7 42.3 1.5M246.0 630.2l.3 .4 .7 .9 .9 1.1 1.3 1.4 1.9 1.7 2.6 1.7 3.5 1.7 4.9 1.7 6.4 1.5 8 1.5 9.7 1.6 12.8 1.9 16.1 2.3 19.3 2.6 24.1 3 28.9 3.4 32.1 3.4 35.3 3.5 40.2 3.5 42.3 3.3M246.0 653.7l.3 .5 .7 1 .9 1.4 1.3 1.6 1.9 2.1 2.6 2.3 3.5 2.4 4.9 2.2 6.4 2 8 1.5 9.7 1.4 12.8 1.3 16.1 1.6 19.3 1.6 24.1 1.9 28.9 2.2 32.1 2.1 35.3 2.1 40.2 2 42.3 1.9M246.0 625.3l.3 .6 .7 1 .9 1.4 1.3 1.5 1.9 1.8 2.6 1.8 3.5 1.7 4.9 1.6 6.4 1.4 8 1.4 9.7 1.5 12.8 1.9 16.1 2.3 19.3 2.6 24.1 3.1 28.9 3.5 32.1 3.5 35.3 3.6 40.2 3.7 42.3 3.4M246.0 661.7l.3 .4 .7 .8 .9 1 1.3 1.2 1.9 1.7 2.6 1.8 3.5 2 4.9 2 6.4 1.8 8 1.5 9.7 1.2 12.8 1.3 16.1 1.4 19.3 1.5 24.1 1.6 28.9 1.9 32.1 1.8 35.3 1.7 40.2 1.8 42.3 1.6M246.0 645.7l.3 .5 .7 .9 .9 1.3 1.3 1.5 1.9 1.9 2.6 1.9 3.5 2 4.9 1.9 6.4 1.6 8 1.4 9.7 1.3 12.8 1.4 16.1 1.7 19.3 1.9 24.1 2.2 28.9 2.5 32.1 2.4 35.3 2.5 40.2 2.4 42.3 2.3M246.0 610.9l.3 .6 .7 1.1 .9 1.3 1.3 1.5 1.9 1.7 2.6 1.5 3.5 1.4 4.9 1.2 6.4 1.2 8 1.2 9.7 1.5 12.8 1.8 16.1 2.2 19.3 2.6 24.1 3.1 28.9 3.5 32.1 3.6 35.3 3.8 40.2 3.8 42.3 3.8M246.0 633.1l.3 .6 .7 1.2 .9 1.6 1.3 1.8 1.9 2.1 2.6 2.1 3.5 1.9 4.9 1.6 6.4 1.4 8 1.4 9.7 1.3 12.8 1.7 16.1 2 19.3 2.3 24.1 2.6 28.9 3 32.1 3 35.3 3 40.2 3.1 42.3 2.9M246.0 617.9l.3 .6 .7 1 .9 1.4 1.3 1.5 1.9 1.8 2.6 1.8 3.5 1.7 4.9 1.5 6.4 1.4 8 1.5 9.7 1.5 12.8 2 16.1 2.4 19.3 2.7 24.1 3.2 28.9 3.7 32.1 3.7 35.3 3.9 40.2 3.9 42.3 3.8M246.0 626.4l.3 .6 .7 1.1 .9 1.4 1.3 1.6 1.9 1.8 2.6 1.9 3.5 1.7 4.9 1.5 6.4 1.3 8 1.1 9.7 1.2 12.8 1.4 16.1 1.7 19.3 2 24.1 2.3 28.9 2.6 32.1 2.7 35.3 2.7 40.2 2.7 42.3 2.6M246.0 629.1l.3 .5 .7 1 .9 1.3 1.3 1.5 1.9 1.9 2.6 1.9 3.5 1.9 4.9 1.8 6.4 1.6 8 1.5 9.7 1.6 12.8 2 16.1 2.3 19.3 2.6 24.1 3.1 28.9 3.4 32.1 3.6 35.3 3.5 40.2 3.6 42.3 3.3M246.0 652.3l.3 .5 .7 .9 .9 1.3 1.3 1.6 1.9 2 2.6 2.2 3.5 2.3 4.9 2.3 6.4 2.1 8 1.7 9.7 1.4 12.8 1.5 16.1 1.6 19.3 1.8 24.1 2.1 28.9 2.3 32.1 2.2 35.3 2.3 40.2 2.2 42.3 2.1M246.0 631.1l.3 .6 .7 1.1 .9 1.4 1.3 1.7 1.9 2 2.6 1.9 3.5 1.9 4.9 1.7 6.4 1.6 8 1.5 9.7 1.6 12.8 2.1 16.1 2.5 19.3 2.8 24.1 3.4 28.9 3.7 32.1 3.7 35.3 3.8 40.2 3.8 42.3 3.6M246.0 660.7l.3 .5 .7 1 .9 1.3 1.3 1.6 1.9 2 2.6 2.1 3.5 2.2 4.9 2.1 6.4 1.8 8 1.4 9.7 1.2 12.8 1.3 16.1 1.3 19.3 1.6 24.1 1.7 28.9 2 32.1 1.9 35.3 1.9 40.2 1.8 42.3 1.7M246.0 618.5l.3 .7 .7 1.3 .9 1.6 1.3 1.7 1.9 1.9 2.6 1.7 3.5 1.5 4.9 1.4 6.4 1.5 8 1.6 9.7 1.9 12.8 2.4 16.1 3 19.3 3.3 24.1 4.1 28.9 4.5 32.1 4.7 35.3 4.7 40.2 4.9 42.3 4.7M246.0 609.7l.3 .5 .7 1 .9 1.2 1.3 1.4 1.9 1.5 2.6 1.6 3.5 1.4 4.9 1.4 6.4 1.4 8 1.6 9.7 1.8 12.8 2.3 16.1 2.8 19.3 3.2 24.1 3.9 28.9 4.4 32.1 4.5 35.3 4.7 40.2 4.9 42.3 4.7M246.0 644.1l.3 .7 .7 1.3 .9 1.6 1.3 1.9 1.9 2.3 2.6 2.3 3.5 2.1 4.9 1.8 6.4 1.4 8 1.2 9.7 1.1 12.8 1.3 16.1 1.6 19.3 1.7 24.1 2.1 28.9 2.2 32.1 2.3 35.3 2.3 40.2 2.3 42.3 2.1M246.0 645.3l.3 .4 .7 .9 .9 1.2 1.3 1.4 1.9 1.8 2.6 1.9 3.5 1.9 4.9 1.8 6.4 1.7 8 1.4 9.7 1.2 12.8 1.4 16.1 1.6 19.3 1.9 24.1 2.1 28.9 2.3 32.1 2.4 35.3 2.3 40.2 2.4 42.3 2.1M246.0 656.7l.3 .5 .7 .9 .9 1.3 1.3 1.6 1.9 2 2.6 2.1 3.5 2.2 4.9 2 6.4 1.8 8 1.4 9.7 1.3 12.8 1.3 16.1 1.6 19.3 1.7 24.1 1.9 28.9 2.2 32.1 2.1 35.3 2.1 40.2 2.1 42.3 1.9M246.0 628.2l.3 .5 .7 .9 .9 1.2 1.3 1.5 1.9 1.8 2.6 1.8 3.5 1.9 4.9 1.8 6.4 1.6 8 1.6 9.7 1.7 12.8 2.1 16.1 2.4 19.3 2.8 24.1 3.4 28.9 3.6 32.1 3.8 35.3 3.8 40.2 3.8 42.3 3.6M246.0 618.7l.3 .6 .7 1 .9 1.4 1.3 1.6 1.9 1.8 2.6 1.7 3.5 1.6 4.9 1.4 6.4 1.3 8 1.2 9.7 1.4 12.8 1.8 16.1 2.1 19.3 2.4 24.1 2.9 28.9 3.2 32.1 3.4 35.3 3.4 40.2 3.5 42.3 3.4M246.0 645.5l.3 .5 .7 1 .9 1.3 1.3 1.6 1.9 1.9 2.6 2 3.5 2 4.9 1.9 6.4 1.6 8 1.5 9.7 1.3 12.8 1.7 16.1 1.9 19.3 2.1 24.1 2.5 28.9 2.8 32.1 2.7 35.3 2.8 40.2 2.8 42.3 2.5M246.0 618.7l.3 .5 .7 1 .9 1.2 1.3 1.3 1.9 1.6 2.6 1.6 3.5 1.5 4.9 1.3 6.4 1.3 8 1.3 9.7 1.5 12.8 1.8 16.1 2.2 19.3 2.6 24.1 3 28.9 3.4 32.1 3.6 35.3 3.5 40.2 3.8 42.3 3.5M246.0 655.7l.3 .6 .7 1.1 .9 1.5 1.3 1.8 1.9 2.1 2.6 2.3 3.5 2.2 4.9 2 6.4 1.6 8 1.3 9.7 1.1 12.8 1.3 16.1 1.4 19.3 1.7 24.1 1.9 28.9 2 32.1 2.1 35.3 2 40.2 2 42.3 1.9M246.0 620.4l.3 .6 .7 1 .9 1.4 1.3 1.5 1.9 1.9 2.6 2 3.5 1.9 4.9 1.8 6.4 1.7 8 1.7 9.7 1.8 12.8 2.3 16.1 2.7 19.3 3.1 24.1 3.8 28.9 4.1 32.1 4.4 35.3 4.3 40.2 4.6 42.3 4.3M246.0 614.0l.3 .6 .7 1 .9 1.3 1.3 1.5 1.9 1.7 2.6 1.7 3.5 1.6 4.9 1.4 6.4 1.4 8 1.5 9.7 1.7 12.8 2.1 16.1 2.7 19.3 3 24.1 3.6 28.9 4 32.1 4.3 35.3 4.3 40.2 4.4 42.3 4.3M246.0 652.0l.3 .5 .7 1 .9 1.4 1.3 1.6 1.9 2 2.6 2.1 3.5 2.1 4.9 1.9 6.4 1.7 8 1.3 9.7 1.2 12.8 1.4 16.1 1.6 19.3 1.8 24.1 2 28.9 2.3 32.1 2.2 35.3 2.2 40.2 2.3 42.3 2M246.0 631.1l.3 .5 .7 .9 .9 1.3 1.3 1.5 1.9 1.9 2.6 1.9 3.5 1.9 4.9 1.9 6.4 1.7 8 1.6 9.7 1.5 12.8 2 16.1 2.3 19.3 2.6 24.1 3 28.9 3.4 32.1 3.5 35.3 3.5 40.2 3.5 42.3 3.3M246.0 627.5l.3 .7 .7 1.2 .9 1.6 1.3 1.7 1.9 2 2.6 1.9 3.5 1.6 4.9 1.4 6.4 1.3 8 1.3 9.7 1.4 12.8 1.8 16.1 2.1 19.3 2.5 24.1 2.9 28.9 3.2 32.1 3.4 35.3 3.3 40.2 3.4 42.3 3.2M246.0 629.1l.3 .7 .7 1.1 .9 1.5 1.3 1.8 1.9 2.1 2.6 2 3.5 2 4.9 1.7 6.4 1.5 8 1.3 9.7 1.4 12.8 1.7 16.1 2.1 19.3 2.3 24.1 2.7 28.9 3.1 32.1 3.1 35.3 3.1 40.2 3.2 42.3 3M246.0 657.6l.3 .4 .7 .9 .9 1.3 1.3 1.4 1.9 1.9 2.6 2 3.5 2 4.9 1.9 6.4 1.7 8 1.4 9.7 1.3 12.8 1.5 16.1 1.7 19.3 2 24.1 2.2 28.9 2.4 32.1 2.4 35.3 2.4 40.2 2.3 42.3 2.1M246.0 626.3l.3 .7 .7 1.3 .9 1.7 1.3 1.9 1.9 2.1 2.6 1.9 3.5 1.6 4.9 1.3 6.4 1.1 8 1 9.7 1.1 12.8 1.3 16.1 1.7 19.3 1.8 24.1 2.3 28.9 2.4 32.1 2.6 35.3 2.5 40.2 2.6 42.3 2.5M246.0 627.9l.3 .6 .7 1.1 .9 1.4 1.3 1.6 1.9 1.8 2.6 1.6 3.5 1.5 4.9 1.2 6.4 1.1 8 1.1 9.7 1.2 12.8 1.5 16.1 1.8 19.3 2.1 24.1 2.4 28.9 2.8 32.1 2.8 35.3 2.7 40.2 2.9 42.3 2.7M246.0 617.2l.3 .5 .7 .9 .9 1.2 1.3 1.4 1.9 1.7 2.6 1.6 3.5 1.5 4.9 1.4 6.4 1.3 8 1.3 9.7 1.4 12.8 1.7 16.1 2.1 19.3 2.4 24.1 2.9 28.9 3.2 32.1 3.3 35.3 3.4 40.2 3.5 42.3 3.4M246.0 618.4l.3 .4 .7 .8 .9 1.1 1.3 1.3 1.9 1.5 2.6 1.5 3.5 1.6 4.9 1.4 6.4 1.5 8 1.5 9.7 1.6 12.8 2.1 16.1 2.5 19.3 2.8 24.1 3.5 28.9 3.8 32.1 4 35.3 4 40.2 4.2 42.3 4M246.0 644.8l.3 .6 .7 1.2 .9 1.6 1.3 1.8 1.9 2.1 2.6 2.2 3.5 2 4.9 1.7 6.4 1.5 8 1.3 9.7 1.4 12.8 1.7 16.1 1.9 19.3 2.3 24.1 2.6 28.9 2.9 32.1 2.9 35.3 2.9 40.2 2.9 42.3 2.7M246.0 622.9l.3 .6 .7 1 .9 1.5 1.3 1.5 1.9 1.8 2.6 1.8 3.5 1.6 4.9 1.4 6.4 1.2 8 1.2 9.7 1.3 12.8 1.7 16.1 2 19.3 2.2 24.1 2.7 28.9 3.1 32.1 3.1 35.3 3.1 40.2 3.3 42.3 3.1M246.0 613.4l.3 .6 .7 1.1 .9 1.4 1.3 1.5 1.9 1.5 2.6 1.4 3.5 1.1 4.9 1 6.4 1 8 1 9.7 1.3 12.8 1.6 16.1 1.9 19.3 2.3 24.1 2.6 28.9 3 32.1 3.1 35.3 3.2 40.2 3.3 42.3 3.2M246.0 654.0l.3 .4 .7 .9 .9 1.2 1.3 1.5 1.9 2 2.6 2.1 3.5 2.2 4.9 2.2 6.4 2 8 1.7 9.7 1.4 12.8 1.4 16.1 1.6 19.3 1.8 24.1 2 28.9 2.2 32.1 2.2 35.3 2.2 40.2 2.1 42.3 2M246.0 661.4l.3 .5 .7 .8 .9 1.2 1.3 1.4 1.9 1.8 2.6 2 3.5 2.1 4.9 1.9 6.4 1.8 8 1.5 9.7 1.2 12.8 1.4 16.1 1.6 19.3 1.7 24.1 2 28.9 2.1 32.1 2.2 35.3 2.1 40.2 2 42.3 1.9M246.0 626.8l.3 .6 .7 1.1 .9 1.4 1.3 1.7 1.9 2 2.6 2 3.5 2 4.9 1.8 6.4 1.7 8 1.6 9.7 1.7 12.8 2.2 16.1 2.5 19.3 3 24.1 3.4 28.9 3.9 32.1 3.9 35.3 4 40.2 4.1 42.3 3.8M246.0 651.0l.3 .4 .7 .9 .9 1.2 1.3 1.3 1.9 1.9 2.6 1.9 3.5 2.1 4.9 2.1 6.4 1.9 8 1.6 9.7 1.6 12.8 1.7 16.1 1.9 19.3 2.2 24.1 2.5 28.9 2.7 32.1 2.8 35.3 2.7 40.2 2.8 42.3 2.5M246.0 631.7l.3 .5 .7 1 .9 1.4 1.3 1.6 1.9 1.9 2.6 2.1 3.5 2.1 4.9 2 6.4 1.7 8 1.6 9.7 1.5 12.8 1.8 16.1 2.1 19.3 2.4 24.1 2.8 28.9 3.2 32.1 3.2 35.3 3.2 40.2 3.2 42.3 3.1M246.0 610.5l.3 .7 .7 1.1 .9 1.5 1.3 1.5 1.9 1.6 2.6 1.4 3.5 1.2 4.9 1 6.4 1.1 8 1.1 9.7 1.4 12.8 1.7 16.1 2.1 19.3 2.5 24.1 2.9 28.9 3.3 32.1 3.4 35.3 3.5 40.2 3.7 42.3 3.5M246.0 641.9l.3 .5 .7 .9 .9 1.2 1.3 1.5 1.9 1.9 2.6 2.1 3.5 2.2 4.9 2.1 6.4 2 8 1.7 9.7 1.5 12.8 1.8 16.1 2 19.3 2.3 24.1 2.6 28.9 3 32.1 2.9 35.3 3 40.2 2.9 42.3 2.8M246.0 648.9l.3 .5 .7 .9 .9 1.2 1.3 1.4 1.9 1.8 2.6 1.9 3.5 1.9 4.9 1.9 6.4 1.6 8 1.4 9.7 1.4 12.8 1.6 16.1 1.9 19.3 2.1 24.1 2.5 28.9 2.7 32.1 2.7 35.3 2.7 40.2 2.7 42.3 2.4M246.0 637.6l.3 .6 .7 1.2 .9 1.5 1.3 1.8 1.9 2.2 2.6 2.2 3.5 2 4.9 1.8 6.4 1.5 8 1.2 9.7 1.1 12.8 1.3 16.1 1.5 19.3 1.7 24.1 2 28.9 2.2 32.1 2.3 35.3 2.3 40.2 2.2 42.3 2.2M246.0 626.5l.3 .5 .7 1.1 .9 1.3 1.3 1.4 1.9 1.7 2.6 1.6 3.5 1.4 4.9 1.2 6.4 1.1 8 1.1 9.7 1.2 12.8 1.5 16.1 1.8 19.3 2 24.1 2.4 28.9 2.7 32.1 2.8 35.3 2.8 40.2 2.9 42.3 2.6M246.0 657.3l.3 .6 .7 1.2 .9 1.6 1.3 1.9 1.9 2.3 2.6 2.3 3.5 2.3 4.9 2 6.4 1.7 8 1.3 9.7 1.2 12.8 1.4 16.1 1.6 19.3 1.8 24.1 2.1 28.9 2.3 32.1 2.3 35.3 2.3 40.2 2.2 42.3 2M246.0 641.8l.3 .5 .7 1 .9 1.3 1.3 1.5 1.9 1.9 2.6 2 3.5 2 4.9 1.9 6.4 1.8 8 1.6 9.7 1.5 12.8 1.9 16.1 2.2 19.3 2.5 24.1 2.9 28.9 3.2 32.1 3.3 35.3 3.2 40.2 3.2 42.3 3M246.0 655.5l.3 .4 .7 .7 .9 1 1.3 1.2 1.9 1.6 2.6 1.7 3.5 2 4.9 1.9 6.4 1.8 8 1.6 9.7 1.4 12.8 1.5 16.1 1.7 19.3 1.9 24.1 2.1 28.9 2.4 32.1 2.4 35.3 2.3 40.2 2.3 42.3 2.1M246.0 626.2l.3 .6 .7 1.2 .9 1.5 1.3 1.7 1.9 2 2.6 1.9 3.5 1.8 4.9 1.5 6.4 1.3 8 1.2 9.7 1.2 12.8 1.5 16.1 1.8 19.3 2.1 24.1 2.5 28.9 2.7 32.1 2.8 35.3 2.8 40.2 2.9 42.3 2.7M246.0 642.0l.3 .5 .7 .9 .9 1.2 1.3 1.4 1.9 1.8 2.6 1.9 3.5 1.9 4.9 1.8 6.4 1.6 8 1.4 9.7 1.2 12.8 1.4 16.1 1.6 19.3 1.8 24.1 2.1 28.9 2.4 32.1 2.4 35.3 2.3 40.2 2.4 42.3 2.2M246.0 642.3l.3 .5 .7 .8 .9 1.3 1.3 1.4 1.9 1.9 2.6 2 3.5 2.1 4.9 2.1 6.4 1.9 8 1.7 9.7 1.5 12.8 1.8 16.1 2.1 19.3 2.3 24.1 2.7 28.9 3 32.1 3 35.3 2.9 40.2 3.1 42.3 2.8M246.0 633.0l.3 .6 .7 1 .9 1.3 1.3 1.6 1.9 1.9 2.6 1.9 3.5 1.7 4.9 1.6 6.4 1.5 8 1.3 9.7 1.4 12.8 1.8 16.1 2 19.3 2.4 24.1 2.8 28.9 3 32.1 3.2 35.3 3.1 40.2 3.2 42.3 2.9M246.0 651.0l.3 .5 .7 .9 .9 1.4 1.3 1.5 1.9 1.9 2.6 2 3.5 1.9 4.9 1.8 6.4 1.6 8 1.2 9.7 1.2 12.8 1.3 16.1 1.5 19.3 1.7 24.1 1.9 28.9 2.2 32.1 2.1 35.3 2.2 40.2 2.1 42.3 2M246.0 649.2l.3 .5 .7 1 .9 1.4 1.3 1.6 1.9 2.1 2.6 2.2 3.5 2.2 4.9 2.1 6.4 1.8 8 1.4 9.7 1.2 12.8 1.2 16.1 1.5 19.3 1.6 24.1 1.8 28.9 2.1 32.1 2 35.3 2.1 40.2 2 42.3 1.9M246.0 644.6l.3 .6 .7 1.1 .9 1.5 1.3 1.7 1.9 2.1 2.6 2 3.5 1.9 4.9 1.7 6.4 1.3 8 1.1 9.7 1 12.8 1.3 16.1 1.4 19.3 1.6 24.1 1.9 28.9 2.1 32.1 2.1 35.3 2.1 40.2 2.1 42.3 2M246.0 637.6l.3 .5 .7 1.1 .9 1.5 1.3 1.7 1.9 2 2.6 2 3.5 1.9 4.9 1.7 6.4 1.5 8 1.3 9.7 1.4 12.8 1.7 16.1 1.9 19.3 2.3 24.1 2.6 28.9 2.9 32.1 3 35.3 2.9 40.2 3 42.3 2.8M246.0 630.8l.3 .6 .7 1.2 .9 1.6 1.3 1.7 1.9 2 2.6 1.9 3.5 1.8 4.9 1.6 6.4 1.4 8 1.3 9.7 1.5 12.8 1.8 16.1 2.2 19.3 2.5 24.1 2.9 28.9 3.2 32.1 3.3 35.3 3.3 40.2 3.4 42.3 3.1M246.0 646.3l.3 .5 .7 .9 .9 1.3 1.3 1.5 1.9 2 2.6 2.1 3.5 2.2 4.9 2.1 6.4 1.9 8 1.5 9.7 1.3 12.8 1.5 16.1 1.6 19.3 1.8 24.1 2.1 28.9 2.3 32.1 2.3 35.3 2.3 40.2 2.3 42.3 2.1M246.0 620.6l.3 .7 .7 1.2 .9 1.5 1.3 1.7 1.9 1.9 2.6 1.8 3.5 1.5 4.9 1.4 6.4 1.2 8 1.3 9.7 1.4 12.8 1.9 16.1 2.2 19.3 2.6 24.1 3 28.9 3.5 32.1 3.5 35.3 3.6 40.2 3.7 42.3 3.5M246.0 655.6l.3 .5 .7 .9 .9 1.2 1.3 1.5 1.9 2 2.6 2.1 3.5 2.2 4.9 2.2 6.4 2 8 1.6 9.7 1.4 12.8 1.5 16.1 1.7 19.3 1.8 24.1 2.1 28.9 2.3 32.1 2.3 35.3 2.3 40.2 2.2 42.3 2.1M246.0 655.5l.3 .5 .7 .9 .9 1.3 1.3 1.4 1.9 1.8 2.6 1.9 3.5 2 4.9 1.8 6.4 1.6 8 1.3 9.7 1.3 12.8 1.6 16.1 1.7 19.3 2 24.1 2.3 28.9 2.5 32.1 2.6 35.3 2.4 40.2 2.5 42.3 2.2M246.0 655.7l.3 .4 .7 .8 .9 1.2 1.3 1.4 1.9 1.8 2.6 2 3.5 2.1 4.9 2.1 6.4 1.8 8 1.6 9.7 1.4 12.8 1.6 16.1 1.7 19.3 1.9 24.1 2.2 28.9 2.4 32.1 2.4 35.3 2.4 40.2 2.3 42.3 2.2M246.0 612.7l.3 .5 .7 1.1 .9 1.3 1.3 1.5 1.9 1.7 2.6 1.6 3.5 1.5 4.9 1.4 6.4 1.4 8 1.5 9.7 1.7 12.8 2.1 16.1 2.7 19.3 3 24.1 3.7 28.9 4.1 32.1 4.2 35.3 4.4 40.2 4.5 42.3 4.4M246.0 648.0l.3 .5 .7 .9 .9 1.3 1.3 1.6 1.9 1.9 2.6 2 3.5 2.1 4.9 1.9 6.4 1.7 8 1.4 9.7 1.3 12.8 1.5 16.1 1.7 19.3 1.9 24.1 2.2 28.9 2.5 32.1 2.4 35.3 2.5 40.2 2.4 42.3 2.3M246.0 645.9l.3 .6 .7 1.1 .9 1.5 1.3 1.7 1.9 2.1 2.6 2.3 3.5 2.2 4.9 2 6.4 1.7 8 1.4 9.7 1.3 12.8 1.5 16.1 1.7 19.3 1.9 24.1 2.3 28.9 2.5 32.1 2.5 35.3 2.5 40.2 2.5 42.3 2.4M246.0 628.6l.3 .5 .7 .9 .9 1.3 1.3 1.5 1.9 1.8 2.6 1.7 3.5 1.7 4.9 1.5 6.4 1.3 8 1.2 9.7 1.3 12.8 1.5 16.1 1.9 19.3 2.1 24.1 2.6 28.9 2.7 32.1 2.9 35.3 2.8 40.2 3 42.3 2.7M246.0 652.5l.3 .5 .7 .9 .9 1.2 1.3 1.4 1.9 1.8 2.6 1.9 3.5 1.9 4.9 1.7 6.4 1.6 8 1.2 9.7 1.1 12.8 1.3 16.1 1.4 19.3 1.6 24.1 1.8 28.9 2 32.1 2 35.3 2 40.2 2 42.3 1.8M246.0 638.8l.3 .6 .7 1 .9 1.4 1.3 1.6 1.9 2.1 2.6 2.1 3.5 2.1 4.9 2 6.4 1.7 8 1.4 9.7 1.3 12.8 1.6 16.1 1.8 19.3 2.1 24.1 2.4 28.9 2.6 32.1 2.7 35.3 2.7 40.2 2.7 42.3 2.6M246.0 613.9l.3 .6 .7 1 .9 1.3 1.3 1.5 1.9 1.6 2.6 1.6 3.5 1.4 4.9 1.3 6.4 1.4 8 1.5 9.7 1.8 12.8 2.3 16.1 2.7 19.3 3.2 24.1 3.8 28.9 4.3 32.1 4.4 35.3 4.6 40.2 4.7 42.3 4.5M246.0 642.1l.3 .7 .7 1.2 .9 1.7 1.3 2 1.9 2.3 2.6 2.3 3.5 2.2 4.9 1.9 6.4 1.6 8 1.3 9.7 1.3 12.8 1.6 16.1 1.8 19.3 2 24.1 2.4 28.9 2.6 32.1 2.7 35.3 2.6 40.2 2.7 42.3 2.5M246.0 623.5l.3 .7 .7 1.3 .9 1.7 1.3 1.8 1.9 2.1 2.6 1.9 3.5 1.7 4.9 1.4 6.4 1.4 8 1.4 9.7 1.5 12.8 1.9 16.1 2.4 19.3 2.7 24.1 3.2 28.9 3.6 32.1 3.6 35.3 3.7 40.2 3.9 42.3 3.6M246.0 657.5l.3 .5 .7 .9 .9 1.2 1.3 1.4 1.9 1.9 2.6 2.1 3.5 2.3 4.9 2.2 6.4 2 8 1.7 9.7 1.4 12.8 1.5 16.1 1.6 19.3 1.7 24.1 2 28.9 2.1 32.1 2.2 35.3 2.1 40.2 2.1 42.3 1.9M246.0 622.6l.3 .5 .7 1 .9 1.2 1.3 1.5 1.9 1.7 2.6 1.8 3.5 1.6 4.9 1.5 6.4 1.3 8 1.3 9.7 1.3 12.8 1.7 16.1 2 19.3 2.3 24.1 2.7 28.9 3 32.1 3.2 35.3 3.1 40.2 3.3 42.3 3.1M246.0 619.9l.3 .6 .7 1.2 .9 1.4 1.3 1.6 1.9 1.8 2.6 1.7 3.5 1.4 4.9 1.3 6.4 1.2 8 1.4 9.7 1.5 12.8 2 16.1 2.4 19.3 2.7 24.1 3.3 28.9 3.7 32.1 3.8 35.3 3.8 40.2 3.9 42.3 3.8M246.0 617.1l.3 .6 .7 1.1 .9 1.3 1.3 1.4 1.9 1.6 2.6 1.4 3.5 1.4 4.9 1.2 6.4 1.2 8 1.4 9.7 1.5 12.8 2.1 16.1 2.4 19.3 2.9 24.1 3.3 28.9 3.8 32.1 4 35.3 4 40.2 4.1 42.3 4M246.0 625.5l.3 .6 .7 1 .9 1.3 1.3 1.5 1.9 1.8 2.6 1.8 3.5 1.8 4.9 1.5 6.4 1.4 8 1.3 9.7 1.3 12.8 1.7 16.1 2 19.3 2.3 24.1 2.7 28.9 3.1 32.1 3.1 35.3 3.1 40.2 3.2 42.3 3M246.0 642.4l.3 .5 .7 1.1 .9 1.4 1.3 1.7 1.9 2 2.6 2 3.5 1.9 4.9 1.6 6.4 1.4 8 1.2 9.7 1.2 12.8 1.4 16.1 1.6 19.3 1.8 24.1 2.2 28.9 2.4 32.1 2.4 35.3 2.4 40.2 2.4 42.3 2.2M246.0 634.2l.3 .6 .7 1.1 .9 1.5 1.3 1.7 1.9 2.1 2.6 1.9 3.5 1.9 4.9 1.5 6.4 1.4 8 1.1 9.7 1.2 12.8 1.5 16.1 1.7 19.3 2 24.1 2.3 28.9 2.6 32.1 2.6 35.3 2.7 40.2 2.6 42.3 2.5M246.0 620.9l.3 .8 .7 1.3 .9 1.7 1.3 1.8 1.9 2 2.6 1.8 3.5 1.5 4.9 1.3 6.4 1.1 8 1.2 9.7 1.4 12.8 1.7 16.1 2.1 19.3 2.5 24.1 2.8 28.9 3.3 32.1 3.3 35.3 3.3 40.2 3.5 42.3 3.3M246.0 652.3l.3 .6 .7 1.2 .9 1.5 1.3 1.8 1.9 2.2 2.6 2.3 3.5 2.2 4.9 2 6.4 1.6 8 1.3 9.7 1.1 12.8 1.3 16.1 1.5 19.3 1.7 24.1 1.9 28.9 2.1 32.1 2.1 35.3 2.1 40.2 2.1 42.3 1.9M246.0 648.2l.3 .4 .7 .9 .9 1.3 1.3 1.4 1.9 1.8 2.6 1.9 3.5 2 4.9 1.8 6.4 1.6 8 1.4 9.7 1.5 12.8 1.7 16.1 2 19.3 2.2 24.1 2.6 28.9 2.9 32.1 2.9 35.3 2.9 40.2 2.9 42.3 2.7M246.0 633.2l.3 .6 .7 1.1 .9 1.5 1.3 1.7 1.9 2.2 2.6 2.2 3.5 2.2 4.9 2 6.4 1.8 8 1.7 9.7 1.6 12.8 2 16.1 2.3 19.3 2.7 24.1 3.1 28.9 3.5 32.1 3.6 35.3 3.5 40.2 3.6 42.3 3.4M246.0 613.2l.3 .5 .7 1 .9 1.3 1.3 1.3 1.9 1.6 2.6 1.6 3.5 1.3 4.9 1.2 6.4 1 8 1 9.7 1.1 12.8 1.4 16.1 1.7 19.3 1.9 24.1 2.3 28.9 2.7 32.1 2.7 35.3 2.7 40.2 2.9 42.3 2.8" stroke="#138cc8" stroke-width=".85" stroke-opacity=".85" fill="none" stroke-linejoin="round" filter="url(#nz)"/><path d="M103.3 748.0l0 0 .3-14.4 .2-11.2 .7-19.4 .8-12.2 .9-7.1 1.3-4.9 1.6-4.2 2-4.3 2.2-4.6 2.9-5.5 3.2-5.5 4-6.1 4.8-6.5 5.7-6.3 6.4-6 8-6 9.7-5.5 11.2-4.6 12.9-3.6 14.4-2.6 16.1-1.8 16-1.1 17.4-.7M103.3 748.0l0 0 .3-18.4 .2-13.3 .7-20.1 .8-10.4 .9-5.3 1.3-4 1.6-4 2-4.3 2.2-4.6 2.9-5.6 3.2-5.6 4-6.2 4.8-6.4 5.7-6.4 6.4-6 8-6 9.7-5.4 11.2-4.4 12.9-3.5 14.4-2.5 16.1-1.8 16-1 17.4-.6M103.3 748.0l0 0 .3-24 .2-16.8 .7-24.5 .8-11.7 .9-5.6 1.3-4 1.6-4 2-4.4 2.2-4.8 2.9-5.6 3.2-5.8 4-6.3 4.8-6.7 5.7-6.6 6.4-6.2 8-6.2 9.7-5.6 11.2-4.8 12.9-3.6 14.4-2.7 16.1-1.9 16-1.1 17.4-.7M103.3 748.0l0 0 .3-25.5 .2-17.7 .7-25.3 .8-11.7 .9-5.3 1.3-3.7 1.6-3.7 2-4 2.2-4.4 2.9-5.2 3.2-5.2 4-5.9 4.8-6 5.7-6 6.4-5.7 8-5.6 9.7-5.1 11.2-4.2 12.9-3.3 14.4-2.4 16.1-1.6 16-1 17.4-.6M103.3 748.0l0 0 .3-22.3 .2-15.9 .7-23.7 .8-11.8 .9-5.8 1.3-4.1 1.6-4 2-4.4 2.2-4.8 2.9-5.6 3.2-5.7 4-6.4 4.8-6.7 5.7-6.6 6.4-6.3 8-6.3 9.7-5.7 11.2-4.8 12.9-3.8 14.4-2.8 16.1-1.9 16-1.2 17.4-.7M103.3 748.0l0 0 .3-24.8 .2-18.1 .7-27.9 .8-14.3 .9-6.8 1.3-4.1 1.6-3.6 2-3.7 2.2-4.1 2.9-4.9 3.2-5 4-5.7 4.8-6 5.7-6 6.4-5.9 8-6 9.7-5.6 11.2-5 12.9-4 14.4-3.1 16.1-2.3 16-1.4 17.4-1M103.3 748.0l0 0 .3-21.4 .2-16.3 .7-27.4 .8-16.1 .9-8.5 1.3-5.3 1.6-3.9 2-4 2.2-4.2 2.9-5 3.2-5.1 4-5.7 4.8-6.1 5.7-6.1 6.4-5.8 8-5.8 9.7-5.5 11.2-4.7 12.9-3.8 14.4-2.8 16.1-2 16-1.3 17.4-.8M103.3 748.0l0 0 .3-21.2 .2-16.1 .7-26.2 .8-15 .9-7.7 1.3-4.9 1.6-4 2-4 2.2-4.4 2.9-5.2 3.2-5.3 4-5.9 4.8-6.3 5.7-6.2 6.4-5.9 8-6 9.7-5.4 11.2-4.7 12.9-3.7 14.4-2.8 16.1-2 16-1.2 17.4-.8M103.3 748.0l0 0 .3-19.4 .2-15 .7-25.4 .8-15.5 .9-8.4 1.3-5.4 1.6-4.2 2-4.2 2.2-4.4 2.9-5.2 3.2-5.4 4-5.9 4.8-6.2 5.7-6.3 6.4-5.9 8-5.9 9.7-5.4 11.2-4.7 12.9-3.6 14.4-2.7 16.1-1.9 16-1.2 17.4-.8M103.3 748.0l0 0 .3-18.1 .2-13.5 .7-21.9 .8-12.5 .9-6.7 1.3-4.6 1.6-4.2 2-4.4 2.2-4.7 2.9-5.6 3.2-5.7 4-6.2 4.8-6.6 5.7-6.4 6.4-6 8-5.9 9.7-5.4 11.2-4.4 12.9-3.4 14.4-2.5 16.1-1.6 16-1 17.4-.6M103.3 748.0l0 0 .3-24.2 .2-16.9 .7-24.1 .8-11.3 .9-5.2 1.3-3.7 1.6-3.7 2-4.1 2.2-4.4 2.9-5.3 3.2-5.3 4-6 4.8-6.3 5.7-6.2 6.4-6 8-5.9 9.7-5.5 11.2-4.7 12.9-3.6 14.4-2.8 16.1-1.9 16-1.2 17.4-.7M103.3 748.0l0 0 .3-16 .2-12.3 .7-20.6 .8-12.4 .9-6.9 1.3-4.9 1.6-4.1 2-4.4 2.2-4.6 2.9-5.5 3.2-5.5 4-6.1 4.8-6.3 5.7-6.3 6.4-5.8 8-5.8 9.7-5.2 11.2-4.3 12.9-3.3 14.4-2.4 16.1-1.6 16-.9 17.4-.6M103.3 748.0l0 0 .3-18.4 .2-14.3 .7-24.1 .8-14.7 .9-8.2 1.3-5.4 1.6-4.4 2-4.5 2.2-4.7 2.9-5.7 3.2-5.6 4-6.4 4.8-6.6 5.7-6.5 6.4-6.2 8-6.2 9.7-5.7 11.2-4.7 12.9-3.7 14.4-2.7 16.1-1.9 16-1.1 17.4-.8M103.3 748.0l0 0 .3-20.1 .2-15.3 .7-25.1 .8-14.5 .9-7.6 1.3-5 1.6-4.1 2-4.3 2.2-4.6 2.9-5.4 3.2-5.5 4-6.1 4.8-6.4 5.7-6.4 6.4-6 8-6 9.7-5.4 11.2-4.7 12.9-3.6 14.4-2.6 16.1-1.9 16-1.1 17.4-.7M103.3 748.0l0 0 .3-17.5 .2-13.6 .7-23.8 .8-15.1 .9-8.6 1.3-5.7 1.6-4.5 2-4.5 2.2-4.7 2.9-5.6 3.2-5.6 4-6.3 4.8-6.6 5.7-6.5 6.4-6.1 8-6.2 9.7-5.6 11.2-4.7 12.9-3.7 14.4-2.7 16.1-1.9 16-1.1 17.4-.7M103.3 748.0l0 0 .3-15.8 .2-12.2 .7-21 .8-13 .9-7.4 1.3-5.3 1.6-4.4 2-4.6 2.2-4.9 2.9-5.8 3.2-5.8 4-6.5 4.8-6.8 5.7-6.7 6.4-6.3 8-6.3 9.7-5.7 11.2-4.7 12.9-3.8 14.4-2.7 16.1-1.8 16-1.2 17.4-.7M103.3 748.0l0 0 .3-20.2 .2-14.6 .7-22.4 .8-11.6 .9-5.7 1.3-4.1 1.6-3.8 2-4.1 2.2-4.5 2.9-5.3 3.2-5.4 4-6 4.8-6.2 5.7-6.3 6.4-5.8 8-5.9 9.7-5.3 11.2-4.5 12.9-3.6 14.4-2.6 16.1-1.8 16-1 17.4-.7M103.3 748.0l0 0 .3-21.6 .2-14.9 .7-21.4 .8-10.2 .9-5 1.3-3.9 1.6-3.9 2-4.5 2.2-4.8 2.9-5.7 3.2-5.7 4-6.4 4.8-6.6 5.7-6.6 6.4-6.1 8-6 9.7-5.5 11.2-4.5 12.9-3.5 14.4-2.5 16.1-1.7 16-1 17.4-.6" stroke="#138cc8" stroke-width="1" stroke-opacity=".95" fill="none" stroke-linejoin="round" filter="url(#nzl)"/><path d="M246.0 603.9l.3 .6 .7 1 .9 1.3 1.3 1.3 1.9 1.3 2.6 1.1 3.5 .9 4.9 .8 6.4 .9 8 1.1 9.7 1.3 12.8 1.6 16.1 2 19.3 2.3 24.1 2.7 28.9 3.2 32.1 3.2 35.3 3.4 40.2 3.5 42.3 3.3M246.0 602.2l.3 .4 .7 .9 .9 1 1.3 1.2 1.9 1.4 2.6 1.2 3.5 1.2 4.9 1.1 6.4 1.1 8 1.2 9.7 1.4 12.8 1.8 16.1 2.1 19.3 2.6 24.1 3 28.9 3.4 32.1 3.6 35.3 3.6 40.2 3.8 42.3 3.7M246.0 584.4l.3 .8 .7 1.3 .9 1.7 1.3 1.7 1.9 1.8 2.6 1.6 3.5 1.3 4.9 1.2 6.4 1.3 8 1.6 9.7 1.8 12.8 2.4 16.1 2.8 19.3 3.3 24.1 4 28.9 4.4 32.1 4.7 35.3 4.7 40.2 4.9 42.3 4.7M246.0 588.9l.3 .7 .7 1.4 .9 1.6 1.3 1.6 1.9 1.6 2.6 1.3 3.5 1.1 4.9 1 6.4 1.2 8 1.3 9.7 1.5 12.8 2 16.1 2.5 19.3 2.8 24.1 3.3 28.9 3.8 32.1 3.9 35.3 4.1 40.2 4.2 42.3 4M246.0 586.7l.3 .5 .7 1.1 .9 1.3 1.3 1.4 1.9 1.5 2.6 1.4 3.5 1.3 4.9 1.1 6.4 1.1 8 1.3 9.7 1.5 12.8 1.9 16.1 2.3 19.3 2.6 24.1 3.2 28.9 3.5 32.1 3.7 35.3 3.8 40.2 4 42.3 3.8M246.0 578.7l.3 .5 .7 .9 .9 1.2 1.3 1.3 1.9 1.6 2.6 1.4 3.5 1.3 4.9 1.3 6.4 1.4 8 1.5 9.7 1.8 12.8 2.3 16.1 2.7 19.3 3.2 24.1 3.7 28.9 4.3 32.1 4.4 35.3 4.5 40.2 4.7 42.3 4.5M246.0 580.4l.3 .6 .7 1.1 .9 1.4 1.3 1.4 1.9 1.5 2.6 1.3 3.5 1.2 4.9 1.1 6.4 1.2 8 1.4 9.7 1.7 12.8 2.1 16.1 2.6 19.3 3 24.1 3.5 28.9 4 32.1 4.2 35.3 4.2 40.2 4.4 42.3 4.3M246.0 583.1l.3 .6 .7 1 .9 1.3 1.3 1.4 1.9 1.6 2.6 1.6 3.5 1.6 4.9 1.5 6.4 1.7 8 2 9.7 2.2 12.8 2.9 16.1 3.6 19.3 4 24.1 4.9 28.9 5.5 32.1 5.7 35.3 5.8 40.2 6.1 42.3 5.8M246.0 585.0l.3 .7 .7 1.2 .9 1.5 1.3 1.6 1.9 1.8 2.6 1.7 3.5 1.5 4.9 1.4 6.4 1.5 8 1.7 9.7 2 12.8 2.5 16.1 3 19.3 3.5 24.1 4.2 28.9 4.7 32.1 4.9 35.3 5 40.2 5.3 42.3 5M246.0 596.1l.3 .5 .7 1 .9 1.2 1.3 1.3 1.9 1.4 2.6 1.3 3.5 1.2 4.9 1.2 6.4 1.4 8 1.6 9.7 1.9 12.8 2.5 16.1 3 19.3 3.4 24.1 4.1 28.9 4.7 32.1 4.8 35.3 5 40.2 5.2 42.3 5M246.0 589.0l.3 .6 .7 1 .9 1.4 1.3 1.3 1.9 1.5 2.6 1.3 3.5 1.1 4.9 1.1 6.4 1.2 8 1.4 9.7 1.7 12.8 2.1 16.1 2.6 19.3 3 24.1 3.6 28.9 4 32.1 4.2 35.3 4.3 40.2 4.5 42.3 4.3M246.0 602.2l.3 .5 .7 .8 .9 1.2 1.3 1.2 1.9 1.4 2.6 1.3 3.5 1.2 4.9 1.1 6.4 1 8 1.3 9.7 1.3 12.8 1.8 16.1 2.2 19.3 2.5 24.1 3 28.9 3.4 32.1 3.6 35.3 3.6 40.2 3.8 42.3 3.7M246.0 585.5l.3 .7 .7 1.2 .9 1.6 1.3 1.5 1.9 1.6 2.6 1.4 3.5 1 4.9 1 6.4 .8 8 1 9.7 1.2 12.8 1.5 16.1 1.8 19.3 2.1 24.1 2.5 28.9 2.8 32.1 2.9 35.3 3 40.2 3.1 42.3 3M246.0 585.6l.3 .5 .7 .8 .9 1.1 1.3 1.2 1.9 1.4 2.6 1.3 3.5 1.2 4.9 1.2 6.4 1.1 8 1.3 9.7 1.5 12.8 1.9 16.1 2.3 19.3 2.6 24.1 3.2 28.9 3.5 32.1 3.8 35.3 3.7 40.2 4 42.3 3.8M246.0 586.7l.3 .4 .7 .9 .9 1.2 1.3 1.2 1.9 1.4 2.6 1.4 3.5 1.2 4.9 1.2 6.4 1.2 8 1.4 9.7 1.6 12.8 2.1 16.1 2.5 19.3 2.9 24.1 3.5 28.9 3.9 32.1 4.1 35.3 4.1 40.2 4.4 42.3 4.1M246.0 594.6l.3 .5 .7 .9 .9 1.1 1.3 1.2 1.9 1.4 2.6 1.4 3.5 1.4 4.9 1.3 6.4 1.5 8 1.6 9.7 2 12.8 2.5 16.1 3.1 19.3 3.5 24.1 4.2 28.9 4.8 32.1 5 35.3 5.1 40.2 5.3 42.3 5.1M246.0 596.6l.3 .6 .7 1.2 .9 1.5 1.3 1.5 1.9 1.6 2.6 1.4 3.5 1.2 4.9 1 6.4 1.2 8 1.3 9.7 1.5 12.8 2 16.1 2.4 19.3 2.8 24.1 3.3 28.9 3.8 32.1 3.9 35.3 4 40.2 4.2 42.3 4M246.0 595.4l.3 .6 .7 1.1 .9 1.4 1.3 1.4 1.9 1.5 2.6 1.2 3.5 1.1 4.9 1.1 6.4 1.2 8 1.5 9.7 1.7 12.8 2.2 16.1 2.7 19.3 3.2 24.1 3.7 28.9 4.2 32.1 4.4 35.3 4.5 40.2 4.7 42.3 4.5" stroke="#138cc8" stroke-width=".8" stroke-opacity=".85" fill="none" stroke-linejoin="round" filter="url(#nzl)"/><path d="M103.3 748.0l0 0 .3-64.6 .2-25.3 .7-18.5 .8-7.9 .9-7.6 1.3-8.9 1.6-9.5 2-9.5 2.2-8.9 2.9-9.2 3.2-7.8 4-7.7 4.8-7.2 5.7-6.8 6.4-6.3 8-6.8 9.7-6.8 11.2-6.6 12.9-6.3 14.4-5.5 16.1-4.9 16-3.7 17.4-3.1 .3 .3 .7 .5 .9 .8 1.3 1 1.9 1.4 2.6 1.6 3.5 2.1 4.9 2.5 6.4 2.9 8 3 9.7 3.1 12.8 3.7 16.1 4 19.3 4.5 24.1 5.1 28.9 5.5 32.1 5.6 35.3 5.4 40.2 5.4 42.3 5" stroke="#138cc8" stroke-width="1" stroke-opacity=".85" fill="none" filter="url(#nzs)"/><path d="M103.5 742.7l.6-18.8 .5-17.7 .6-15.1 .6-13.3 .5-10.1 .6-9 .5-8.2 .6-8.7 .6-7.2 .5-4.4 .6-3.5 .6-4.6 .5-6.2 .6-2.1 .5-1.2 .6-4.2 .6-1.3 .5-2.7 .6-2 .5-1.5 .6-2.7 .6-.9 .5-.8 .6-2.1 .6-1.4 .5 1.2 .6-2.2 .5-.2 .6-1.6 .6 .3 .5-2 .6-.6 .6-.4 .5 0 .6-1.2 .5 0 .6-.3 .6-2 .5 .7 .6-2.6 .6-.1 .5 2 .6-2.6 .5 .8 .6-1.5 .6-.5 .5 1.4 .6-2.1 .6-.4 .5-1.5 .6 1.5 .5-2.2 .6 1.3 .6-1.2 .5 .1 .6-2.5 .6 .4 .5-2.1 .6 1.3 .5-.6 .6-.4 .6 .9 .5-.8 .6-1.7 .6 1.2 .5-.9 .6-.2 .5-.9 .6 .5 .6-.5 .5-.7 .6-.2 .5 .5 .6-1.9 .6 1.6 .5-.4 .6-.3 .6-2.3 .5 .8 .6 .3 .5-.2 .6-1.7 .6 1 .5-.1 .6-2 .6 1.3 .5-1.1 .6-.6 .5 .1 .6-.6 .6-1.6 .5 1.4 .6 .4 .6 .2 .5-1.7 .6-.2 .5-.8 .6 .4 .6-.3 .5 0 .6-.5 .6-.9 .5 .2 .6-.7 .5-1.8 .6 1 .6 1.6 .5-3.3 .6 1.1 .6 .9 .5-1.9 .6 .5 .5 .4 .6-.3 .6 .1 .5-1.2 .6-1.1 .6 1 .5-.9 .6-1.5 .5 2.6 .6-1.6 .6 .3 .5 .5 .6-.3 .5-1.1 .6-.6 .6 .6 .5-.7 .6-.8 .6 .2 .5-.8 .6 .2 .5-.2 .6-1.4 .6 .9 .5 .2 .6-.7 .6 1.3 .5-.7 .6-1.2 .5-.1 .6-1 .6 1.2 .5 1.2 .6-3.3 .6 .6 .5 1.8 .6-2.4 .5 1 .6 1.6 .6-1.5 .5-.1 .6-2 .6 2 .5-.7 .6-.1 .5-.1 .6 .3 .6-1.2 .5-.9 .6 .3 .6 1.2 .5 .1 .6-1.3 .5 .6 .6-.3 .6 .9 .5-3.5 .6 .8 .6 1.6 .5-1.9 .6-.5 .5 3.2 .6-1.8 .6-.2 .5-1.1 .6 .5 .6 0 .5-.3 .6-1.9 .5-.4 .6 2.4 .6 .2 .5-3.4 .6 3.2 .5-.5 .6-.7 .6-.5 .5-.6 .6 .4 .6 1.1 .5-1.4 .6 .1 .5-1.6 .6 1.6 .6 1.1 .5-.4 .6-2.3 .6 1.7 .5 1.3 .6-1.5 .5-.7 .6-1.1 .6 1.9 .5-1.7 .6-.2 .6 1.3 .5-.6 .6-1.9 .5 0 .6 .6 .6 .4 .5-.8 .6 1.1 .6-.2 .5 .6 .6-.9 .5 0 .6-2.7 .6 2.6 .5-1.4 .6-.1 .6 1.3 .5-1.4 .6 3 .5-2.1 .6-.8 .6 2.9 .5-1.3 .6-2.1 .6 1.2 .5 .6 .6-.7 .5 .1 .6-1.3 .6 .2 .5 .6 .6 .3 .5-.7 .6-1.3 .6 .8 .5-.3 .6 .6 .6 1 .5-.6 .6-1.3 .5 .4 .6 .8 .6 .6 .5-1.6 .6 .3 .6 0" stroke="#138cc8" stroke-width="1.1" stroke-opacity=".9" fill="none" stroke-linejoin="round"/><path d="M246.0 539.0l.3 .7 .7 1.3 .9 1.9 1.3 2.3 1.9 3.1 2.6 3.5 3.5 4 4.9 4.2 6.4 4 8 3.5 9.7 3 12.8 3 16.1 3 19.3 3.3 24.1 3.9 28.9 4.3 32.1 4.5 35.3 4.7 40.2 4.8 42.3 4.7" stroke="#138cc8" stroke-width="1.1" stroke-opacity=".95" fill="none" filter="url(#nzs)"/><path d="M103.5 742.6l.6-19 .5-15.9 .6-14.5 .6-12.1 .5-10.8 .6-8.7 .5-7 .6-7.2 .6-6.7 .5-4.6 .6-5.5 .6-4.7 .5-1.9 .6-2.4 .5-5.5 .6-1.5 .6-2.9 .5-.2 .6-4.6 .5-.8 .6-.7 .6-1.2 .5-1.7 .6-.9 .6-.9 .5-.2 .6-3.1 .5 .3 .6-.9 .6-.8 .5 1.5 .6-3.3 .6 .1 .5-.6 .6-1 .5 .4 .6-2.2 .6 .8 .5-.3 .6-.6 .6-1.4 .5-1 .6 .7 .5 .4 .6-2.9 .6 1.5 .5-2.5 .6 .7 .6 .1 .5-.4 .6-1.5 .5-.8 .6 .6 .6-1.5 .5-1.4 .6 1.7 .6 .4 .5-.5 .6 0 .5-1.1 .6-.3 .6 .1 .5-2 .6 2.5 .6-1.6 .5-3.4 .6 .5 .5 .2 .6-.3 .6-1.6 .5 .8 .6 .1 .5 .8 .6-1.4 .6 .3 .5-.4 .6-.3 .6-.9 .5-.1 .6-1.4 .5 1.7 .6-1.4 .6-2.2 .5 1.4 .6-1.4 .6-.2 .5-.5 .6 .2 .5 1.7 .6-1.3 .6-.2 .5 .7 .6-1.2 .6 .4 .5 .1 .6-2 .5 0 .6 .3 .6 0 .5-.7 .6-.4 .6-.2 .5-.6 .6 .1 .5-1 .6-.4 .6-.1 .5 .7 .6-.3 .6-1.2 .5 .3 .6-.4 .5 2 .6 0 .6-3 .5-.3 .6-1.2 .6 .4 .5 .2 .6 0 .5 1.1 .6-2.3 .6 1.1 .5-1.2 .6 0 .5-.2 .6-.8 .6 1 .5-.3 .6 .3 .6-.7 .5-2 .6 1.6 .5-1.6 .6 .1 .6-.1 .5-.2 .6 1.4 .6-1.4 .5-1.3 .6 1.9 .5-.8 .6 .4 .6-1.1 .5 1.1 .6-2.6 .6 1.6 .5 .9 .6-3.2 .5 .6 .6 .2 .6-.2 .5 .7 .6-.3 .6-1 .5-.4 .6-.2 .5 .5 .6 .5 .6-.4 .5-1.4 .6-.4 .6 1.5 .5-.1 .6-1.7 .5 .3 .6-.1 .6 1.7 .5-1 .6 0 .6-.8 .5 1.6 .6-2.9 .5 .8 .6-.3 .6 1.4 .5-1.2 .6-1.4 .6 2.5 .5-1.8 .6-.5 .5 1.1 .6-1.5 .6 .9 .5-1.5 .6 .5 .5 .2 .6-1.8 .6 1 .5-.6 .6 2.2 .6-.6 .5-1.5 .6-.2 .5 .8 .6-.9 .6 1.6 .5-1.3 .6 1.1 .6-1.4 .5 .6 .6 0 .5-.7 .6-1.7 .6 2.5 .5-.5 .6-1.6 .6 1.2 .5-2.1 .6 1.3 .5 0 .6-.3 .6-1.4 .5 .9 .6 .1 .6 .1 .5 1.6 .6-.7 .5-2.3 .6 .5 .6 .2 .5-.2 .6 1 .6-.9 .5 1 .6-1.2 .5 .9 .6-.5 .6-.7 .5 .6 .6-1 .6 .1 .5 0 .6-.9 .5 2.4 .6 .1 .6-2.1 .5-.4 .6-1 .5 1 .6-.1 .6 1.5 .5-1.6 .6 0 .6 1.5 .5-.2 .6-.8 .5-.4 .6 2.8 .6-2.8 .5-.2 .6 .3 .6-.5" stroke="#138cc8" stroke-width="1.1" stroke-opacity=".9" fill="none" stroke-linejoin="round"/><path d="M246.0 546.1l.3 .9 .7 1.7 .9 2.4 1.3 2.8 1.9 3.7 2.6 3.9 3.5 4.2 4.9 4 6.4 3.5 8 2.8 9.7 2.4 12.8 2.5 16.1 2.9 19.3 3.1 24.1 3.8 28.9 4.3 32.1 4.4 35.3 4.6 40.2 4.8 42.3 4.7" stroke="#138cc8" stroke-width="1.1" stroke-opacity=".95" fill="none" filter="url(#nzs)"/><path d="M103.5 742.1l.6-16.2 .5-16.6 .6-12.6 .6-10.9 .5-11.1 .6-9.8 .5-5 .6-6.5 .6-5.8 .5-8.4 .6-2.4 .6-4.1 .5-2.8 .6-2.9 .5-1.7 .6-4.4 .6-2.2 .5 .1 .6-2.5 .5-1.9 .6-2 .6-1.5 .5-1.9 .6-1.3 .6-.7 .5-1.1 .6 1.4 .5-1.3 .6-2.3 .6 .1 .5-.4 .6 1.2 .6-.6 .5-3 .6-.1 .5 0 .6-.3 .6 .7 .5-2.4 .6-1.1 .6-.9 .5 1 .6-.2 .5 .4 .6-2.5 .6-.9 .5 1.8 .6-1.2 .6-.2 .5 .2 .6 1.4 .5-2.3 .6-1.3 .6 1.6 .5-.9 .6 1.8 .6-4.5 .5 .4 .6 .1 .5 0 .6 0 .6-.9 .5-.1 .6-.3 .6-.6 .5-.4 .6-1.6 .5 2.4 .6-1.8 .6 .5 .5 .1 .6 .9 .5-3 .6 1.1 .6-.5 .5-1.4 .6 1.2 .6-1.3 .5-.2 .6-1.1 .5-.4 .6 1.4 .6-1.9 .5 .7 .6-.5 .6 .1 .5-1.2 .6 1.6 .5-1.6 .6-1.1 .6 1.1 .5-2.3 .6 2.2 .6-1.1 .5 .4 .6-.1 .5 .2 .6-.7 .6-.7 .5 .5 .6-1.8 .6-.8 .5 2.6 .6-2.4 .5 .4 .6-.3 .6-2.2 .5 .9 .6 .6 .6-.1 .5 1.9 .6-2.8 .5 1.2 .6-1.1 .6-.1 .5-1 .6-1.2 .6 .8 .5-.4 .6 1.1 .5-.8 .6-.4 .6 1.8 .5-3.4 .6 2.4 .5 .3 .6-2.8 .6-.6 .5 2.4 .6-.3 .6-3.6 .5 2.6 .6 1.7 .5-1.4 .6-2.5 .6 1 .5-.2 .6-.6 .6 .4 .5 .7 .6 1 .5-2 .6 1.3 .6-1.1 .5-1.8 .6 .9 .6 .3 .5-.1 .6-.8 .5-.3 .6 1.9 .6-1.5 .5-1.6 .6 .8 .6 1.2 .5-.2 .6 1.1 .5-1.2 .6-2.4 .6 1.4 .5 .6 .6-.4 .6-.5 .5-.1 .6 .1 .5 .2 .6-1.4 .6-.9 .5 1.8 .6-.2 .6-1.7 .5 2.3 .6-.9 .5-.3 .6-.6 .6 .3 .5 .4 .6-1.2 .6 1.3 .5 .4 .6 .2 .5-2.7 .6 2.2 .6-2.1 .5-.3 .6-.3 .5 .8 .6 .3 .6-.7 .5 .5 .6 .6 .6-2.5 .5 1.9 .6-2.5 .5 1 .6 .8 .6-.9 .5-.8 .6 2.3 .6-.5 .5 0 .6-1.2 .5-.3 .6 .3 .6 .6 .5-.3 .6-1.6 .6-.1 .5 .9 .6 1.2 .5-1.9 .6 .3 .6-.1 .5-1.4 .6 .7 .6 1.6 .5-.1 .6-2.2 .5 1 .6-.7 .6 .8 .5 .7 .6-1.2 .6-1.3 .5 1.1 .6 1.3 .5-.9 .6 .1 .6-.7 .5-.8 .6-.9 .6 1.5 .5 .5 .6-.5 .5 0 .6 .3 .6-.5 .5 0 .6 1 .5-1.6 .6 .7 .6 .5 .5-1.4 .6 .9 .6-2.1 .5 1.1 .6 .3 .5 .7 .6-.4 .6-1.2 .5 1.4 .6-1.4 .6 2.5" stroke="#138cc8" stroke-width="1.1" stroke-opacity=".9" fill="none" stroke-linejoin="round"/><path d="M246.0 562.0l.3 .3 .7 .6 .9 .9 1.3 1.1 1.9 1.4 2.6 1.5 3.5 1.8 4.9 1.8 6.4 2 8 2.1 9.7 2.3 12.8 2.8 16.1 3.4 19.3 4 24.1 4.7 28.9 5.4 32.1 5.6 35.3 5.7 40.2 6.1 42.3 5.8" stroke="#138cc8" stroke-width="1.1" stroke-opacity=".95" fill="none" filter="url(#nzs)"/><path d="M287.4 613.4V748.0M338.6 615.9V748.0M389.8 618.3V748.0M441.0 620.7V748.0M492.2 623.2V748.0" stroke="#138cc8" stroke-width="1" stroke-opacity=".7" fill="none"/></g>
<path d="M244.1 465V755M246.4 465V755" stroke="#f98cf4" stroke-width="1.8" stroke-opacity=".78" fill="none"/>
<rect x="94.8" y="463.8" width="442.7" height="292.2" fill="none" stroke="#000" stroke-width="2.3"/>
<text x="83.7" y="754.4" font-size="17.5" textLength="9.6" lengthAdjust="spacingAndGlyphs">0</text>
<text x="61.9" y="715.9" font-size="17.5" textLength="31.4" lengthAdjust="spacingAndGlyphs">100</text>
<text x="61.9" y="676.3" font-size="17.5" textLength="31.4" lengthAdjust="spacingAndGlyphs">200</text>
<text x="61.9" y="636.8" font-size="17.5" textLength="31.4" lengthAdjust="spacingAndGlyphs">300</text>
<text x="61.9" y="597.2" font-size="17.5" textLength="31.4" lengthAdjust="spacingAndGlyphs">400</text>
<text x="61.9" y="557.6" font-size="17.5" textLength="31.4" lengthAdjust="spacingAndGlyphs">500</text>
<text x="61.9" y="518.0" font-size="17.5" textLength="31.4" lengthAdjust="spacingAndGlyphs">600</text>
<text x="61.9" y="478.4" font-size="17.5" textLength="31.4" lengthAdjust="spacingAndGlyphs">700</text>
<text x="140.6" y="775.0" font-size="17.5" textLength="31.8" lengthAdjust="spacingAndGlyphs">400</text>
<text x="204.8" y="775.0" font-size="17.5" textLength="31.8" lengthAdjust="spacingAndGlyphs">800</text>
<text x="263.2" y="775.0" font-size="17.5" textLength="43.6" lengthAdjust="spacingAndGlyphs">1200</text>
<text x="327.4" y="775.0" font-size="17.5" textLength="43.6" lengthAdjust="spacingAndGlyphs">1600</text>
<text x="391.7" y="775.0" font-size="17.5" textLength="43.6" lengthAdjust="spacingAndGlyphs">2000</text>
<text x="456.0" y="775.0" font-size="17.5" textLength="43.6" lengthAdjust="spacingAndGlyphs">2400</text>
<text x="278.6" y="802.4" font-size="17.5" textLength="68.6" lengthAdjust="spacingAndGlyphs">Time (s)</text>
<text transform="translate(52.7 685.0) rotate(-90)" font-size="17.5" textLength="122" lengthAdjust="spacingAndGlyphs">Response (RU)</text>
<text class="ser" x="101.7" y="452.5" font-size="25.5" textLength="108.2" lengthAdjust="spacingAndGlyphs">Post-Acid</text>
<text class="ser" x="224.4" y="452.5" font-size="25.5" textLength="156.4" lengthAdjust="spacingAndGlyphs">Regeneration</text>
<text class="ser" x="10" y="432.5" font-size="41.5" textLength="23.8" lengthAdjust="spacingAndGlyphs">B</text>
<g stroke="#4a9fc6" stroke-width="3.9" fill="none" stroke-linejoin="miter"><path d="M113.4 476.20000000000005L121.9 483.8V505.6"/><path d="M136.6 476.20000000000005L128.1 483.8V505.6"/><path d="M109.4 479.8L117.4 486.6" stroke-width="3.6"/><path d="M140.6 479.8L132.6 486.6" stroke-width="3.6"/></g>
</svg>
</body></html>
